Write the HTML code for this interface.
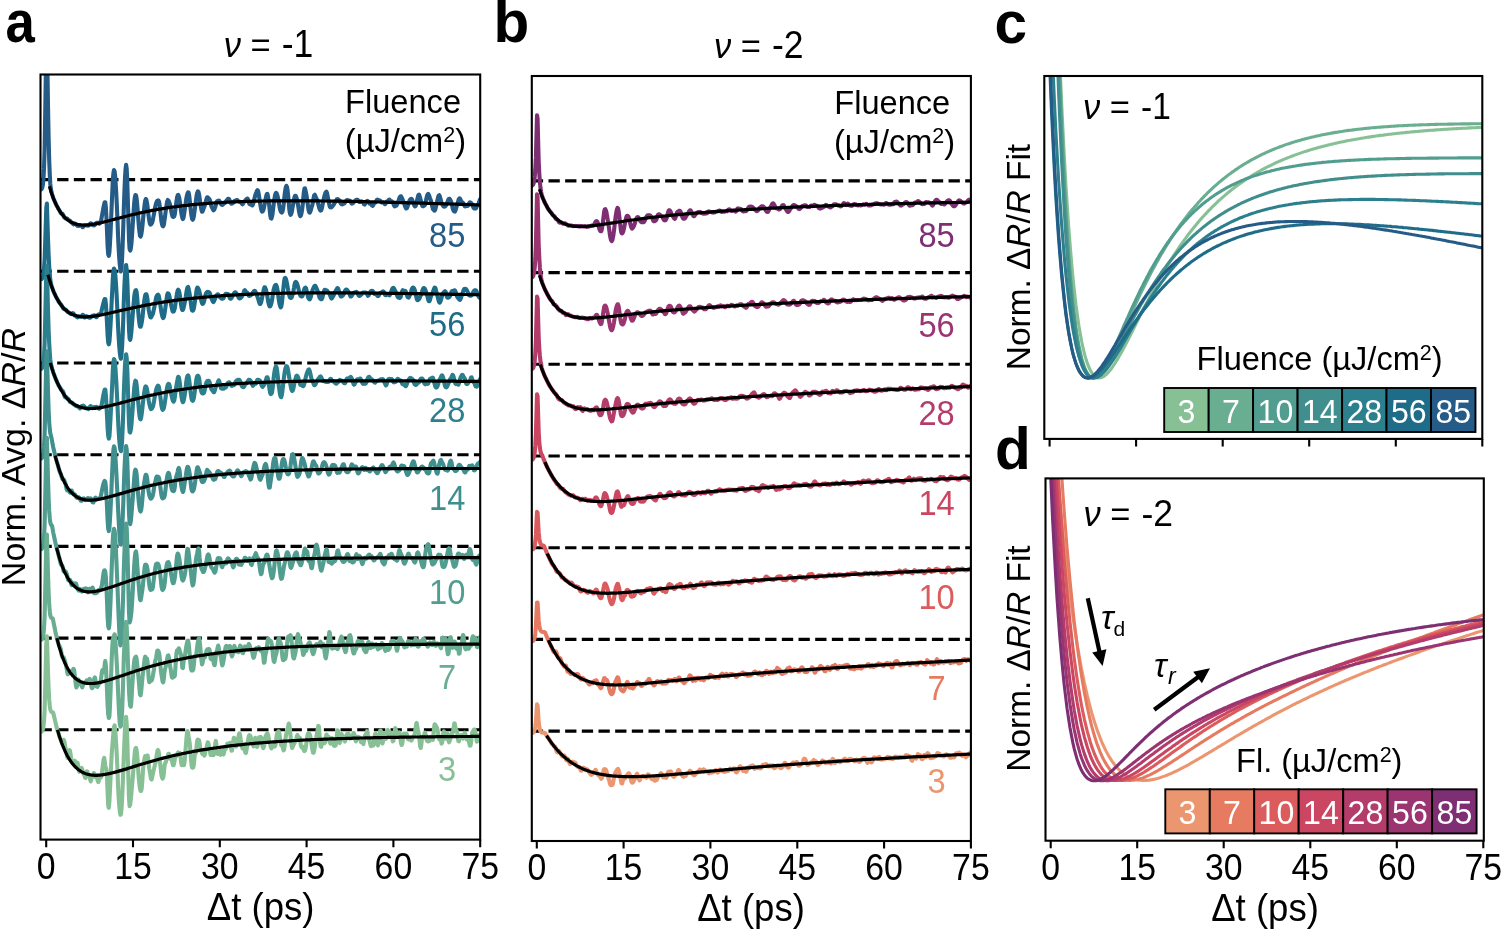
<!DOCTYPE html>
<html lang="en"><head><meta charset="utf-8"><title>Figure</title>
<style>html,body{margin:0;padding:0;background:#fff}svg{display:block}</style></head>
<body>
<svg width="1501" height="929" viewBox="0 0 1501 929" font-family='"Liberation Sans", sans-serif' font-size="33.5">
<rect width="1501" height="929" fill="#fff"/>
<defs>
<clipPath id="ca"><rect x="40.5" y="74.5" width="439.7" height="765.1"/></clipPath>
<clipPath id="cb"><rect x="531.8" y="76.0" width="439.1" height="765.0"/></clipPath>
<clipPath id="cc"><rect x="1044.3" y="76.0" width="438.0" height="362.9"/></clipPath>
<clipPath id="cd"><rect x="1045.5" y="478.4" width="438.3" height="362.3"/></clipPath>
</defs>
<path d="M40.5 179.6H480.2M40.5 271.3H480.2M40.5 363.0H480.2M40.5 454.7H480.2M40.5 546.4H480.2M40.5 638.1H480.2M40.5 729.8H480.2" stroke="#000" stroke-width="3.1" stroke-dasharray="11.3 5.37" fill="none"/>
<g clip-path="url(#ca)" fill="none" stroke-linejoin="round" stroke-linecap="round">
<path d="M40.5 189.5L41.1 189.4L41.7 188.9L42.2 187.8L42.8 185.2L43.4 179.7L44 168.9L44.6 149.9L45.1 119.9L45.7 81.1L46.3 43L46.9 34.2L47.4 67L48 105.5L48.6 137.3L49.2 160.3L49.8 175.2L50.3 183.9L50.9 188.9L51.5 192.1L52.1 194.3L52.7 196.1L53.2 197.7L53.8 199.2L54.4 200.6L55 202L55.5 203.2L56.1 204.5L56.7 205.7L57.3 206.8L57.9 207.8L58.4 208.8L59 209.7L59.6 210.7L60.2 212L60.8 213.1L61.3 213.6L61.9 213.6L62.5 213.9L63.1 214.8L63.6 216.1L64.2 217.3L64.8 217.9L65.4 218.3L66 218.5L66.5 218.5L67.1 218.6L67.7 219.1L68.3 219.7L68.9 220.1L69.4 220.3L70 220.8L70.6 221.6L71.2 222.2L71.7 222.6L72.3 223L72.9 223.8L73.5 224.3L74.1 224L74.6 223.6L75.2 223.5L75.8 224L76.4 224.6L77 225.3L77.5 225.8L78.1 225.9L78.7 225.9L79.3 225.6L79.9 225.4L80.4 225.2L81 225.3L81.6 226L82.2 226.7L82.7 227.2L83.3 226.8L83.9 225.9L84.5 225.3L85.1 225.2L85.6 225.3L86.2 225.2L86.8 225.3L87.4 225.6L88 225.7L88.5 225.5L89.1 224.9L89.7 224.3L90.3 223.6L90.8 223.3L91.4 223.7L92 224.4L92.6 224.9L93.2 225.2L93.7 225.4L94.3 225.3L94.9 224.9L95.5 224L96.1 223.2L96.6 222.8L97.2 222.7L97.8 222.8L98.4 223.2L98.9 223.6L99.5 223.6L100.1 223L100.7 221.7L101.3 219.6L101.8 216.7L102.4 213.4L103 210L103.6 206.7L104.2 204.1L104.7 202.3L105.3 202.2L105.9 208L106.5 219.2L107.1 233.3L107.6 246.2L108.2 254.2L108.8 255.9L109.4 252.3L109.9 244.7L110.5 233.7L111.1 220L111.7 205.3L112.3 191.5L112.8 180.5L113.4 173.2L114 170L114.6 171.3L115.2 176.3L115.7 184.2L116.3 194.4L116.9 206.6L117.5 220.4L118 234.6L118.6 247.4L119.2 257.6L119.8 264.8L120.4 269.5L120.9 271.5L121.5 268L122.1 258.2L122.7 243.5L123.3 226.4L123.8 208.8L124.4 192L125 177.9L125.6 168.4L126.1 164.7L126.7 168.9L127.3 182.4L127.9 202L128.5 222.6L129 239.5L129.6 249.1L130.2 250.6L130.8 248.6L131.4 244L131.9 237.1L132.5 228.4L133.1 219.2L133.7 210.4L134.2 203.1L134.8 197.7L135.4 195L136 195.3L136.6 198.3L137.1 203.5L137.7 210.6L138.3 219L138.9 226.7L139.5 232.3L140 235.7L140.6 236.5L141.2 234.8L141.8 231.2L142.4 226.3L142.9 220.7L143.5 214.7L144.1 208.9L144.7 204.1L145.2 200.6L145.8 199L146.4 199.9L147 202.8L147.6 207.1L148.1 212L148.7 216.6L149.3 220.8L149.9 223.6L150.5 224.6L151 224.4L151.6 223.7L152.2 222.5L152.8 220.2L153.3 217.5L153.9 214.4L154.5 210.9L155.1 207.4L155.7 204.8L156.2 202.9L156.8 201.6L157.4 200.8L158 200.4L158.6 200.5L159.1 202.1L159.7 205.7L160.3 211L160.9 216.5L161.4 221L162 224.2L162.6 226.1L163.2 226.3L163.8 224.9L164.3 221.7L164.9 217.5L165.5 212.8L166.1 208.2L166.7 204.2L167.2 201.3L167.8 200L168.4 200.5L169 201.7L169.6 203.2L170.1 205.2L170.7 208L171.3 211.3L171.9 214.3L172.4 216.2L173 216.9L173.6 216.9L174.2 216.3L174.8 214.4L175.3 210.5L175.9 205.6L176.5 201L177.1 197.3L177.7 195.2L178.2 194.8L178.8 196.2L179.4 198.8L180 202.5L180.5 207L181.1 211.4L181.7 215.1L182.3 217.8L182.9 219L183.4 218L184 214.9L184.6 210.7L185.2 206.5L185.8 202.4L186.3 198.6L186.9 195.6L187.5 193.5L188.1 192.3L188.6 192.6L189.2 195.5L189.8 200.8L190.4 206.9L191 212.1L191.5 215.9L192.1 218.7L192.7 219.8L193.3 218.8L193.9 216.1L194.4 212.3L195 207.9L195.6 203L196.2 198.6L196.7 195.1L197.3 192.6L197.9 191.3L198.5 191.9L199.1 194.4L199.6 198.1L200.2 202.2L200.8 206.3L201.4 209.7L202 211.7L202.5 211.5L203.1 210L203.7 208.3L204.3 206.8L204.9 205.3L205.4 203.2L206 200.7L206.6 198.5L207.2 197.2L207.7 197.2L208.3 198L208.9 198.7L209.5 199.3L210.1 200.7L210.6 203.2L211.2 205.6L211.8 207.2L212.4 208.4L213 209.6L213.5 210.3L214.1 209.8L214.7 208.5L215.3 206.9L215.8 204.9L216.4 202.9L217 201.4L217.6 200.9L218.2 200.8L218.7 200.6L219.3 200.8L219.9 201.7L220.5 203L221.1 204.1L221.6 204.7L222.2 205L222.8 204.6L223.4 203.9L223.9 203.6L224.5 203.4L225.1 202.8L225.7 201.7L226.3 200.8L226.8 200.2L227.4 199.5L228 198.8L228.6 198.7L229.2 199.4L229.7 200.5L230.3 201.8L230.9 203.1L231.5 203.8L232 203.8L232.6 203.3L233.2 202.8L233.8 201.9L234.4 201.1L234.9 200.7L235.5 200.6L236.1 200.3L236.7 200L237.3 200.1L237.8 200.6L238.4 201.2L239 201.6L239.6 201.9L240.2 201.8L240.7 202L241.3 202.7L241.9 203.7L242.5 204.3L243 203.8L243.6 202.8L244.2 201.8L244.8 200.9L245.4 200.3L245.9 199.7L246.5 199L247.1 198.5L247.7 198.7L248.3 200.3L248.8 202.5L249.4 204L250 204.3L250.6 204.1L251.1 204.5L251.7 205.1L252.3 205.4L252.9 204.6L253.5 202.7L254 200.4L254.6 197.9L255.2 195.5L255.8 193.7L256.4 192.3L256.9 191L257.5 190.1L258.1 190.9L258.7 193.8L259.2 197.4L259.8 201.2L260.4 205.1L261 208.5L261.6 210.8L262.1 211.6L262.7 211.5L263.3 210.2L263.9 207.8L264.5 204.9L265 201.8L265.6 198.9L266.2 196.1L266.8 194.2L267.4 193.9L267.9 195.8L268.5 199.7L269.1 204.6L269.7 210L270.2 215L270.8 218.2L271.4 218.6L272 216.7L272.6 213.3L273.1 208.9L273.7 204L274.3 199.5L274.9 196.1L275.5 193.8L276 192.9L276.6 193.3L277.2 194.8L277.8 197.1L278.3 199.7L278.9 202.9L279.5 206.5L280.1 209.6L280.7 211.4L281.2 212.2L281.8 212.6L282.4 211.8L283 209.3L283.6 205L284.1 199.7L284.7 194.3L285.3 189.8L285.9 186.9L286.4 185.9L287 187L287.6 190.4L288.2 196.1L288.8 203.1L289.3 209.3L289.9 213.3L290.5 214.8L291.1 214.2L291.7 212.3L292.2 209.4L292.8 206.2L293.4 202.9L294 199.7L294.5 197.1L295.1 195.7L295.7 195.8L296.3 197.1L296.9 199.1L297.4 201.7L298 204.8L298.6 208.6L299.2 212.3L299.8 215L300.3 216.1L300.9 215.5L301.5 213.2L302.1 209.8L302.7 205.1L303.2 199L303.8 192.6L304.4 188.7L305 188.4L305.5 190.4L306.1 193.3L306.7 196.7L307.3 200.8L307.9 205.2L308.4 209L309 211.8L309.6 212.7L310.2 211.9L310.8 210.3L311.3 208.2L311.9 206.4L312.5 204.4L313.1 201.4L313.6 197.9L314.2 195.2L314.8 194.7L315.4 196L316 197.5L316.5 198.6L317.1 200L317.7 201.9L318.3 204.4L318.9 206.7L319.4 208.5L320 209.9L320.6 210.6L321.2 210.4L321.7 208.9L322.3 206.2L322.9 203L323.5 199.9L324.1 197.4L324.6 195.3L325.2 193.5L325.8 192.1L326.4 191.7L327 192.9L327.5 195.4L328.1 198.6L328.7 201.8L329.3 204.7L329.8 206.7L330.4 207.3L331 207.4L331.6 207.2L332.2 206.5L332.7 205.8L333.3 205.1L333.9 204.3L334.5 203.1L335.1 202.2L335.6 201.5L336.2 200.5L336.8 199.4L337.4 199.1L338 199.3L338.5 199.6L339.1 200.2L339.7 201.3L340.3 202.6L340.8 203.5L341.4 204.2L342 204.4L342.6 204.1L343.2 203.8L343.7 203.7L344.3 203.4L344.9 202.6L345.5 201.6L346.1 200.8L346.6 200.2L347.2 200.1L347.8 200.2L348.4 200.4L348.9 200.6L349.5 200.7L350.1 201L350.7 201.9L351.3 203L351.8 203.6L352.4 203.5L353 203.1L353.6 202.4L354.2 201.6L354.7 201L355.3 200.5L355.9 200.2L356.5 199.8L357 199.7L357.6 199.8L358.2 200.4L358.8 201.2L359.4 201.9L359.9 202L360.5 201.6L361.1 201.4L361.7 201.4L362.3 201.6L362.8 202.1L363.4 203.1L364 204.2L364.6 204.6L365.2 203.8L365.7 202.5L366.3 201.5L366.9 201.1L367.5 200.9L368 201.3L368.6 202L369.2 202.9L369.8 203.7L370.4 203.9L370.9 204L371.5 204.6L372.1 205.5L372.7 205.8L373.3 205L373.8 203.8L374.4 203L375 202.8L375.6 202.4L376.1 201.4L376.7 200L377.3 199.5L377.9 199.8L378.5 200.4L379 200.5L379.6 200.4L380.2 200.8L380.8 201.6L381.4 202.3L381.9 202.5L382.5 202.3L383.1 202.3L383.7 202.7L384.2 203.5L384.8 204.2L385.4 204L386 203L386.6 201.8L387.1 201.3L387.7 201.2L388.3 200.5L388.9 199.7L389.5 199.6L390 200.3L390.6 200.8L391.2 201.1L391.8 201.4L392.3 201.8L392.9 202.7L393.5 204.1L394.1 205.6L394.7 206.3L395.2 206.1L395.8 205.9L396.4 205.6L397 204.7L397.6 203.3L398.1 201.8L398.7 200.2L399.3 198.4L399.9 197L400.5 196.2L401 196.3L401.6 197.3L402.2 198.6L402.8 200.1L403.3 201.4L403.9 202.7L404.5 204.5L405.1 206.4L405.7 207.8L406.2 208.5L406.8 208.2L407.4 207.1L408 205.4L408.6 203.3L409.1 201.5L409.7 200.2L410.3 199.4L410.9 198.9L411.4 198.8L412 199.6L412.6 200.9L413.2 202.5L413.8 204.1L414.3 205.5L414.9 206.4L415.5 206.3L416.1 204.8L416.7 202.4L417.2 199.8L417.8 197.1L418.4 195.1L419 194.6L419.5 195.8L420.1 197.9L420.7 200.1L421.3 202.4L421.9 204.5L422.4 206L423 206.3L423.6 206L424.2 205.7L424.8 205.2L425.3 203.8L425.9 201L426.5 198L427.1 195.7L427.7 194.3L428.2 193.9L428.8 194.8L429.4 196.5L430 198.2L430.5 199.5L431.1 201.2L431.7 203.8L432.3 206.8L432.9 208.9L433.4 209.8L434 210.3L434.6 210.6L435.2 209.6L435.8 207.4L436.3 204.7L436.9 202.1L437.5 199.7L438.1 197.3L438.6 195.6L439.2 195.2L439.8 196.3L440.4 198.4L441 200.8L441.5 202.8L442.1 204.2L442.7 205.2L443.3 206.1L443.9 206.6L444.4 206.7L445 206.4L445.6 205.9L446.2 205L446.7 203.7L447.3 202.2L447.9 200.7L448.5 199.4L449.1 198.7L449.6 198.8L450.2 199.7L450.8 200.9L451.4 202.5L452 204.8L452.5 207.5L453.1 209.6L453.7 210.9L454.3 211.5L454.8 211.6L455.4 210.6L456 208.6L456.6 206.6L457.2 204.8L457.7 202.9L458.3 200.7L458.9 199L459.5 198.3L460.1 198.7L460.6 199.9L461.2 201.3L461.8 202L462.4 202.3L463 202.9L463.5 203.9L464.1 205.2L464.7 206.1L465.3 206.4L465.8 206.2L466.4 205.9L467 206L467.6 205.9L468.2 205.1L468.7 204L469.3 202.9L469.9 202.3L470.5 202.4L471.1 203L471.6 203.7L472.2 204.6L472.8 205.9L473.4 207.4L473.9 208.3L474.5 208.5L475.1 208.6L475.7 208.5L476.3 207.8L476.8 206.5L477.4 205.3L478 204.5L478.6 203.5L479.2 201.8L479.7 199.9L480.3 199.2" stroke="#245B87" stroke-width="4.1"/>
<path d="M40.5 279.3L41.1 279.2L41.7 279L42.2 278.4L42.8 277.2L43.4 274.4L44 269.1L44.6 259.7L45.1 245.2L45.7 226.3L46.3 207.8L46.9 203.6L47.4 219.8L48 238.9L48.6 254.6L49.2 266.5L49.8 274.8L50.3 279.9L50.9 283.3L51.5 285.6L52.1 287.5L52.7 289.1L53.2 290.6L53.8 292L54.4 293.3L55 294.6L55.5 295.8L56.1 297L56.7 298L57.3 299L57.9 300L58.4 301.1L59 302.1L59.6 302.9L60.2 303.6L60.8 304.3L61.3 305L61.9 305.9L62.5 307.1L63.1 308.2L63.6 308.9L64.2 309.2L64.8 309.3L65.4 309.5L66 309.8L66.5 310.4L67.1 311.2L67.7 312L68.3 312.3L68.9 312.5L69.4 312.9L70 313.4L70.6 313.9L71.2 314.1L71.7 313.8L72.3 313.3L72.9 313L73.5 313.5L74.1 314.6L74.6 315.4L75.2 315.7L75.8 315.8L76.4 316.4L77 317.1L77.5 317.5L78.1 317.2L78.7 316.7L79.3 316.5L79.9 316.6L80.4 316.8L81 316.8L81.6 316.2L82.2 315.4L82.7 314.8L83.3 315.1L83.9 316.4L84.5 317.5L85.1 317.3L85.6 316.5L86.2 316.1L86.8 316.5L87.4 316.7L88 316.8L88.5 317.1L89.1 317.6L89.7 317.8L90.3 317.7L90.8 317.3L91.4 316.6L92 316L92.6 315.7L93.2 315.9L93.7 315.7L94.3 315.3L94.9 315.4L95.5 316.2L96.1 317.3L96.6 317.3L97.2 316.3L97.8 315.1L98.4 314.4L98.9 314.3L99.5 314.1L100.1 314L100.7 313.5L101.3 312.1L101.8 309.8L102.4 307.2L103 304.7L103.6 302.3L104.2 300.3L104.7 299L105.3 299L105.9 303.9L106.5 313.5L107.1 324.9L107.6 335.4L108.2 342.4L108.8 344.3L109.4 341.8L109.9 335.4L110.5 325.7L111.1 313.8L111.7 301.2L112.3 289.2L112.8 278.7L113.4 271.2L114 268.5L114.6 269.9L115.2 273.8L115.7 279.9L116.3 289L116.9 300.4L117.5 312.9L118 325.2L118.6 336.4L119.2 345.5L119.8 352.6L120.4 357.3L120.9 358.7L121.5 355.2L122.1 346.6L122.7 334.1L123.3 318.6L123.8 301.7L124.4 286.2L125 274.3L125.6 267.2L126.1 265L126.7 269.2L127.3 280.8L127.9 297.1L128.5 314.5L129 329.5L129.6 338.7L130.2 339.9L130.8 337.1L131.4 331.7L131.9 325L132.5 317.6L133.1 310L133.7 302.8L134.2 296.8L134.8 292.7L135.4 290.6L136 290.1L136.6 291.9L137.1 296.6L137.7 304.1L138.3 312.3L138.9 319.1L139.5 324L140 326.7L140.6 326.8L141.2 325L141.8 321.9L142.4 318L142.9 313.2L143.5 307.5L144.1 302L144.7 297.9L145.2 295.3L145.8 294.2L146.4 294.2L147 296.3L147.6 300.4L148.1 305.3L148.7 309.6L149.3 312.9L149.9 315.6L150.5 317.3L151 317.4L151.6 316.4L152.2 315.2L152.8 313.9L153.3 311.9L153.9 309.3L154.5 306.5L155.1 303.3L155.7 299.9L156.2 297.2L156.8 295.8L157.4 295.1L158 294.6L158.6 295.3L159.1 297.5L159.7 300.9L160.3 304.9L160.9 308.7L161.4 312.1L162 315L162.6 317.1L163.2 318L163.8 317.2L164.3 314.8L164.9 311.2L165.5 306.9L166.1 302.3L166.7 298L167.2 294.8L167.8 293.3L168.4 293.4L169 294.8L169.6 297.1L170.1 300.1L170.7 303.1L171.3 305.9L171.9 308.5L172.4 310.6L173 311.6L173.6 311.5L174.2 310.3L174.8 308.1L175.3 304.7L175.9 300.6L176.5 296.5L177.1 292.9L177.7 290.4L178.2 289.7L178.8 290.5L179.4 292.6L180 296L180.5 300.6L181.1 305.1L181.7 308.4L182.3 310L182.9 309.9L183.4 308.5L184 306.1L184.6 303.3L185.2 300.2L185.8 296.6L186.3 292.9L186.9 289.6L187.5 287.4L188.1 287L188.6 288.7L189.2 291.7L189.8 295.2L190.4 299.5L191 304.3L191.5 308.3L192.1 310.4L192.7 310.7L193.3 310.2L193.9 308.2L194.4 305L195 301.1L195.6 297L196.2 292.9L196.7 289.4L197.3 287.6L197.9 287.8L198.5 289L199.1 290.6L199.6 292.5L200.2 295L200.8 298.2L201.4 301.2L202 303.2L202.5 304L203.1 303.7L203.7 302.5L204.3 300.5L204.9 297.8L205.4 295.3L206 293.5L206.6 292.6L207.2 292.1L207.7 291.8L208.3 291.9L208.9 292.3L209.5 292.7L210.1 293.8L210.6 295.6L211.2 297.5L211.8 299.3L212.4 300.7L213 301.9L213.5 302.1L214.1 301L214.7 299.5L215.3 298.1L215.8 296.8L216.4 295.7L217 294.8L217.6 294.3L218.2 294.5L218.7 295.5L219.3 296.5L219.9 297.2L220.5 297.7L221.1 298.2L221.6 298.6L222.2 298.8L222.8 298.6L223.4 298.2L223.9 297.3L224.5 296L225.1 294.6L225.7 293.8L226.3 294L226.8 294.4L227.4 294.2L228 294L228.6 294.7L229.2 296.4L229.7 298L230.3 298.8L230.9 298.7L231.5 298L232 297.2L232.6 296.1L233.2 294.8L233.8 293.7L234.4 292.8L234.9 292.4L235.5 292.4L236.1 293L236.7 294L237.3 294.8L237.8 295.6L238.4 297L239 298.2L239.6 298.5L240.2 298.2L240.7 297.9L241.3 297.3L241.9 296.4L242.5 295.4L243 294.2L243.6 292.6L244.2 290.8L244.8 290.2L245.4 290.9L245.9 291.8L246.5 292.3L247.1 292.6L247.7 293.5L248.3 294.8L248.8 295.7L249.4 295.9L250 295.6L250.6 295.3L251.1 295L251.7 294.5L252.3 293.6L252.9 292.6L253.5 291.8L254 291.1L254.6 290.8L255.2 291.1L255.8 292.3L256.4 293.8L256.9 295.2L257.5 296.9L258.1 298.7L258.7 300.7L259.2 302.5L259.8 303.8L260.4 304L261 302.7L261.6 300.3L262.1 297.6L262.7 294.7L263.3 291.7L263.9 288.9L264.5 287.2L265 287.3L265.6 288.7L266.2 290.7L266.8 293.4L267.4 296.6L267.9 300L268.5 303L269.1 305.3L269.7 306.4L270.2 306.3L270.8 305.1L271.4 303.2L272 300.2L272.6 296.4L273.1 292.5L273.7 289.5L274.3 287.3L274.9 285.8L275.5 285L276 284.9L276.6 286L277.2 288.3L277.8 291.7L278.3 296.1L278.9 300.3L279.5 303.8L280.1 306.1L280.7 307.4L281.2 306.9L281.8 303.7L282.4 298.4L283 292.2L283.6 286.3L284.1 281.4L284.7 278.3L285.3 277.9L285.9 278.8L286.4 280.8L287 283.6L287.6 286.9L288.2 290.3L288.8 293.2L289.3 295.6L289.9 297.3L290.5 298L291.1 297.9L291.7 297.3L292.2 296L292.8 293.8L293.4 291L294 287.8L294.5 284.7L295.1 282.5L295.7 281.9L296.3 282.4L296.9 283.3L297.4 284.7L298 286.8L298.6 289.5L299.2 292.1L299.8 294.2L300.3 295.5L300.9 296.2L301.5 296.5L302.1 296.3L302.7 295.4L303.2 293.3L303.8 290.8L304.4 288.8L305 287.8L305.5 287.6L306.1 288.5L306.7 290.9L307.3 294.1L307.9 296.5L308.4 298L309 299L309.6 299.3L310.2 298.6L310.8 297L311.3 294.9L311.9 292.5L312.5 290.3L313.1 288.8L313.6 287.7L314.2 286.6L314.8 285.8L315.4 286L316 287.1L316.5 288.5L317.1 289.7L317.7 291.1L318.3 293L318.9 295.2L319.4 297.2L320 298.3L320.6 299L321.2 299.3L321.7 299.2L322.3 297.9L322.9 295.6L323.5 293.1L324.1 290.9L324.6 289.9L325.2 289.9L325.8 290.4L326.4 290.5L327 290.6L327.5 291.2L328.1 292.3L328.7 293.1L329.3 293.7L329.8 294.6L330.4 296.2L331 297.9L331.6 298.5L332.2 298L332.7 296.9L333.3 295.9L333.9 294.8L334.5 293.4L335.1 292L335.6 291.1L336.2 290L336.8 288.9L337.4 288.1L338 288.4L338.5 289.6L339.1 291.5L339.7 293.6L340.3 295.4L340.8 296.4L341.4 296.5L342 296.1L342.6 295.6L343.2 295L343.7 294L344.3 292.6L344.9 291.1L345.5 290.1L346.1 289.6L346.6 289.5L347.2 290L347.8 291L348.4 291.7L348.9 292.4L349.5 293.9L350.1 295.7L350.7 296.5L351.3 296.3L351.8 295.6L352.4 294.6L353 293.6L353.6 293L354.2 292.7L354.7 292.5L355.3 292.3L355.9 292.1L356.5 291.9L357 292.3L357.6 293.3L358.2 294.7L358.8 295.7L359.4 295.9L359.9 295.6L360.5 295.3L361.1 294.8L361.7 294.1L362.3 293.2L362.8 292.7L363.4 292.5L364 292.5L364.6 292.5L365.2 292.6L365.7 292.6L366.3 292.7L366.9 293.5L367.5 295L368 295.8L368.6 295.3L369.2 294L369.8 292.7L370.4 291.7L370.9 291.2L371.5 290.9L372.1 290.8L372.7 291.1L373.3 292.1L373.8 293.2L374.4 293.9L375 293.9L375.6 293.7L376.1 293.9L376.7 294.6L377.3 295.6L377.9 296.1L378.5 295.9L379 295.1L379.6 294L380.2 293.1L380.8 292.6L381.4 292.4L381.9 292L382.5 291.5L383.1 291.4L383.7 291.9L384.2 293L384.8 294.4L385.4 295.2L386 295.2L386.6 294.8L387.1 294.5L387.7 294.4L388.3 294.6L388.9 295L389.5 295.3L390 294.8L390.6 293.4L391.2 291.6L391.8 290.1L392.3 288.8L392.9 288L393.5 287.9L394.1 288.6L394.7 289.8L395.2 290.8L395.8 292.1L396.4 293.6L397 295.3L397.6 296.7L398.1 297.4L398.7 297.7L399.3 297.8L399.9 297.9L400.5 297.3L401 295.8L401.6 293.5L402.2 291.3L402.8 290.2L403.3 290.6L403.9 291.4L404.5 291.2L405.1 290.9L405.7 291.4L406.2 293L406.8 294.9L407.4 296.4L408 297.4L408.6 297.6L409.1 296.9L409.7 295.5L410.3 293.9L410.9 292.4L411.4 290.5L412 288.7L412.6 287.7L413.2 287.6L413.8 288.1L414.3 288.9L414.9 290.5L415.5 293.1L416.1 296.1L416.7 298.6L417.2 300L417.8 300.2L418.4 299.7L419 299.1L419.5 298.3L420.1 297.1L420.7 295.4L421.3 293.9L421.9 292.4L422.4 290.5L423 289L423.6 288.1L424.2 288.1L424.8 288.7L425.3 289.9L425.9 291.5L426.5 293.2L427.1 295.2L427.7 297.6L428.2 299.8L428.8 301.2L429.4 301.3L430 299.9L430.5 297.8L431.1 295.9L431.7 294.5L432.3 293.3L432.9 292L433.4 290.5L434 288.9L434.6 287.6L435.2 287.8L435.8 289.4L436.3 291.8L436.9 294.1L437.5 296.2L438.1 298.5L438.6 300.7L439.2 302.3L439.8 302.7L440.4 301.6L441 299.7L441.5 297.7L442.1 295.9L442.7 294.3L443.3 293L443.9 292.1L444.4 291.6L445 291.2L445.6 291.6L446.2 293.5L446.7 296L447.3 297.6L447.9 297.8L448.5 297.4L449.1 297.1L449.6 296.7L450.2 295.7L450.8 293.9L451.4 292L452 291.1L452.5 291.2L453.1 291.3L453.7 290.8L454.3 290.2L454.8 290.2L455.4 291.2L456 293.1L456.6 295.3L457.2 296.9L457.7 297.6L458.3 298.1L458.9 299L459.5 299.8L460.1 299.9L460.6 298.9L461.2 297.2L461.8 295.3L462.4 293.6L463 291.9L463.5 290.3L464.1 289.2L464.7 288.9L465.3 288.8L465.8 288.9L466.4 289.6L467 290.6L467.6 291.8L468.2 293.2L468.7 294.6L469.3 295.3L469.9 295.5L470.5 295.7L471.1 295.8L471.6 295.2L472.2 294L472.8 292.9L473.4 292L473.9 291.1L474.5 290.4L475.1 290.2L475.7 290.3L476.3 290.8L476.8 292L477.4 293.6L478 295.4L478.6 296.7L479.2 297.4L479.7 297.7L480.3 297.7" stroke="#1F6C89" stroke-width="4.1"/>
<path d="M40.5 369L41.1 368.9L41.7 368.6L42.2 367.9L42.8 366.3L43.4 362.9L44 356.1L44.6 344L45.1 323.9L45.7 297.7L46.3 272.1L46.9 265.5L47.4 285.7L48 309.7L48.6 329.5L49.2 343.3L49.8 353.4L50.3 359.7L50.9 363.7L51.5 366.4L52.1 368.6L52.7 370.5L53.2 372.2L53.8 373.9L54.4 375.5L55 377L55.5 378.4L56.1 379.8L56.7 381.1L57.3 382.5L57.9 383.8L58.4 385L59 385.9L59.6 386.8L60.2 387.9L60.8 388.9L61.3 389.8L61.9 390.3L62.5 390.9L63.1 391.6L63.6 392.9L64.2 394.9L64.8 396.8L65.4 397.5L66 397.2L66.5 397.3L67.1 398.3L67.7 399L68.3 399L68.9 399.6L69.4 401L70 402.1L70.6 402.3L71.2 402.3L71.7 402.6L72.3 402.9L72.9 403.4L73.5 404.2L74.1 404.7L74.6 404.9L75.2 405.2L75.8 405.8L76.4 406.1L77 406.1L77.5 406.2L78.1 406.5L78.7 407L79.3 407.9L79.9 408.4L80.4 407.8L81 406.7L81.6 406.1L82.2 406L82.7 405.8L83.3 405.6L83.9 406L84.5 406.8L85.1 407.5L85.6 408.1L86.2 408.3L86.8 408.5L87.4 408.6L88 408.9L88.5 409.1L89.1 408.2L89.7 407L90.3 406.2L90.8 406.1L91.4 406.7L92 407.6L92.6 408.2L93.2 408.1L93.7 407.3L94.3 407L94.9 407L95.5 407L96.1 406.9L96.6 406.9L97.2 407.1L97.8 407.5L98.4 408L98.9 408.6L99.5 408.6L100.1 408.1L100.7 407.2L101.3 405.9L101.8 403.9L102.4 400.7L103 397.2L103.6 394L104.2 391.4L104.7 389.5L105.3 389.5L105.9 395.4L106.5 405.8L107.1 417.6L107.6 428.3L108.2 435.7L108.8 438.6L109.4 436.5L109.9 429.3L110.5 418.7L111.1 407.1L111.7 395.1L112.3 382.6L112.8 370.6L113.4 362.1L114 359L114.6 360.4L115.2 365L115.7 372.2L116.3 381.7L116.9 393.1L117.5 405.5L118 418.1L118.6 429.9L119.2 439.2L119.8 445.7L120.4 449.6L120.9 451.2L121.5 448.7L122.1 440.7L122.7 427.4L123.3 410.9L123.8 393.6L124.4 377.8L125 365.4L125.6 357.4L126.1 354.2L126.7 357.8L127.3 369.8L127.9 387.9L128.5 407.2L129 423.1L129.6 431.8L130.2 432.5L130.8 429.9L131.4 425.1L131.9 418.7L132.5 411L133.1 402.6L133.7 394.8L134.2 388.3L134.8 383.4L135.4 380.7L136 381.2L136.6 384.7L137.1 389.9L137.7 396.1L138.3 403.1L138.9 410L139.5 415.5L140 418.8L140.6 419.4L141.2 417.3L141.8 413.2L142.4 408.1L142.9 403.1L143.5 398.2L144.1 393.4L144.7 389.5L145.2 387.1L145.8 386.3L146.4 387L147 389.3L147.6 392.7L148.1 396.6L148.7 400.3L149.3 403.5L149.9 406.1L150.5 408.1L151 409.1L151.6 408.9L152.2 407.9L152.8 406.8L153.3 405.1L153.9 402.2L154.5 398.4L155.1 394.8L155.7 391.9L156.2 389.5L156.8 387.6L157.4 386.4L158 385.6L158.6 386.1L159.1 388.1L159.7 391.8L160.3 396.5L160.9 401.2L161.4 405.4L162 408.4L162.6 409.8L163.2 409.5L163.8 408.1L164.3 405.8L164.9 402.3L165.5 398.1L166.1 393.8L166.7 389.9L167.2 386.8L167.8 384.7L168.4 383.8L169 383.9L169.6 385.7L170.1 388.6L170.7 391.5L171.3 394.4L171.9 396.9L172.4 399.2L173 401L173.6 401.7L174.2 400.5L174.8 397.3L175.3 393.2L175.9 389L176.5 385.2L177.1 381.9L177.7 378.7L178.2 376.8L178.8 377.2L179.4 380L180 384.3L180.5 389.1L181.1 394L181.7 398.2L182.3 401.1L182.9 402.2L183.4 401.4L184 399.1L184.6 395.6L185.2 391.4L185.8 386.5L186.3 381.5L186.9 377.8L187.5 375.8L188.1 375.3L188.6 376.6L189.2 379.9L189.8 385L190.4 390.4L191 395.1L191.5 398.5L192.1 400.2L192.7 400.8L193.3 400.1L193.9 397.8L194.4 394.3L195 390.1L195.6 385.7L196.2 381.1L196.7 377.6L197.3 376L197.9 375.6L198.5 376.2L199.1 378.3L199.6 382L200.2 386.2L200.8 389.6L201.4 391.8L202 393.1L202.5 393.4L203.1 393.4L203.7 393.3L204.3 391.9L204.9 389.3L205.4 386.1L206 383.5L206.6 382L207.2 381.2L207.7 381L208.3 380.8L208.9 381L209.5 382.1L210.1 384L210.6 386.5L211.2 388.7L211.8 389.8L212.4 390.2L213 391L213.5 392.2L214.1 392.3L214.7 390.8L215.3 388.6L215.8 386.8L216.4 385.7L217 384.5L217.6 383L218.2 381.3L218.7 380.4L219.3 381.4L219.9 383.6L220.5 386.4L221.1 388.3L221.6 388.6L222.2 388.4L222.8 388.5L223.4 388.8L223.9 388.6L224.5 388L225.1 387.6L225.7 387.5L226.3 386.7L226.8 385.4L227.4 384L228 382.9L228.6 382.4L229.2 382.3L229.7 382.9L230.3 383.8L230.9 384.9L231.5 385.8L232 385.9L232.6 385.3L233.2 385L233.8 385.2L234.4 384.8L234.9 383.5L235.5 381.9L236.1 381L236.7 380.5L237.3 380.1L237.8 379.9L238.4 379.7L239 379.8L239.6 380.2L240.2 381.3L240.7 382.9L241.3 384.7L241.9 386.1L242.5 386.7L243 387.1L243.6 387.2L244.2 386.5L244.8 385.1L245.4 384L245.9 383.7L246.5 383.4L247.1 382.4L247.7 381.4L248.3 380.5L248.8 379.8L249.4 379.7L250 380.1L250.6 380.8L251.1 381.6L251.7 383.2L252.3 384.9L252.9 385.8L253.5 385.3L254 384.1L254.6 383.4L255.2 383.5L255.8 383.7L256.4 382.5L256.9 380.6L257.5 379.7L258.1 379.7L258.7 379.9L259.2 380.1L259.8 380.6L260.4 381.8L261 383.5L261.6 385.3L262.1 386.5L262.7 386.8L263.3 386L263.9 385L264.5 384.2L265 383.2L265.6 381.4L266.2 378.9L266.8 377.3L267.4 377.2L267.9 378.8L268.5 382.2L269.1 386.4L269.7 390.5L270.2 393.2L270.8 394.1L271.4 393.9L272 392.2L272.6 388.7L273.1 383.5L273.7 377.7L274.3 372.8L274.9 369.4L275.5 367.2L276 366.3L276.6 367.6L277.2 371.2L277.8 376.3L278.3 381.6L278.9 386.6L279.5 391L280.1 394.6L280.7 396.8L281.2 397.2L281.8 395.3L282.4 391.1L283 385.7L283.6 380.5L284.1 376L284.7 372L285.3 368.9L285.9 367.1L286.4 366.2L287 366.4L287.6 368L288.2 371.2L288.8 374.9L289.3 378.2L289.9 381.6L290.5 385.1L291.1 388.1L291.7 390.2L292.2 391L292.8 390.5L293.4 388.4L294 385.4L294.5 382.7L295.1 380.4L295.7 378.1L296.3 376.1L296.9 375.6L297.4 376L298 377.2L298.6 378.9L299.2 381.2L299.8 383.5L300.3 384.6L300.9 385.1L301.5 385.1L302.1 385.5L302.7 386.1L303.2 386.2L303.8 385.4L304.4 383.4L305 380.9L305.5 378.4L306.1 376L306.7 373.8L307.3 372.2L307.9 370.8L308.4 369.6L309 369.4L309.6 370.6L310.2 373L310.8 375.8L311.3 378.2L311.9 379.8L312.5 380.7L313.1 382.1L313.6 383.8L314.2 385L314.8 385.2L315.4 384.5L316 383.1L316.5 381.9L317.1 380.8L317.7 379.7L318.3 378.9L318.9 378.4L319.4 377.5L320 376.6L320.6 376.4L321.2 377.2L321.7 378.3L322.3 379.6L322.9 380.6L323.5 381.1L324.1 381.3L324.6 381.3L325.2 381.5L325.8 381.8L326.4 382L327 381.9L327.5 381.8L328.1 381.9L328.7 381.6L329.3 380.6L329.8 379.5L330.4 378.8L331 378.9L331.6 379.9L332.2 380.8L332.7 381.2L333.3 381.3L333.9 381.7L334.5 382.3L335.1 382.9L335.6 383.6L336.2 383.7L336.8 383.1L337.4 382.6L338 382.3L338.5 381.6L339.1 380.5L339.7 379.9L340.3 380.2L340.8 380.6L341.4 380.7L342 380.9L342.6 381.3L343.2 382L343.7 382.7L344.3 383.2L344.9 383.3L345.5 382.4L346.1 380.6L346.6 379L347.2 378.4L347.8 378.9L348.4 379.6L348.9 379.4L349.5 378.3L350.1 377.1L350.7 376.9L351.3 377.6L351.8 378.5L352.4 379.9L353 382.1L353.6 384.3L354.2 384.7L354.7 383.9L355.3 382.8L355.9 381.7L356.5 380.5L357 379.4L357.6 379.2L358.2 379.5L358.8 379.8L359.4 379.4L359.9 378.6L360.5 378.6L361.1 379.8L361.7 381.6L362.3 382.9L362.8 383.6L363.4 383.9L364 383.7L364.6 383.8L365.2 383.8L365.7 383.5L366.3 382.4L366.9 380.6L367.5 378.9L368 377.7L368.6 376.9L369.2 376.8L369.8 377.6L370.4 378.8L370.9 379.1L371.5 379.1L372.1 379.6L372.7 380.2L373.3 380.8L373.8 381.5L374.4 382.4L375 382.7L375.6 382.1L376.1 381.5L376.7 381.1L377.3 380.9L377.9 380.6L378.5 380.4L379 380.3L379.6 380.1L380.2 379.7L380.8 379.3L381.4 379.3L381.9 379.3L382.5 379L383.1 379.4L383.7 380.6L384.2 381.9L384.8 383.1L385.4 384.6L386 385.4L386.6 384.5L387.1 382.3L387.7 380.5L388.3 379.4L388.9 378.9L389.5 378.8L390 379.1L390.6 379.2L391.2 379.1L391.8 379L392.3 379.6L392.9 381L393.5 382.2L394.1 382.4L394.7 382L395.2 381.9L395.8 381.8L396.4 380.8L397 379.5L397.6 378.8L398.1 378.9L398.7 379.5L399.3 380.2L399.9 380.5L400.5 380.4L401 380.9L401.6 382.3L402.2 383.7L402.8 384.3L403.3 384.2L403.9 384.4L404.5 385L405.1 385.8L405.7 386.2L406.2 385.7L406.8 384.3L407.4 382.3L408 380.7L408.6 379.7L409.1 379.1L409.7 378.3L410.3 377.9L410.9 378.2L411.4 378.6L412 378.8L412.6 379.3L413.2 380.3L413.8 382L414.3 383.6L414.9 384.5L415.5 385L416.1 385L416.7 384.3L417.2 383.3L417.8 382.5L418.4 382.6L419 382.5L419.5 381.4L420.1 379.9L420.7 378.9L421.3 378.6L421.9 378.5L422.4 378.7L423 379.9L423.6 381.6L424.2 383L424.8 383.9L425.3 384.3L425.9 383.9L426.5 383.2L427.1 383.2L427.7 383.8L428.2 383.6L428.8 382L429.4 380L430 378.9L430.5 378.5L431.1 378.4L431.7 378.2L432.3 377.6L432.9 377.8L433.4 379.2L434 381.5L434.6 384L435.2 386.2L435.8 387.4L436.3 387.6L436.9 387.2L437.5 386.2L438.1 384.4L438.6 382.1L439.2 380.4L439.8 379.4L440.4 378.5L441 377.2L441.5 375.7L442.1 375.3L442.7 376.3L443.3 378.2L443.9 380.8L444.4 383.5L445 385.8L445.6 387L446.2 387.4L446.7 387.1L447.3 386.2L447.9 384.8L448.5 383.4L449.1 381.9L449.6 380.4L450.2 379L450.8 378.3L451.4 377.4L452 375.9L452.5 374.8L453.1 375.3L453.7 377.2L454.3 379.5L454.8 381.8L455.4 383.5L456 384.1L456.6 383.7L457.2 383.4L457.7 384.1L458.3 384.6L458.9 383.6L459.5 381.3L460.1 378.9L460.6 377.4L461.2 376.3L461.8 375.2L462.4 374.8L463 375.6L463.5 376.7L464.1 377.6L464.7 378.5L465.3 380.3L465.8 382.5L466.4 383.9L467 384.1L467.6 383.7L468.2 383L468.7 382.1L469.3 381.5L469.9 380.7L470.5 379.2L471.1 377.5L471.6 377.3L472.2 379.2L472.8 381.3L473.4 382.1L473.9 382.3L474.5 383.3L475.1 385.1L475.7 386.4L476.3 386.6L476.8 386.6L477.4 385.9L478 384.4L478.6 382.5L479.2 380.9L479.7 379.7L480.3 378.7" stroke="#2C7F8C" stroke-width="4.1"/>
<path d="M40.5 458.7L41.1 458.6L41.7 458.3L42.2 457.7L42.8 456.2L43.4 453.1L44 446.9L44.6 435.1L45.1 414.1L45.7 386.4L46.3 359.4L46.9 351.2L47.4 369.7L48 391.7L48.6 409.9L49.2 422.3L49.8 429.6L50.3 433.5L50.9 435.4L51.5 438.2L52.1 441.5L52.7 444.5L53.2 447.2L53.8 449.8L54.4 452.3L55 454.7L55.5 457L56.1 459.2L56.7 461.3L57.3 463.2L57.9 465.1L58.4 467.1L59 469.4L59.6 471.4L60.2 472.9L60.8 474L61.3 475.6L61.9 477.6L62.5 479.2L63.1 479.4L63.6 479.3L64.2 480.2L64.8 481.8L65.4 483.5L66 485.8L66.5 488.7L67.1 490.3L67.7 490.1L68.3 489.6L68.9 490.3L69.4 491.8L70 492.6L70.6 492.1L71.2 490.9L71.7 490.7L72.3 492L72.9 493.7L73.5 494.4L74.1 494.5L74.6 494.3L75.2 494.8L75.8 496.1L76.4 497.3L77 498L77.5 497.9L78.1 497.5L78.7 497.2L79.3 497.5L79.9 498.7L80.4 500.1L81 500.8L81.6 500.8L82.2 500.4L82.7 499.6L83.3 498.5L83.9 498.4L84.5 499.1L85.1 500L85.6 500.2L86.2 499.7L86.8 499.1L87.4 498.4L88 498L88.5 498.5L89.1 499.5L89.7 499.9L90.3 499L90.8 498.5L91.4 499.6L92 501.2L92.6 502.2L93.2 502.5L93.7 501.8L94.3 500.1L94.9 498.1L95.5 497.7L96.1 498.9L96.6 499.6L97.2 499.4L97.8 498.8L98.4 498.5L98.9 498.6L99.5 498.5L100.1 498.1L100.7 496.6L101.3 494.1L101.8 491.1L102.4 488.1L103 485.4L103.6 483.3L104.2 481.7L104.7 480.9L105.3 481.8L105.9 487.2L106.5 496.8L107.1 508.8L107.6 520.5L108.2 528.7L108.8 531.1L109.4 528.2L109.9 520.8L110.5 510.1L111.1 497.4L111.7 483.3L112.3 469.3L112.8 457.6L113.4 449.7L114 446.3L114.6 447.6L115.2 453.1L115.7 461.8L116.3 472.2L116.9 483.5L117.5 495.1L118 507.2L118.6 519.2L119.2 530.3L119.8 539.2L120.4 544.3L120.9 544.6L121.5 539.2L122.1 529.7L122.7 517.6L123.3 503.2L123.8 486.7L124.4 470.9L125 458.3L125.6 449.7L126.1 446L126.7 449.6L127.3 461.7L127.9 479.2L128.5 497.7L129 513.4L129.6 522.9L130.2 524.1L130.8 521.1L131.4 515.3L131.9 508.3L132.5 501.3L133.1 493.8L133.7 485.7L134.2 477.7L134.8 471.9L135.4 469.7L136 470.6L136.6 474.3L137.1 480.6L137.7 488.7L138.3 496.7L138.9 502.9L139.5 507.4L140 510.5L140.6 511.5L141.2 509.8L141.8 505.4L142.4 498.9L142.9 492.4L143.5 487.1L144.1 483L144.7 479.6L145.2 476.5L145.8 474.8L146.4 475.1L147 477.5L147.6 482.1L148.1 487.7L148.7 492.4L149.3 495.3L149.9 497L150.5 498.4L151 498.7L151.6 498L152.2 496.9L152.8 495.4L153.3 492.9L153.9 489.1L154.5 485.3L155.1 482.4L155.7 479.9L156.2 477.7L156.8 476.5L157.4 476.6L158 476.8L158.6 477.1L159.1 478.4L159.7 481.8L160.3 486.6L160.9 491.3L161.4 495L162 497.5L162.6 498.4L163.2 498.1L163.8 497.7L164.3 497.1L164.9 494.6L165.5 489.8L166.1 484.1L166.7 479.6L167.2 476.3L167.8 474L168.4 472.9L169 473.6L169.6 476.1L170.1 479.3L170.7 483.1L171.3 486.8L171.9 489.5L172.4 490.6L173 490.8L173.6 491.1L174.2 490.5L174.8 487.2L175.3 482L175.9 477.9L176.5 475.9L177.1 474.2L177.7 471.6L178.2 469L178.8 468L179.4 469.6L180 474.3L180.5 480.1L181.1 484.6L181.7 487.8L182.3 490.5L182.9 492L183.4 490.9L184 487.6L184.6 483.4L185.2 479.4L185.8 475.8L186.3 472.2L186.9 468.9L187.5 466.8L188.1 466.9L188.6 468.4L189.2 470.7L189.8 474.5L190.4 479.9L191 485.5L191.5 489.4L192.1 491.2L192.7 491.4L193.3 490.5L193.9 489L194.4 486.5L195 482.9L195.6 478.4L196.2 473.9L196.7 469.9L197.3 467.4L197.9 467.4L198.5 468.9L199.1 470.6L199.6 471.9L200.2 473.9L200.8 477.1L201.4 480.3L202 481.9L202.5 482.1L203.1 482L203.7 481.5L204.3 480.3L204.9 478.9L205.4 477.2L206 474.3L206.6 471.2L207.2 469.9L207.7 470.5L208.3 471.4L208.9 471.8L209.5 472.4L210.1 473.3L210.6 474.6L211.2 475.8L211.8 476.5L212.4 477.3L213 478.8L213.5 479.8L214.1 479.7L214.7 479.2L215.3 478.9L215.8 477.6L216.4 474.9L217 472.4L217.6 471.3L218.2 471L218.7 471.2L219.3 472L219.9 472.6L220.5 472.7L221.1 472.8L221.6 473.8L222.2 474.7L222.8 475.1L223.4 475.9L223.9 477L224.5 477L225.1 475.5L225.7 474.3L226.3 473.9L226.8 473.3L227.4 472.2L228 471.4L228.6 471.2L229.2 470.9L229.7 470.6L230.3 471.3L230.9 473L231.5 474.7L232 475.7L232.6 476.2L233.2 476.5L233.8 476.5L234.4 475.7L234.9 474.7L235.5 473.6L236.1 472.6L236.7 471.7L237.3 470.6L237.8 470.3L238.4 471L239 472.2L239.6 473.1L240.2 474L240.7 475.5L241.3 476.2L241.9 475.3L242.5 473.6L243 472.5L243.6 472.2L244.2 472.1L244.8 471.8L245.4 471.2L245.9 471.1L246.5 471.5L247.1 472.1L247.7 472.8L248.3 473.9L248.8 475.1L249.4 476.7L250 478.3L250.6 479.5L251.1 478.9L251.7 476.2L252.3 472.6L252.9 469.2L253.5 466.6L254 464.2L254.6 462.8L255.2 463.3L255.8 465L256.4 467.4L256.9 469.8L257.5 471.8L258.1 473.3L258.7 474.9L259.2 477.2L259.8 479.3L260.4 479.8L261 478.4L261.6 476.6L262.1 475.5L262.7 474.3L263.3 471.8L263.9 468.7L264.5 466.2L265 464.6L265.6 464L266.2 465.2L266.8 468.5L267.4 473.2L267.9 478.9L268.5 484.5L269.1 487.7L269.7 487.6L270.2 484.4L270.8 480.1L271.4 476.3L272 472.8L272.6 468.4L273.1 463.5L273.7 460L274.3 458.2L274.9 457.6L275.5 458.5L276 461.8L276.6 466.1L277.2 470L277.8 473.6L278.3 476.9L278.9 478.8L279.5 478.7L280.1 476.6L280.7 473.1L281.2 468.5L281.8 464L282.4 460.7L283 459.2L283.6 459L284.1 459.6L284.7 461.4L285.3 464.6L285.9 468.1L286.4 470.8L287 472.9L287.6 474.2L288.2 474.4L288.8 473.9L289.3 472.4L289.9 469.9L290.5 466.1L291.1 461.3L291.7 457.1L292.2 454.5L292.8 454.1L293.4 455.4L294 457.6L294.5 460.4L295.1 463.9L295.7 467.8L296.3 472L296.9 475.3L297.4 476.8L298 476.5L298.6 475.5L299.2 474.5L299.8 472.5L300.3 468.6L300.9 463.8L301.5 459.9L302.1 458L302.7 458.2L303.2 459.5L303.8 461.2L304.4 463.1L305 465.5L305.5 468L306.1 470.1L306.7 471.7L307.3 473.4L307.9 475.1L308.4 476.4L309 476.4L309.6 474.8L310.2 472.7L310.8 471L311.3 469.1L311.9 466.4L312.5 463.5L313.1 461.6L313.6 461.3L314.2 462.3L314.8 463.9L315.4 464.9L316 465.4L316.5 466.8L317.1 469.5L317.7 472.2L318.3 473.5L318.9 473.4L319.4 473L320 472.2L320.6 471.1L321.2 469.7L321.7 467.8L322.3 465.4L322.9 463.5L323.5 462.5L324.1 462.1L324.6 462.5L325.2 463.4L325.8 464.6L326.4 466.4L327 468.8L327.5 471.3L328.1 473.4L328.7 474.6L329.3 474.5L329.8 473.3L330.4 471.4L331 469.1L331.6 466.8L332.2 465.3L332.7 464.9L333.3 465L333.9 465L334.5 465.2L335.1 465.8L335.6 467.1L336.2 469.4L336.8 471.8L337.4 472.9L338 472.7L338.5 472.5L339.1 472.6L339.7 472.3L340.3 471.1L340.8 469.6L341.4 468.1L342 466.5L342.6 465.1L343.2 464.2L343.7 464.2L344.3 465.9L344.9 468.3L345.5 470.3L346.1 471.3L346.6 471.8L347.2 472.2L347.8 472.2L348.4 471.8L348.9 471L349.5 469.9L350.1 468.7L350.7 467.2L351.3 465.4L351.8 464.3L352.4 464.9L353 466.1L353.6 466.6L354.2 466.6L354.7 466.5L355.3 466.5L355.9 466.5L356.5 467.6L357 470.2L357.6 472.5L358.2 473.4L358.8 473.1L359.4 472L359.9 470.6L360.5 469.5L361.1 468.7L361.7 467.7L362.3 467.1L362.8 467.5L363.4 469L364 469.8L364.6 469L365.2 467.9L365.7 467.9L366.3 469.1L366.9 470L367.5 469.8L368 469.4L368.6 469.9L369.2 471.1L369.8 471.4L370.4 470.6L370.9 469.9L371.5 469.6L372.1 468.9L372.7 468L373.3 467.5L373.8 468.1L374.4 469.3L375 470.3L375.6 471.1L376.1 471.9L376.7 472.8L377.3 473.2L377.9 472.6L378.5 471.3L379 470.2L379.6 469.2L380.2 468L380.8 466.8L381.4 465.7L381.9 465.1L382.5 465.4L383.1 466.5L383.7 467.8L384.2 469.2L384.8 470.9L385.4 472.1L386 471.8L386.6 470.4L387.1 469.5L387.7 469.4L388.3 469.2L388.9 468.1L389.5 466.9L390 466.6L390.6 467.5L391.2 468.2L391.8 467.2L392.3 465L392.9 463.1L393.5 462.5L394.1 463.5L394.7 465.3L395.2 467.3L395.8 468.8L396.4 470.1L397 471.1L397.6 471.5L398.1 471.3L398.7 470.8L399.3 470.2L399.9 469.2L400.5 467.8L401 466.3L401.6 465.5L402.2 465.7L402.8 466L403.3 466L403.9 466L404.5 466.9L405.1 468.6L405.7 470.5L406.2 472.3L406.8 473.9L407.4 475L408 474.8L408.6 473.7L409.1 472.6L409.7 471L410.3 469.3L410.9 467.4L411.4 465.9L412 464.3L412.6 462.5L413.2 461.3L413.8 461.5L414.3 463.2L414.9 465.3L415.5 467.5L416.1 469.7L416.7 471.6L417.2 472.5L417.8 472.3L418.4 471.4L419 470.5L419.5 469.8L420.1 469L420.7 468L421.3 467L421.9 466.5L422.4 466.5L423 467.2L423.6 468.5L424.2 469.1L424.8 468.9L425.3 468.7L425.9 469.8L426.5 471.8L427.1 472.9L427.7 473.2L428.2 473.5L428.8 473.3L429.4 471.7L430 468.6L430.5 465.1L431.1 463.2L431.7 462.6L432.3 462L432.9 461.1L433.4 460.7L434 462.1L434.6 464.9L435.2 467.5L435.8 469.7L436.3 471.6L436.9 473.3L437.5 473.7L438.1 471.3L438.6 467.7L439.2 464.4L439.8 462.2L440.4 460.5L441 459.9L441.5 461.1L442.1 462.6L442.7 463.5L443.3 464.7L443.9 466.6L444.4 468.8L445 469.8L445.6 469.7L446.2 469.7L446.7 470.2L447.3 470.6L447.9 470.3L448.5 468.3L449.1 465.6L449.6 463.3L450.2 461.5L450.8 460.7L451.4 462L452 465.2L452.5 467.9L453.1 468.7L453.7 468.9L454.3 469.7L454.8 470.7L455.4 471.1L456 471L456.6 470.5L457.2 469.7L457.7 468.1L458.3 466.2L458.9 465L459.5 464.8L460.1 465.3L460.6 466.1L461.2 467L461.8 467.9L462.4 468.5L463 469L463.5 469.9L464.1 471.2L464.7 472.3L465.3 472.5L465.8 471.4L466.4 470.2L467 469.8L467.6 469.6L468.2 468.6L468.7 467.1L469.3 465.9L469.9 466L470.5 466.6L471.1 466.4L471.6 465.7L472.2 465.4L472.8 466.7L473.4 468.8L473.9 470.2L474.5 470.4L475.1 469.8L475.7 468.7L476.3 467.3L476.8 465.6L477.4 464.3L478 463.5L478.6 463.4L479.2 462.9L479.7 462.1L480.3 462.1" stroke="#408E8D" stroke-width="4.1"/>
<path d="M40.5 549.4L41.1 549.3L41.7 549L42.2 548.4L42.8 546.8L43.4 543.6L44 537.3L44.6 525.1L45.1 503.3L45.7 474.5L46.3 446.5L46.9 437.9L47.4 456.9L48 479.5L48.6 498.1L49.2 510.9L49.8 518.4L50.3 522.5L50.9 524.4L51.5 525.2L52.1 526L52.7 529.3L53.2 532.3L53.8 535.2L54.4 538L55 540.7L55.5 543.2L56.1 545.6L56.7 547.9L57.3 550.1L57.9 552.3L58.4 554.5L59 556.8L59.6 559.3L60.2 562L60.8 564L61.3 564.9L61.9 565.2L62.5 566.3L63.1 568.9L63.6 571.3L64.2 571.9L64.8 571.4L65.4 571.3L66 572.2L66.5 573.3L67.1 575.2L67.7 577.9L68.3 580.2L68.9 580.5L69.4 579.7L70 579.8L70.6 581.5L71.2 583.9L71.7 585.1L72.3 584.3L72.9 582.9L73.5 583.4L74.1 585.2L74.6 585.4L75.2 584L75.8 583.4L76.4 584.8L77 587.1L77.5 588.7L78.1 589.9L78.7 590.5L79.3 589.8L79.9 589L80.4 589.5L81 590.8L81.6 591.6L82.2 591.5L82.7 591.1L83.3 590L83.9 588.7L84.5 588.8L85.1 589.7L85.6 589.6L86.2 588.5L86.8 588.8L87.4 590.6L88 592.3L88.5 592L89.1 590.3L89.7 588.7L90.3 588.7L90.8 590.3L91.4 590.5L92 588.7L92.6 587.6L93.2 589.4L93.7 592.2L94.3 593.2L94.9 593.3L95.5 593.3L96.1 593.1L96.6 592.9L97.2 592.5L97.8 591.5L98.4 590.3L98.9 589.9L99.5 590.5L100.1 590.2L100.7 588.8L101.3 587.4L101.8 585.6L102.4 581.9L103 576.8L103.6 572.6L104.2 570.5L104.7 570.3L105.3 571.7L105.9 577.7L106.5 588.8L107.1 603.2L107.6 617.1L108.2 626.2L108.8 628.3L109.4 624.7L109.9 615.6L110.5 601.9L111.1 585.4L111.7 568.4L112.3 552.3L112.8 539.3L113.4 531.5L114 528.8L114.6 530.7L115.2 536.3L115.7 545.7L116.3 558.3L116.9 572.3L117.5 586.8L118 601L118.6 615.3L119.2 629.4L119.8 640.3L120.4 645.4L120.9 644.2L121.5 636.8L122.1 624.7L122.7 608.7L123.3 589.9L123.8 570.1L124.4 552.2L125 537.7L125.6 527.7L126.1 523.5L126.7 528.1L127.3 543.8L127.9 567.2L128.5 592.6L129 612.9L129.6 622.5L130.2 620.9L130.8 616.8L131.4 612L131.9 605.1L132.5 595.7L133.1 585.1L133.7 574.9L134.2 565.5L134.8 557.4L135.4 552.4L136 551.5L136.6 555.4L137.1 562.9L137.7 571.5L138.3 579.5L138.9 587.4L139.5 594.5L140 599.4L140.6 600.2L141.2 597.4L141.8 593.4L142.4 589.5L142.9 585.2L143.5 579.2L144.1 572L144.7 566.9L145.2 564.8L145.8 564.5L146.4 565L147 566.7L147.6 570.2L148.1 574.8L148.7 579.8L149.3 584.8L149.9 588.3L150.5 589.9L151 589.8L151.6 589.6L152.2 589.4L152.8 587.5L153.3 583.6L153.9 578.8L154.5 573.9L155.1 569.1L155.7 565.5L156.2 564L156.8 563.7L157.4 563.6L158 563.8L158.6 565L159.1 567.1L159.7 570.4L160.3 574.9L160.9 580.4L161.4 585.6L162 589L162.6 590L163.2 589.3L163.8 588.1L164.3 585.8L164.9 581.5L165.5 575.2L166.1 568.9L166.7 564.7L167.2 563.1L167.8 562.3L168.4 562.1L169 563.5L169.6 566.2L170.1 569L170.7 571.8L171.3 575L171.9 578.6L172.4 581.5L173 583.2L173.6 583.1L174.2 581L174.8 577.8L175.3 573.7L175.9 568L176.5 561.2L177.1 555.7L177.7 553.5L178.2 554.1L178.8 556.3L179.4 559.3L180 563.5L180.5 568.2L181.1 573L181.7 577.2L182.3 579.8L182.9 580.5L183.4 579.6L184 577.8L184.6 575.6L185.2 572.4L185.8 567L186.3 559.8L186.9 552.7L187.5 548.9L188.1 549.3L188.6 552.8L189.2 558.1L189.8 563.5L190.4 568.2L191 572.7L191.5 577.8L192.1 582.8L192.7 585.5L193.3 584.5L193.9 580.7L194.4 575.2L195 568.8L195.6 562.7L196.2 558.2L196.7 555.4L197.3 552.7L197.9 549.5L198.5 548.3L199.1 551.2L199.6 557.4L200.2 562.9L200.8 566.2L201.4 568.3L202 569.6L202.5 570.8L203.1 571.9L203.7 572L204.3 570.6L204.9 568.5L205.4 566.6L206 564.2L206.6 560.6L207.2 557.1L207.7 555L208.3 554.4L208.9 555.3L209.5 558.1L210.1 561.8L210.6 565L211.2 566.9L211.8 568L212.4 568.5L213 569.2L213.5 570.5L214.1 571.9L214.7 572.6L215.3 571.8L215.8 569.5L216.4 565.9L217 561.7L217.6 558.8L218.2 558L218.7 558.1L219.3 558.3L219.9 558.2L220.5 559.4L221.1 563.1L221.6 566.4L222.2 567.1L222.8 565.7L223.4 564.3L223.9 563.3L224.5 562.3L225.1 562.4L225.7 563.5L226.3 563.3L226.8 561.4L227.4 559.2L228 558.3L228.6 558.8L229.2 559.6L229.7 560.4L230.3 561.5L230.9 561.6L231.5 561.6L232 563.1L232.6 565.7L233.2 567.3L233.8 566.4L234.4 563.9L234.9 561.4L235.5 559.8L236.1 559L236.7 558.8L237.3 559.2L237.8 560.6L238.4 562.8L239 564.5L239.6 564.6L240.2 564.2L240.7 564.6L241.3 564.8L241.9 563.6L242.5 562.1L243 561.5L243.6 561.2L244.2 559.5L244.8 557.8L245.4 557.8L245.9 558.8L246.5 559.7L247.1 560.4L247.7 560.9L248.3 560.4L248.8 558.9L249.4 558.4L250 559.9L250.6 562.5L251.1 564.5L251.7 565L252.3 563.1L252.9 559.7L253.5 557.4L254 557.1L254.6 556.5L255.2 554.6L255.8 553.2L256.4 554.6L256.9 556.7L257.5 557.5L258.1 558L258.7 560L259.2 563.6L259.8 567.8L260.4 571.9L261 574.2L261.6 573.5L262.1 570.2L262.7 566.4L263.3 564.1L263.9 563.3L264.5 562.3L265 560.1L265.6 557.5L266.2 555.6L266.8 554.6L267.4 554.8L267.9 556.4L268.5 559.5L269.1 563.4L269.7 567.1L270.2 570.4L270.8 573.5L271.4 576.5L272 578.2L272.6 577.7L273.1 575.6L273.7 571.7L274.3 566.4L274.9 560.3L275.5 554.8L276 551.3L276.6 550.5L277.2 552.1L277.8 554.6L278.3 557.6L278.9 561.8L279.5 567.5L280.1 572.8L280.7 576.7L281.2 578.8L281.8 578.6L282.4 576.2L283 572.2L283.6 568.6L284.1 565.8L284.7 563.2L285.3 560.3L285.9 556.8L286.4 553.9L287 552.4L287.6 552.4L288.2 553.4L288.8 555.3L289.3 559.1L289.9 563.7L290.5 567.1L291.1 567.8L291.7 566.4L292.2 564.5L292.8 562.6L293.4 560.4L294 557.8L294.5 555.3L295.1 553.8L295.7 552.8L296.3 552.3L296.9 553.4L297.4 556.2L298 559.4L298.6 561.5L299.2 562.6L299.8 563.7L300.3 565L300.9 565.2L301.5 563.7L302.1 561.3L302.7 559L303.2 556.9L303.8 553.7L304.4 550L305 548.5L305.5 549.7L306.1 551.2L306.7 551.1L307.3 552.1L307.9 556.4L308.4 560.5L309 561.5L309.6 561L310.2 562.3L310.8 565.2L311.3 568L311.9 568.2L312.5 565L313.1 560.3L313.6 557.2L314.2 555.7L314.8 552.9L315.4 548.4L316 545.2L316.5 544.7L317.1 546.2L317.7 548.9L318.3 552.9L318.9 557.8L319.4 562.1L320 565.6L320.6 568.9L321.2 570.7L321.7 570.1L322.3 567.6L322.9 564.9L323.5 562.4L324.1 559.2L324.6 555.7L325.2 553.2L325.8 551.1L326.4 549.3L327 550.2L327.5 554.5L328.1 559.4L328.7 562L329.3 562.1L329.8 561.8L330.4 562.2L331 563L331.6 563.6L332.2 563.3L332.7 562.4L333.3 561.6L333.9 561.5L334.5 561.4L335.1 560.8L335.6 559.5L336.2 557.3L336.8 554L337.4 551L338 550.3L338.5 552.3L339.1 554.8L339.7 556.3L340.3 557.3L340.8 558.3L341.4 559.3L342 560.3L342.6 561.3L343.2 562L343.7 561.9L344.3 561.5L344.9 560.9L345.5 559.9L346.1 557.9L346.6 555.7L347.2 554.3L347.8 554.1L348.4 555.4L348.9 558.4L349.5 560.8L350.1 561.1L350.7 560.1L351.3 560L351.8 561.5L352.4 562.5L353 562.4L353.6 562L354.2 561.1L354.7 559.9L355.3 557.7L355.9 555.2L356.5 554.2L357 556L357.6 558.9L358.2 559L358.8 557L359.4 555.8L359.9 556.4L360.5 557.9L361.1 559.9L361.7 562.5L362.3 564.1L362.8 563.4L363.4 561.3L364 559L364.6 557.8L365.2 558.3L365.7 558.7L366.3 558.5L366.9 557.6L367.5 556.5L368 555.8L368.6 555L369.2 554.5L369.8 554.9L370.4 555.5L370.9 555.9L371.5 556.2L372.1 557L372.7 558.4L373.3 559.7L373.8 560.5L374.4 560.2L375 559.1L375.6 558.3L376.1 557.9L376.7 557.8L377.3 557.3L377.9 556.9L378.5 556.6L379 556L379.6 554.7L380.2 553.8L380.8 554.8L381.4 557.7L381.9 560.5L382.5 562.2L383.1 563.2L383.7 563.9L384.2 564.3L384.8 563.2L385.4 560.8L386 558.5L386.6 557.7L387.1 558.3L387.7 558.3L388.3 556.8L388.9 555.2L389.5 554.8L390 555L390.6 554.5L391.2 553.8L391.8 554L392.3 555.4L392.9 556.7L393.5 557.8L394.1 558.6L394.7 559.2L395.2 559.5L395.8 559.6L396.4 560.1L397 560.6L397.6 559.5L398.1 556.2L398.7 552.1L399.3 550.1L399.9 551.1L400.5 552.9L401 554L401.6 555L402.2 556.9L402.8 559.1L403.3 561.2L403.9 563L404.5 563.7L405.1 562.8L405.7 561.4L406.2 559.9L406.8 558.1L407.4 555.9L408 554.1L408.6 553.6L409.1 554.5L409.7 556.2L410.3 557.2L410.9 557.6L411.4 557.9L412 558.2L412.6 558.8L413.2 559.7L413.8 561L414.3 562L414.9 562.5L415.5 561.4L416.1 558.7L416.7 555.6L417.2 553.1L417.8 552.4L418.4 553.3L419 555.4L419.5 557.4L420.1 558.7L420.7 560L421.3 562.3L421.9 564.5L422.4 566L423 567.2L423.6 567L424.2 564.4L424.8 559.3L425.3 553.8L425.9 549.8L426.5 547L427.1 545.4L427.7 544.7L428.2 544.2L428.8 545.6L429.4 549L430 552.8L430.5 556.3L431.1 559.4L431.7 562.4L432.3 564.4L432.9 564.5L433.4 563.9L434 563.4L434.6 562.7L435.2 561.3L435.8 559.9L436.3 559.1L436.9 558.6L437.5 557.2L438.1 555.2L438.6 554.7L439.2 555.6L439.8 555.8L440.4 555L441 556L441.5 560.1L442.1 564.5L442.7 566.7L443.3 567L443.9 567.1L444.4 566.8L445 565.4L445.6 563.4L446.2 560.8L446.7 557.5L447.3 554.2L447.9 551.1L448.5 549L449.1 548.1L449.6 548.8L450.2 551.5L450.8 555.2L451.4 557.9L452 559.4L452.5 560.9L453.1 563.6L453.7 566L454.3 566.8L454.8 566.5L455.4 565.9L456 564.5L456.6 561.5L457.2 557.5L457.7 554.7L458.3 553.5L458.9 553.6L459.5 554.3L460.1 554.9L460.6 555.4L461.2 555.7L461.8 555.4L462.4 555L463 555.9L463.5 557.8L464.1 558.9L464.7 557.9L465.3 556.1L465.8 555L466.4 554.7L467 554.9L467.6 555L468.2 554.6L468.7 552.7L469.3 550.2L469.9 549L470.5 550.2L471.1 553.3L471.6 556.4L472.2 558.9L472.8 560.1L473.4 560.1L473.9 559.3L474.5 559.6L475.1 561.5L475.7 563.7L476.3 564.5L476.8 563.4L477.4 561.1L478 558.6L478.6 556.5L479.2 555.7L479.7 556L480.3 556.5" stroke="#519D8F" stroke-width="4.1"/>
<path d="M40.5 640.1L41.1 640L41.7 639.7L42.2 639.1L42.8 637.7L43.4 634.6L44 628.5L44.6 617L45.1 596.3L45.7 569.1L46.3 542.6L46.9 534.6L47.4 552.7L48 574.3L48.6 592.1L49.2 604.3L49.8 611.5L50.3 615.4L50.9 617.2L51.5 618L52.1 618.3L52.7 618.5L53.2 620.6L53.8 623.7L54.4 626.6L55 629.5L55.5 632.2L56.1 634.9L56.7 637.4L57.3 639.8L57.9 642L58.4 643.8L59 645.1L59.6 646.1L60.2 647.3L60.8 649.2L61.3 652.7L61.9 656.2L62.5 657.4L63.1 657.2L63.6 657.3L64.2 658.8L64.8 660.7L65.4 662.7L66 665L66.5 667.8L67.1 671.5L67.7 674.2L68.3 673.8L68.9 671.4L69.4 671L70 672L70.6 672.5L71.2 671.9L71.7 671.5L72.3 671.1L72.9 669.8L73.5 668.8L74.1 670.1L74.6 673.9L75.2 679L75.8 684.4L76.4 687.5L77 686L77.5 682L78.1 679.4L78.7 679.9L79.3 682.5L79.9 684.2L80.4 684.4L81 684.4L81.6 685.8L82.2 687.4L82.7 686.2L83.3 683.8L83.9 682.8L84.5 682.7L85.1 682.8L85.6 682.3L86.2 681.2L86.8 680.2L87.4 680.3L88 681.4L88.5 681.3L89.1 679.6L89.7 678.9L90.3 680.6L90.8 683.9L91.4 686.8L92 688.1L92.6 687.8L93.2 685.5L93.7 681.8L94.3 678.4L94.9 677.5L95.5 680L96.1 684L96.6 686.5L97.2 686.9L97.8 686.1L98.4 685L98.9 683.9L99.5 683L100.1 682.8L100.7 681L101.3 677.1L101.8 672.5L102.4 670L103 671.1L103.6 672.2L104.2 669.6L104.7 664.4L105.3 660.9L105.9 665.9L106.5 678.2L107.1 692.5L107.6 705.1L108.2 714.1L108.8 718L109.4 716.4L109.9 707.6L110.5 692.7L111.1 675.8L111.7 659.4L112.3 646.4L112.8 639.6L113.4 637.3L114 635.6L114.6 634.3L115.2 636.9L115.7 645.1L116.3 655.3L116.9 665.6L117.5 677.3L118 690.2L118.6 703.4L119.2 715.4L119.8 723.7L120.4 726.7L120.9 725.9L121.5 721.6L122.1 711.7L122.7 695.5L123.3 675.6L123.8 657.6L124.4 644.6L125 635.3L125.6 626.9L126.1 621.7L126.7 626.7L127.3 642.5L127.9 661.6L128.5 677.7L129 690.3L129.6 700.4L130.2 705.8L130.8 706.7L131.4 701.5L131.9 691.8L132.5 682L133.1 673.6L133.7 666.1L134.2 660.9L134.8 658.3L135.4 657L136 656.7L136.6 658.6L137.1 663.4L137.7 669.3L138.3 675.1L138.9 681.7L139.5 689.1L140 694.5L140.6 695.4L141.2 691.4L141.8 684.7L142.4 678.3L142.9 673.7L143.5 669.2L144.1 663.5L144.7 658.3L145.2 656.6L145.8 657.6L146.4 658.6L147 658.6L147.6 662L148.1 670.2L148.7 678.3L149.3 682.3L149.9 681.5L150.5 680.3L151 680.7L151.6 680.5L152.2 679.1L152.8 676.2L153.3 673.1L153.9 669.8L154.5 665.1L155.1 661.3L155.7 659.4L156.2 657.4L156.8 653.5L157.4 650.5L158 650.5L158.6 651.5L159.1 653.1L159.7 657.4L160.3 664.6L160.9 670.9L161.4 674.5L162 677.9L162.6 681.6L163.2 682.3L163.8 679L164.3 673.7L164.9 669.5L165.5 667.5L166.1 665.1L166.7 662.2L167.2 658.4L167.8 655.6L168.4 655.4L169 657.9L169.6 662.5L170.1 666.2L170.7 669.3L171.3 673.4L171.9 677.3L172.4 677.7L173 675.2L173.6 674.9L174.2 676.7L174.8 675.8L175.3 669.3L175.9 660.1L176.5 653L177.1 650.2L177.7 650.2L178.2 649.6L178.8 648.3L179.4 649.4L180 651.9L180.5 653.2L181.1 655L181.7 660.9L182.3 667.9L182.9 668.1L183.4 663.1L184 658.7L184.6 656.5L185.2 653.6L185.8 649.5L186.3 646.3L186.9 643.3L187.5 640.9L188.1 640.6L188.6 643.3L189.2 648.8L189.8 655.6L190.4 663L191 668.7L191.5 670.4L192.1 670.2L192.7 670.4L193.3 669.3L193.9 664.5L194.4 658.3L195 655.8L195.6 656.6L196.2 655.4L196.7 651L197.3 645.8L197.9 641.9L198.5 639L199.1 638.3L199.6 640.8L200.2 646.4L200.8 653.3L201.4 659.8L202 664.4L202.5 663.3L203.1 659.7L203.7 657.2L204.3 657L204.9 657.4L205.4 656L206 653.2L206.6 650.5L207.2 649.5L207.7 650.1L208.3 650L208.9 649L209.5 649.7L210.1 654L210.6 658.7L211.2 659.2L211.8 656.1L212.4 655L213 657.9L213.5 661.5L214.1 664.6L214.7 665.2L215.3 661.4L215.8 655.8L216.4 652.3L217 650.8L217.6 647.8L218.2 645.6L218.7 647.5L219.3 651.9L219.9 654.5L220.5 655.4L221.1 657.7L221.6 662.1L222.2 665.4L222.8 664.4L223.4 661.4L223.9 658.5L224.5 654.6L225.1 650.1L225.7 646.7L226.3 645.8L226.8 646.3L227.4 646.7L228 647.7L228.6 648L229.2 647.2L229.7 646L230.3 646.9L230.9 651.3L231.5 655.2L232 656.3L232.6 654.8L233.2 651.6L233.8 647.8L234.4 645.9L234.9 647.7L235.5 650.6L236.1 651.4L236.7 650.2L237.3 649.8L237.8 651.2L238.4 652.2L239 650.8L239.6 647.5L240.2 645.6L240.7 646.2L241.3 648.4L241.9 651L242.5 653L243 653.2L243.6 651.1L244.2 648.1L244.8 646.5L245.4 647.1L245.9 648L246.5 647.8L247.1 646.9L247.7 646.7L248.3 645.5L248.8 644L249.4 644.8L250 647.2L250.6 648.9L251.1 649.1L251.7 650L252.3 652.3L252.9 655.9L253.5 657.8L254 657.2L254.6 654.8L255.2 651.3L255.8 649.2L256.4 648.1L256.9 648.7L257.5 649.5L258.1 648.2L258.7 647.2L259.2 647.6L259.8 648.6L260.4 649.9L261 651L261.6 651.6L262.1 650.8L262.7 651.1L263.3 656.6L263.9 662.7L264.5 662.5L265 657.8L265.6 653.9L266.2 651.9L266.8 648.1L267.4 642.4L267.9 639L268.5 638.8L269.1 640.3L269.7 641.4L270.2 641.2L270.8 641.1L271.4 642.6L272 646.2L272.6 651.2L273.1 656.7L273.7 661.2L274.3 661.9L274.9 659.2L275.5 656.1L276 654.6L276.6 652.5L277.2 648.3L277.8 643.3L278.3 639.5L278.9 638.3L279.5 640L280.1 642.2L280.7 643.3L281.2 645.9L281.8 651.3L282.4 657.1L283 660.2L283.6 660.2L284.1 659.3L284.7 659.2L285.3 658.9L285.9 655.9L286.4 650.7L287 644.5L287.6 639.4L288.2 636.6L288.8 636.2L289.3 637.1L289.9 636.3L290.5 635.2L291.1 637.2L291.7 642.2L292.2 648.5L292.8 654.4L293.4 657.9L294 658.4L294.5 656.5L295.1 654L295.7 651.2L296.3 646.4L296.9 640.5L297.4 635.8L298 634.1L298.6 636L299.2 638.5L299.8 639.9L300.3 641.7L300.9 644.1L301.5 645.7L302.1 648.1L302.7 652L303.2 654.9L303.8 654.1L304.4 651.2L305 650.2L305.5 651L306.1 650.9L306.7 649.1L307.3 646.3L307.9 644.6L308.4 644L309 642.9L309.6 642.4L310.2 644L310.8 646.3L311.3 648.4L311.9 650.4L312.5 652.7L313.1 654.1L313.6 653.5L314.2 651.6L314.8 648.6L315.4 646.3L316 644.7L316.5 644.1L317.1 644.3L317.7 644.8L318.3 645.6L318.9 645.2L319.4 644L320 642.4L320.6 641.7L321.2 644.1L321.7 647.1L322.3 647.3L322.9 645.2L323.5 644.2L324.1 646.9L324.6 652L325.2 656.6L325.8 658.3L326.4 655.3L327 651.1L327.5 647.6L328.1 643.4L328.7 637.6L329.3 632.1L329.8 632.7L330.4 638.7L331 644.1L331.6 647.3L332.2 648.6L332.7 648.5L333.3 647.1L333.9 646.6L334.5 647.9L335.1 647.4L335.6 646L336.2 646.7L336.8 648.3L337.4 649.1L338 648.4L338.5 647.3L339.1 645L339.7 641.8L340.3 639.6L340.8 638L341.4 636.7L342 637.2L342.6 640.3L343.2 644.8L343.7 647.4L344.3 648.6L344.9 650.7L345.5 652.2L346.1 650.9L346.6 647.1L347.2 643.8L347.8 641.5L348.4 639.2L348.9 636.9L349.5 635.5L350.1 635.1L350.7 636.9L351.3 640.7L351.8 644.8L352.4 648.6L353 651.2L353.6 653.4L354.2 653.4L354.7 651.2L355.3 649.9L355.9 649.3L356.5 647.9L357 644.7L357.6 641.5L358.2 640.7L358.8 642.2L359.4 644.2L359.9 645.6L360.5 645L361.1 643.3L361.7 641.8L362.3 641.7L362.8 644.3L363.4 647.5L364 649.7L364.6 650.6L365.2 651.3L365.7 652.2L366.3 652.1L366.9 649.7L367.5 645.7L368 642.6L368.6 642L369.2 643.5L369.8 645.8L370.4 648L370.9 647.9L371.5 645.4L372.1 643.5L372.7 644.1L373.3 646.1L373.8 646.8L374.4 646.2L375 645.5L375.6 644.6L376.1 644.2L376.7 644.7L377.3 646.9L377.9 649.3L378.5 649L379 647L379.6 646.8L380.2 648L380.8 647.2L381.4 644.2L381.9 643L382.5 644L383.1 644.4L383.7 644.7L384.2 646.6L384.8 649.5L385.4 650.8L386 649.7L386.6 647.8L387.1 647.2L387.7 648.6L388.3 649.9L388.9 649.4L389.5 648.5L390 647L390.6 644L391.2 641.6L391.8 641.1L392.3 641.2L392.9 640.8L393.5 640.8L394.1 642.2L394.7 642.5L395.2 642.2L395.8 644.3L396.4 648.4L397 650.7L397.6 648.6L398.1 644.7L398.7 641.6L399.3 639.4L399.9 637.9L400.5 638.1L401 639.8L401.6 640.9L402.2 641.2L402.8 642.1L403.3 643.9L403.9 646.3L404.5 647.4L405.1 646.8L405.7 646L406.2 646.5L406.8 646.6L407.4 644.1L408 641.2L408.6 641.2L409.1 642.7L409.7 642.7L410.3 642.4L410.9 643.7L411.4 645.4L412 644.3L412.6 642L413.2 642.7L413.8 644.8L414.3 644.9L414.9 641.6L415.5 638.7L416.1 639.6L416.7 641.9L417.2 644.8L417.8 646.6L418.4 646.6L419 645.6L419.5 643.1L420.1 641.4L420.7 641.4L421.3 641.9L421.9 641.9L422.4 640.5L423 639.1L423.6 638.6L424.2 639.6L424.8 642L425.3 643.1L425.9 643L426.5 643.7L427.1 645.5L427.7 646.7L428.2 645.9L428.8 644.5L429.4 643.1L430 642.4L430.5 643.4L431.1 644.5L431.7 645L432.3 645L432.9 643.9L433.4 642.4L434 641.9L434.6 643.3L435.2 645.3L435.8 645.9L436.3 645.3L436.9 644.1L437.5 643.4L438.1 643.8L438.6 644.6L439.2 644.9L439.8 645.6L440.4 647.3L441 648.3L441.5 646L442.1 640.5L442.7 637.5L443.3 639.2L443.9 642.8L444.4 644.2L445 641.4L445.6 638.8L446.2 639.9L446.7 644.8L447.3 651L447.9 654.3L448.5 653.4L449.1 648.9L449.6 642.2L450.2 637.5L450.8 637.3L451.4 641.1L452 645.6L452.5 647.8L453.1 646.7L453.7 643.7L454.3 641.5L454.8 641.7L455.4 644.4L456 647.8L456.6 648.8L457.2 646.1L457.7 644.5L458.3 648.6L458.9 653.8L459.5 653.4L460.1 648.1L460.6 644.4L461.2 644.1L461.8 642.9L462.4 638.6L463 635L463.5 635.7L464.1 640.4L464.7 645.5L465.3 648.6L465.8 649.3L466.4 648.6L467 647.7L467.6 647.7L468.2 648.5L468.7 648.8L469.3 647.5L469.9 645.9L470.5 645.5L471.1 645.5L471.6 643L472.2 638.3L472.8 636.3L473.4 638.8L473.9 641.3L474.5 639.8L475.1 637.7L475.7 639.1L476.3 643.6L476.8 646.8L477.4 647.1L478 645.5L478.6 643.2L479.2 640.8L479.7 638.1L480.3 636.6" stroke="#69AE90" stroke-width="4.1"/>
<path d="M40.5 731.8L41.1 731.7L41.7 731.5L42.2 730.9L42.8 729.6L43.4 726.8L44 721.3L44.6 710.8L45.1 692.1L45.7 667.4L46.3 643.4L46.9 636.2L47.4 652.6L48 672.2L48.6 688.4L49.2 699.4L49.8 706L50.3 709.4L50.9 711.1L51.5 711.8L52.1 712.1L52.7 712.2L53.2 712.7L53.8 715.3L54.4 717.8L55 720.3L55.5 722.6L56.1 725L56.7 727.6L57.3 729.9L57.9 731.4L58.4 732.6L59 734.7L59.6 737.3L60.2 738.8L60.8 739.6L61.3 741.4L61.9 743.2L62.5 743.2L63.1 741.3L63.6 739.8L64.2 740.7L64.8 743.7L65.4 747.5L66 750.2L66.5 753.1L67.1 756.6L67.7 757.9L68.3 756L68.9 752.3L69.4 750.1L70 750.7L70.6 754.5L71.2 758.8L71.7 761.7L72.3 762.8L72.9 762.6L73.5 762.1L74.1 761L74.6 760.6L75.2 761.4L75.8 762.7L76.4 763.8L77 763.1L77.5 762.8L78.1 765.5L78.7 769.6L79.3 771.7L79.9 770.6L80.4 769L81 768.4L81.6 768L82.2 769.2L82.7 771.3L83.3 773.5L83.9 774.7L84.5 775.6L85.1 777.7L85.6 778L86.2 774.7L86.8 771.3L87.4 771.6L88 774.5L88.5 775.6L89.1 775.2L89.7 777L90.3 780.2L90.8 781.3L91.4 778.9L92 776.4L92.6 776.2L93.2 775.3L93.7 773.1L94.3 773.2L94.9 775.8L95.5 777L96.1 775.7L96.6 775.4L97.2 778L97.8 781.1L98.4 782.1L98.9 780.1L99.5 777L100.1 776.5L100.7 777.6L101.3 776.8L101.8 773.3L102.4 768.9L103 764.3L103.6 759.4L104.2 757.9L104.7 761.1L105.3 765.6L105.9 768.2L106.5 770.2L107.1 778.5L107.6 793L108.2 805.5L108.8 807.8L109.4 801.3L109.9 791.1L110.5 778.7L111.1 765.6L111.7 754.4L112.3 746.6L112.8 740.1L113.4 732.9L114 727L114.6 725.4L115.2 729.2L115.7 736.6L116.3 746.1L116.9 757.5L117.5 770.7L118 784.8L118.6 796.6L119.2 805.2L119.8 811.3L120.4 814.8L120.9 814.4L121.5 809L122.1 798.8L122.7 785.3L123.3 770.6L123.8 755.8L124.4 741.8L125 728.7L125.6 719.3L126.1 716.9L126.7 724.2L127.3 740.4L127.9 761.1L128.5 781.8L129 798.2L129.6 806.1L130.2 804.5L130.8 799.2L131.4 793.1L131.9 786.9L132.5 780.4L133.1 773.4L133.7 766.1L134.2 759L134.8 752.4L135.4 748.5L136 747.8L136.6 750.1L137.1 754.7L137.7 762.2L138.3 771.6L138.9 779.5L139.5 785L140 788.7L140.6 791L141.2 791L141.8 787.7L142.4 780.2L142.9 771.6L143.5 765L144.1 760.7L144.7 757.8L145.2 756.2L145.8 757.1L146.4 758L147 756.7L147.6 755.5L148.1 758.2L148.7 763.9L149.3 769L149.9 772.4L150.5 775.8L151 779L151.6 779.5L152.2 777L152.8 774L153.3 771.5L153.9 769.2L154.5 766.6L155.1 764.1L155.7 762.2L156.2 758.7L156.8 754.4L157.4 751L158 750L158.6 751.3L159.1 754.5L159.7 759.5L160.3 764.8L160.9 770.1L161.4 774.7L162 777.4L162.6 778.6L163.2 777.7L163.8 773.8L164.3 768.1L164.9 763.9L165.5 762.7L166.1 761.6L166.7 759.3L167.2 757.4L167.8 755.8L168.4 753.8L169 753.7L169.6 755.9L170.1 758.4L170.7 759L171.3 758.6L171.9 760.1L172.4 763L173 765.2L173.6 765.2L174.2 763L174.8 759.5L175.3 756.4L175.9 755.4L176.5 756L177.1 755.2L177.7 753.1L178.2 752.3L178.8 752.8L179.4 752.8L180 753.1L180.5 756.3L181.1 762L181.7 765.2L182.3 763.9L182.9 762.2L183.4 763.6L184 765.2L184.6 761.8L185.2 754.1L185.8 746.9L186.3 740.1L186.9 733.6L187.5 731.1L188.1 732.9L188.6 736.6L189.2 739.8L189.8 744.1L190.4 751L191 758.8L191.5 764.8L192.1 767.6L192.7 767.8L193.3 767.4L193.9 764.1L194.4 757.9L195 753.9L195.6 753.4L196.2 751.5L196.7 745.3L197.3 740.3L197.9 739.5L198.5 739.8L199.1 740.4L199.6 743.3L200.2 747.7L200.8 750.4L201.4 751.6L202 753.1L202.5 754.1L203.1 754.3L203.7 754.8L204.3 755.6L204.9 754.4L205.4 751.5L206 749.3L206.6 747.7L207.2 745L207.7 742.3L208.3 742.9L208.9 745.9L209.5 748.8L210.1 751.8L210.6 754.9L211.2 755L211.8 751.9L212.4 750.1L213 752.4L213.5 755.2L214.1 754L214.7 748.9L215.3 743L215.8 740.9L216.4 744.4L217 750.6L217.6 753.9L218.2 751.7L218.7 748.8L219.3 750.3L219.9 753.9L220.5 754.8L221.1 751.6L221.6 748.2L222.2 748.9L222.8 752.5L223.4 754.5L223.9 753.1L224.5 750.3L225.1 749.3L225.7 749.1L226.3 747.5L226.8 745.1L227.4 743.6L228 744.4L228.6 745.4L229.2 744.5L229.7 742.8L230.3 743.4L230.9 747.3L231.5 750.8L232 750.8L232.6 746.8L233.2 741.4L233.8 737.8L234.4 737.9L234.9 741.1L235.5 744.9L236.1 746.5L236.7 744.9L237.3 742L237.8 739.6L238.4 737.2L239 734.1L239.6 733.3L240.2 736L240.7 739.5L241.3 742.8L241.9 745.7L242.5 748.3L243 748.7L243.6 747.7L244.2 748.1L244.8 750.3L245.4 752.7L245.9 753L246.5 750.1L247.1 746.1L247.7 742.2L248.3 738.6L248.8 736.1L249.4 735.2L250 735.4L250.6 736.7L251.1 738.8L251.7 741.6L252.3 743L252.9 744.4L253.5 746.4L254 745.7L254.6 741.8L255.2 737.8L255.8 738.4L256.4 743.2L256.9 747L257.5 746.5L258.1 742.8L258.7 738.7L259.2 737.3L259.8 737.2L260.4 736.9L261 737L261.6 738.5L262.1 743L262.7 747.1L263.3 748.2L263.9 746.8L264.5 743.3L265 739.4L265.6 736.4L266.2 735L266.8 734.1L267.4 733.3L267.9 734.3L268.5 737.2L269.1 740.3L269.7 742.2L270.2 744.3L270.8 747L271.4 748.4L272 747.4L272.6 744.2L273.1 742.5L273.7 743.7L274.3 745.6L274.9 746.4L275.5 744.7L276 740.5L276.6 736L277.2 733.2L277.8 732.1L278.3 731.4L278.9 731.4L279.5 734.1L280.1 738.9L280.7 743.2L281.2 745.3L281.8 745L282.4 745.6L283 748.3L283.6 750.4L284.1 749.6L284.7 745.2L285.3 740.2L285.9 736L286.4 733.4L287 731.6L287.6 729.2L288.2 725.9L288.8 723.6L289.3 725L289.9 729.3L290.5 735.4L291.1 741.3L291.7 746.1L292.2 748L292.8 746.7L293.4 745L294 744L294.5 743L295.1 742L295.7 741L296.3 738.9L296.9 736.2L297.4 735L298 736.5L298.6 737.9L299.2 737.4L299.8 737.9L300.3 741.5L300.9 745.8L301.5 747.3L302.1 746.4L302.7 746.6L303.2 748.6L303.8 750.1L304.4 751L305 750.4L305.5 748.5L306.1 745.4L306.7 740.6L307.3 736.4L307.9 733.7L308.4 733.2L309 733.8L309.6 734L310.2 735.9L310.8 738.9L311.3 742.3L311.9 746.4L312.5 750.3L313.1 752.8L313.6 752.8L314.2 750.5L314.8 746.9L315.4 742.8L316 739.1L316.5 736.1L317.1 733.2L317.7 729.2L318.3 725.9L318.9 726.6L319.4 733.1L320 741.6L320.6 746.3L321.2 746.9L321.7 744.8L322.3 741.9L322.9 740.4L323.5 740.7L324.1 742L324.6 743.1L325.2 742.3L325.8 738.4L326.4 734.5L327 735.3L327.5 738.8L328.1 738.9L328.7 737L329.3 738.1L329.8 741.9L330.4 743.7L331 741.6L331.6 739.2L332.2 738.2L332.7 740.2L333.3 743.5L333.9 745.6L334.5 745.9L335.1 745.7L335.6 745.6L336.2 742.7L336.8 735.8L337.4 730.2L338 731L338.5 737.1L339.1 742.5L339.7 743L340.3 740L340.8 735.9L341.4 733.9L342 734.8L342.6 736.1L343.2 736.8L343.7 738.3L344.3 740.5L344.9 741.5L345.5 739.8L346.1 737L346.6 734.9L347.2 734L347.8 733.5L348.4 733.4L348.9 734.7L349.5 737.3L350.1 738.5L350.7 737.3L351.3 737.2L351.8 737.5L352.4 736.6L353 734.5L353.6 733L354.2 733.6L354.7 736.1L355.3 739.8L355.9 741.4L356.5 740L357 738L357.6 736.8L358.2 736.7L358.8 737.3L359.4 737.2L359.9 737.8L360.5 740L361.1 742.1L361.7 741.4L362.3 740.3L362.8 742.5L363.4 744.1L364 741L364.6 736.8L365.2 735.1L365.7 735.1L366.3 733.5L366.9 731.2L367.5 731.7L368 734.8L368.6 738L369.2 739.7L369.8 741.5L370.4 744.6L370.9 746.2L371.5 744.7L372.1 743.2L372.7 744.4L373.3 745.5L373.8 742.8L374.4 737.7L375 734.1L375.6 733.7L376.1 735.8L376.7 740.4L377.3 744.5L377.9 745.3L378.5 743.1L379 739.3L379.6 734.9L380.2 730.6L380.8 730.5L381.4 735.8L381.9 741.2L382.5 743.4L383.1 741.3L383.7 737L384.2 733.5L384.8 733.5L385.4 737.2L386 738.9L386.6 735.3L387.1 730.5L387.7 730L388.3 733.1L388.9 734.2L389.5 732.6L390 731.9L390.6 733.5L391.2 735.8L391.8 737.3L392.3 739.3L392.9 741.3L393.5 740.5L394.1 736.7L394.7 731.1L395.2 728L395.8 729.6L396.4 733.5L397 736.7L397.6 736.9L398.1 734.7L398.7 732.7L399.3 732.4L399.9 734.9L400.5 739.3L401 742.9L401.6 745L402.2 744.1L402.8 739.6L403.3 735L403.9 733.6L404.5 734.8L405.1 735.6L405.7 734.9L406.2 733.7L406.8 734L407.4 736.4L408 739.1L408.6 739.4L409.1 738.6L409.7 738.5L410.3 739.2L410.9 740.4L411.4 740.6L412 739.5L412.6 737.8L413.2 736.5L413.8 736.1L414.3 735.1L414.9 733.4L415.5 729.4L416.1 724.2L416.7 723L417.2 726L417.8 729.4L418.4 732.2L419 735L419.5 739.9L420.1 746L420.7 748L421.3 744.8L421.9 739.2L422.4 737.1L423 738L423.6 737.1L424.2 734.7L424.8 732.5L425.3 733.1L425.9 735.8L426.5 739L427.1 741L427.7 741.2L428.2 741.5L428.8 741.2L429.4 740.9L430 740.4L430.5 738.9L431.1 737L431.7 736.8L432.3 739.2L432.9 739.8L433.4 735.1L434 728.4L434.6 724.4L435.2 724.5L435.8 725.9L436.3 726.4L436.9 727.7L437.5 729.8L438.1 733.2L438.6 737.7L439.2 739.3L439.8 738.3L440.4 737.6L441 740.1L441.5 743.7L442.1 742.8L442.7 737.8L443.3 733L443.9 731.4L444.4 733.4L445 736.3L445.6 738.6L446.2 738.2L446.7 735L447.3 733.4L447.9 736.1L448.5 740.5L449.1 742.3L449.6 740.9L450.2 739.5L450.8 737.2L451.4 734L452 732.7L452.5 733.1L453.1 731.8L453.7 727.2L454.3 723.2L454.8 723.7L455.4 727.7L456 730.7L456.6 730.9L457.2 731.9L457.7 736.4L458.3 741.1L458.9 741.3L459.5 737.9L460.1 735.8L460.6 735.6L461.2 735.1L461.8 735.4L462.4 737L463 738.6L463.5 737.5L464.1 734.2L464.7 732.6L465.3 733.9L465.8 736.6L466.4 738.6L467 739.4L467.6 738.9L468.2 738.8L468.7 740.6L469.3 743.4L469.9 745.7L470.5 745.6L471.1 742.1L471.6 736.7L472.2 732.6L472.8 731.6L473.4 730.7L473.9 729.6L474.5 729.5L475.1 730.8L475.7 734L476.3 738.3L476.8 741.6L477.4 740.7L478 737.2L478.6 735.3L479.2 736.7L479.7 739.8L480.3 741.6" stroke="#87C095" stroke-width="4.1"/>
<path d="M49.4 186.3L50 188.3L50.5 190.1L51.1 191.9L51.7 193.6L52.3 195.2L52.9 196.8L53.4 198.3L54 199.7L54.6 201.1L55.2 202.4L55.7 203.7L56.3 204.9L56.9 206L57.5 207.1L58.1 208.2L58.6 209.2L59.2 210.2L59.8 211.1L60.4 212L61 212.8L61.5 213.6L62.1 214.3L62.7 215.1L63.3 215.7L63.9 216.4L64.4 217L65 217.6L65.6 218.2L66.2 218.7L66.7 219.2L67.3 219.7L67.9 220.1L68.5 220.5L69.1 220.9L69.6 221.3L70.2 221.6L70.8 222L71.4 222.3L72 222.6L72.5 222.8L73.1 223.1L73.7 223.3L74.3 223.5L74.8 223.7L75.4 223.9L76 224.1L76.6 224.2L77.2 224.4L77.7 224.5L78.3 224.6L78.9 224.7L79.5 224.8L80.1 224.8L80.6 224.9L81.2 225L81.8 225L82.4 225L82.9 225.1L83.5 225.1L84.1 225.1L84.7 225.1L85.3 225.1L85.8 225L86.4 225L87 225L87.6 224.9L88.2 224.9L88.7 224.8L89.3 224.8L89.9 224.7L90.5 224.7L91 224.6L91.6 224.5L92.2 224.4L92.8 224.3L93.4 224.2L93.9 224.1L94.5 224L95.1 223.9L95.7 223.8L96.3 223.7L96.8 223.6L97.4 223.5L98 223.4L98.6 223.2L99.2 223.1L99.7 223L100.3 222.9L100.9 222.7L101.5 222.6L102 222.5L102.6 222.3L103.2 222.2L103.8 222L104.4 221.9L104.9 221.8L105.5 221.6L106.1 221.5L106.7 221.3L107.3 221.2L109 220.7L110.7 220.3L112.5 219.8L114.2 219.4L115.9 218.9L117.7 218.4L119.4 218L121.1 217.5L122.9 217.1L124.6 216.6L126.3 216.2L128.1 215.8L129.8 215.3L131.6 214.9L133.3 214.5L135 214.1L136.8 213.7L138.5 213.3L140.2 212.9L142 212.5L143.7 212.1L145.4 211.8L147.2 211.4L148.9 211.1L150.7 210.7L152.4 210.4L154.1 210.1L155.9 209.8L157.6 209.4L159.3 209.1L161.1 208.9L162.8 208.6L164.5 208.3L166.3 208L168 207.7L169.8 207.5L171.5 207.2L173.2 207L175 206.8L176.7 206.5L178.4 206.3L180.2 206.1L181.9 205.9L183.6 205.7L185.4 205.5L187.1 205.3L188.8 205.1L190.6 204.9L192.3 204.7L194.1 204.6L195.8 204.4L197.5 204.2L199.3 204.1L201 203.9L202.7 203.8L204.5 203.6L206.2 203.5L207.9 203.4L209.7 203.2L211.4 203.1L213.2 203L214.9 202.9L216.6 202.8L218.4 202.7L220.1 202.6L221.8 202.5L223.6 202.4L225.3 202.3L227 202.2L228.8 202.1L230.5 202L232.3 201.9L234 201.9L235.7 201.8L237.5 201.7L239.2 201.7L240.9 201.6L242.7 201.5L244.4 201.5L246.1 201.4L247.9 201.4L249.6 201.3L251.3 201.3L253.1 201.2L254.8 201.2L256.6 201.2L258.3 201.1L260 201.1L261.8 201L263.5 201L265.2 201L267 201L268.7 200.9L270.4 200.9L272.2 200.9L273.9 200.9L275.7 200.9L277.4 200.8L279.1 200.8L280.9 200.8L282.6 200.8L284.3 200.8L286.1 200.8L287.8 200.8L289.5 200.8L291.3 200.8L293 200.8L294.8 200.8L296.5 200.8L298.2 200.8L300 200.8L301.7 200.8L303.4 200.8L305.2 200.8L306.9 200.8L308.6 200.8L310.4 200.9L312.1 200.9L313.8 200.9L315.6 200.9L317.3 200.9L319.1 200.9L320.8 201L322.5 201L324.3 201L326 201L327.7 201L329.5 201.1L331.2 201.1L332.9 201.1L334.7 201.1L336.4 201.2L338.2 201.2L339.9 201.2L341.6 201.2L343.4 201.3L345.1 201.3L346.8 201.3L348.6 201.4L350.3 201.4L352 201.4L353.8 201.5L355.5 201.5L357.3 201.5L359 201.6L360.7 201.6L362.5 201.6L364.2 201.7L365.9 201.7L367.7 201.8L369.4 201.8L371.1 201.8L372.9 201.9L374.6 201.9L376.3 202L378.1 202L379.8 202L381.6 202.1L383.3 202.1L385 202.2L386.8 202.2L388.5 202.3L390.2 202.3L392 202.3L393.7 202.4L395.4 202.4L397.2 202.5L398.9 202.5L400.7 202.6L402.4 202.6L404.1 202.7L405.9 202.7L407.6 202.8L409.3 202.8L411.1 202.8L412.8 202.9L414.5 202.9L416.3 203L418 203L419.8 203.1L421.5 203.1L423.2 203.2L425 203.2L426.7 203.3L428.4 203.3L430.2 203.4L431.9 203.4L433.6 203.5L435.4 203.5L437.1 203.6L438.8 203.6L440.6 203.7L442.3 203.7L444.1 203.8L445.8 203.8L447.5 203.9L449.3 204L451 204L452.7 204.1L454.5 204.1L456.2 204.2L457.9 204.2L459.7 204.3L461.4 204.3L463.2 204.4L464.9 204.4L466.6 204.5L468.4 204.5L470.1 204.6L471.8 204.6L473.6 204.7L475.3 204.8L477 204.8L478.8 204.9L480.2 204.9" stroke="#000" stroke-width="3.2" stroke-linecap="butt"/>
<path d="M47.9 274.8L48.5 276.8L49.1 278.8L49.7 280.6L50.3 282.5L50.8 284.2L51.4 285.8L52 287.4L52.6 289L53.1 290.4L53.7 291.8L54.3 293.1L54.9 294.4L55.5 295.7L56 296.8L56.6 297.9L57.2 299L57.8 300L58.4 301L58.9 302L59.5 302.8L60.1 303.7L60.7 304.5L61.2 305.3L61.8 306L62.4 306.7L63 307.4L63.6 308L64.1 308.6L64.7 309.2L65.3 309.7L65.9 310.3L66.5 310.7L67 311.2L67.6 311.6L68.2 312.1L68.8 312.5L69.3 312.8L69.9 313.2L70.5 313.5L71.1 313.8L71.7 314.1L72.2 314.4L72.8 314.6L73.4 314.8L74 315.1L74.6 315.3L75.1 315.5L75.7 315.6L76.3 315.8L76.9 315.9L77.4 316.1L78 316.2L78.6 316.3L79.2 316.4L79.8 316.5L80.3 316.5L80.9 316.6L81.5 316.7L82.1 316.7L82.7 316.8L83.2 316.8L83.8 316.8L84.4 316.8L85 316.8L85.6 316.8L86.1 316.8L86.7 316.8L87.3 316.8L87.9 316.7L88.4 316.7L89 316.7L89.6 316.6L90.2 316.6L90.8 316.5L91.3 316.5L91.9 316.4L92.5 316.3L93.1 316.3L93.7 316.2L94.2 316.1L94.8 316L95.4 315.9L96 315.9L96.5 315.8L97.1 315.7L97.7 315.6L98.3 315.5L98.9 315.4L99.4 315.3L100 315.2L100.6 315L101.2 314.9L101.8 314.8L102.3 314.7L102.9 314.6L103.5 314.5L104.1 314.3L104.6 314.2L105.2 314.1L105.8 314L107.5 313.6L109.3 313.2L111 312.8L112.8 312.4L114.5 312L116.2 311.6L118 311.2L119.7 310.8L121.4 310.4L123.2 310L124.9 309.6L126.6 309.2L128.4 308.9L130.1 308.5L131.8 308.1L133.6 307.7L135.3 307.3L137.1 307L138.8 306.6L140.5 306.3L142.3 305.9L144 305.6L145.7 305.2L147.5 304.9L149.2 304.6L150.9 304.3L152.7 303.9L154.4 303.6L156.2 303.3L157.9 303L159.6 302.7L161.4 302.5L163.1 302.2L164.8 301.9L166.6 301.7L168.3 301.4L170 301.1L171.8 300.9L173.5 300.6L175.3 300.4L177 300.2L178.7 299.9L180.5 299.7L182.2 299.5L183.9 299.3L185.7 299.1L187.4 298.9L189.1 298.7L190.9 298.5L192.6 298.3L194.3 298.1L196.1 297.9L197.8 297.8L199.6 297.6L201.3 297.4L203 297.3L204.8 297.1L206.5 297L208.2 296.8L210 296.7L211.7 296.5L213.4 296.4L215.2 296.2L216.9 296.1L218.7 296L220.4 295.9L222.1 295.7L223.9 295.6L225.6 295.5L227.3 295.4L229.1 295.3L230.8 295.2L232.5 295.1L234.3 295L236 294.9L237.7 294.8L239.5 294.7L241.2 294.6L243 294.5L244.7 294.5L246.4 294.4L248.2 294.3L249.9 294.2L251.6 294.2L253.4 294.1L255.1 294L256.8 294L258.6 293.9L260.3 293.8L262.1 293.8L263.8 293.7L265.5 293.7L267.3 293.6L269 293.6L270.7 293.5L272.5 293.5L274.2 293.4L275.9 293.4L277.7 293.4L279.4 293.3L281.2 293.3L282.9 293.2L284.6 293.2L286.4 293.2L288.1 293.2L289.8 293.1L291.6 293.1L293.3 293.1L295 293.1L296.8 293L298.5 293L300.2 293L302 293L303.7 293L305.5 292.9L307.2 292.9L308.9 292.9L310.7 292.9L312.4 292.9L314.1 292.9L315.9 292.9L317.6 292.9L319.3 292.9L321.1 292.9L322.8 292.8L324.6 292.8L326.3 292.8L328 292.8L329.8 292.8L331.5 292.8L333.2 292.8L335 292.8L336.7 292.9L338.4 292.9L340.2 292.9L341.9 292.9L343.7 292.9L345.4 292.9L347.1 292.9L348.9 292.9L350.6 292.9L352.3 292.9L354.1 292.9L355.8 292.9L357.5 293L359.3 293L361 293L362.7 293L364.5 293L366.2 293L368 293L369.7 293.1L371.4 293.1L373.2 293.1L374.9 293.1L376.6 293.1L378.4 293.1L380.1 293.2L381.8 293.2L383.6 293.2L385.3 293.2L387.1 293.3L388.8 293.3L390.5 293.3L392.3 293.3L394 293.3L395.7 293.4L397.5 293.4L399.2 293.4L400.9 293.4L402.7 293.5L404.4 293.5L406.2 293.5L407.9 293.5L409.6 293.6L411.4 293.6L413.1 293.6L414.8 293.6L416.6 293.7L418.3 293.7L420 293.7L421.8 293.8L423.5 293.8L425.2 293.8L427 293.8L428.7 293.9L430.5 293.9L432.2 293.9L433.9 294L435.7 294L437.4 294L439.1 294L440.9 294.1L442.6 294.1L444.3 294.1L446.1 294.2L447.8 294.2L449.6 294.2L451.3 294.3L453 294.3L454.8 294.3L456.5 294.3L458.2 294.4L460 294.4L461.7 294.4L463.4 294.5L465.2 294.5L466.9 294.5L468.7 294.6L470.4 294.6L472.1 294.6L473.9 294.7L475.6 294.7L477.3 294.7L479.1 294.8L480.2 294.8" stroke="#000" stroke-width="3.2" stroke-linecap="butt"/>
<path d="M50.3 362.9L50.8 364.8L51.4 366.7L52 368.6L52.6 370.3L53.1 372L53.7 373.7L54.3 375.2L54.9 376.8L55.5 378.2L56 379.7L56.6 381L57.2 382.3L57.8 383.6L58.4 384.8L58.9 386L59.5 387.1L60.1 388.2L60.7 389.3L61.2 390.3L61.8 391.2L62.4 392.1L63 393L63.6 393.9L64.1 394.7L64.7 395.5L65.3 396.2L65.9 397L66.5 397.7L67 398.3L67.6 399L68.2 399.6L68.8 400.1L69.3 400.7L69.9 401.2L70.5 401.7L71.1 402.2L71.7 402.6L72.2 403.1L72.8 403.5L73.4 403.9L74 404.2L74.6 404.6L75.1 404.9L75.7 405.2L76.3 405.5L76.9 405.8L77.4 406.1L78 406.3L78.6 406.5L79.2 406.8L79.8 407L80.3 407.1L80.9 407.3L81.5 407.5L82.1 407.6L82.7 407.8L83.2 407.9L83.8 408L84.4 408.1L85 408.2L85.6 408.2L86.1 408.3L86.7 408.4L87.3 408.4L87.9 408.5L88.4 408.5L89 408.5L89.6 408.5L90.2 408.5L90.8 408.5L91.3 408.5L91.9 408.5L92.5 408.5L93.1 408.5L93.7 408.4L94.2 408.4L94.8 408.3L95.4 408.3L96 408.2L96.5 408.2L97.1 408.1L97.7 408L98.3 408L98.9 407.9L99.4 407.8L100 407.7L100.6 407.6L101.2 407.5L101.8 407.4L102.3 407.3L102.9 407.2L103.5 407.1L104.1 407L104.6 406.9L105.2 406.7L105.8 406.6L106.4 406.5L107 406.4L107.5 406.2L108.1 406.1L109.9 405.7L111.6 405.3L113.3 404.9L115.1 404.4L116.8 404L118.5 403.5L120.3 403.1L122 402.6L123.7 402.1L125.5 401.7L127.2 401.2L129 400.8L130.7 400.3L132.4 399.8L134.2 399.4L135.9 398.9L137.6 398.5L139.4 398.1L141.1 397.6L142.8 397.2L144.6 396.8L146.3 396.3L148.1 395.9L149.8 395.5L151.5 395.1L153.3 394.8L155 394.4L156.7 394L158.5 393.6L160.2 393.3L161.9 392.9L163.7 392.6L165.4 392.2L167.1 391.9L168.9 391.6L170.6 391.3L172.4 391L174.1 390.7L175.8 390.4L177.6 390.1L179.3 389.8L181 389.5L182.8 389.3L184.5 389L186.2 388.8L188 388.5L189.7 388.3L191.5 388L193.2 387.8L194.9 387.6L196.7 387.4L198.4 387.1L200.1 386.9L201.9 386.7L203.6 386.5L205.3 386.4L207.1 386.2L208.8 386L210.6 385.8L212.3 385.6L214 385.5L215.8 385.3L217.5 385.2L219.2 385L221 384.9L222.7 384.7L224.4 384.6L226.2 384.4L227.9 384.3L229.6 384.2L231.4 384.1L233.1 383.9L234.9 383.8L236.6 383.7L238.3 383.6L240.1 383.5L241.8 383.4L243.5 383.3L245.3 383.2L247 383.1L248.7 383L250.5 382.9L252.2 382.8L254 382.7L255.7 382.6L257.4 382.6L259.2 382.5L260.9 382.4L262.6 382.3L264.4 382.3L266.1 382.2L267.8 382.1L269.6 382.1L271.3 382L273.1 382L274.8 381.9L276.5 381.8L278.3 381.8L280 381.7L281.7 381.7L283.5 381.6L285.2 381.6L286.9 381.6L288.7 381.5L290.4 381.5L292.1 381.4L293.9 381.4L295.6 381.4L297.4 381.3L299.1 381.3L300.8 381.3L302.6 381.2L304.3 381.2L306 381.2L307.8 381.1L309.5 381.1L311.2 381.1L313 381.1L314.7 381L316.5 381L318.2 381L319.9 381L321.7 381L323.4 380.9L325.1 380.9L326.9 380.9L328.6 380.9L330.3 380.9L332.1 380.9L333.8 380.9L335.6 380.9L337.3 380.8L339 380.8L340.8 380.8L342.5 380.8L344.2 380.8L346 380.8L347.7 380.8L349.4 380.8L351.2 380.8L352.9 380.8L354.6 380.8L356.4 380.8L358.1 380.8L359.9 380.8L361.6 380.8L363.3 380.8L365.1 380.8L366.8 380.8L368.5 380.8L370.3 380.8L372 380.8L373.7 380.8L375.5 380.8L377.2 380.8L379 380.8L380.7 380.8L382.4 380.8L384.2 380.8L385.9 380.8L387.6 380.8L389.4 380.8L391.1 380.8L392.8 380.8L394.6 380.8L396.3 380.8L398 380.8L399.8 380.9L401.5 380.9L403.3 380.9L405 380.9L406.7 380.9L408.5 380.9L410.2 380.9L411.9 380.9L413.7 380.9L415.4 380.9L417.1 381L418.9 381L420.6 381L422.4 381L424.1 381L425.8 381L427.6 381L429.3 381L431 381L432.8 381.1L434.5 381.1L436.2 381.1L438 381.1L439.7 381.1L441.5 381.1L443.2 381.1L444.9 381.2L446.7 381.2L448.4 381.2L450.1 381.2L451.9 381.2L453.6 381.2L455.3 381.2L457.1 381.3L458.8 381.3L460.5 381.3L462.3 381.3L464 381.3L465.8 381.3L467.5 381.3L469.2 381.4L471 381.4L472.7 381.4L474.4 381.4L476.2 381.4L477.9 381.4L479.6 381.5L480.2 381.5" stroke="#000" stroke-width="3.2" stroke-linecap="butt"/>
<path d="M55.2 455.6L55.7 457.8L56.3 460L56.9 462.1L57.5 464.1L58.1 466L58.6 467.8L59.2 469.5L59.8 471.2L60.4 472.8L61 474.3L61.5 475.8L62.1 477.2L62.7 478.5L63.3 479.8L63.9 481L64.4 482.2L65 483.3L65.6 484.3L66.2 485.3L66.7 486.3L67.3 487.2L67.9 488.1L68.5 488.9L69.1 489.7L69.6 490.4L70.2 491.1L70.8 491.8L71.4 492.4L72 493L72.5 493.6L73.1 494.1L73.7 494.6L74.3 495.1L74.8 495.5L75.4 495.9L76 496.3L76.6 496.7L77.2 497L77.7 497.4L78.3 497.7L78.9 497.9L79.5 498.2L80.1 498.4L80.6 498.7L81.2 498.9L81.8 499L82.4 499.2L82.9 499.4L83.5 499.5L84.1 499.6L84.7 499.7L85.3 499.8L85.8 499.9L86.4 500L87 500L87.6 500.1L88.2 500.1L88.7 500.1L89.3 500.2L89.9 500.2L90.5 500.2L91 500.1L91.6 500.1L92.2 500.1L92.8 500.1L93.4 500L93.9 500L94.5 499.9L95.1 499.8L95.7 499.8L96.3 499.7L96.8 499.6L97.4 499.5L98 499.4L98.6 499.3L99.2 499.2L99.7 499.1L100.3 499L100.9 498.9L101.5 498.8L102 498.6L102.6 498.5L103.2 498.4L103.8 498.3L104.4 498.1L104.9 498L105.5 497.8L106.1 497.7L106.7 497.6L107.3 497.4L107.8 497.3L108.4 497.1L109 497L109.6 496.8L110.1 496.6L110.7 496.5L111.3 496.3L111.9 496.2L112.5 496L113 495.9L114.8 495.4L116.5 494.9L118.2 494.4L120 493.9L121.7 493.4L123.5 492.9L125.2 492.4L126.9 491.9L128.7 491.4L130.4 490.9L132.1 490.4L133.9 489.9L135.6 489.4L137.3 489L139.1 488.5L140.8 488L142.6 487.6L144.3 487.1L146 486.7L147.8 486.3L149.5 485.9L151.2 485.4L153 485L154.7 484.6L156.4 484.3L158.2 483.9L159.9 483.5L161.7 483.1L163.4 482.8L165.1 482.4L166.9 482.1L168.6 481.7L170.3 481.4L172.1 481.1L173.8 480.8L175.5 480.5L177.3 480.2L179 479.9L180.7 479.6L182.5 479.3L184.2 479L186 478.8L187.7 478.5L189.4 478.3L191.2 478L192.9 477.8L194.6 477.5L196.4 477.3L198.1 477.1L199.8 476.8L201.6 476.6L203.3 476.4L205.1 476.2L206.8 476L208.5 475.8L210.3 475.6L212 475.4L213.7 475.2L215.5 475.1L217.2 474.9L218.9 474.7L220.7 474.6L222.4 474.4L224.2 474.2L225.9 474.1L227.6 473.9L229.4 473.8L231.1 473.6L232.8 473.5L234.6 473.4L236.3 473.2L238 473.1L239.8 473L241.5 472.8L243.2 472.7L245 472.6L246.7 472.5L248.5 472.4L250.2 472.3L251.9 472.2L253.7 472.1L255.4 472L257.1 471.9L258.9 471.8L260.6 471.7L262.3 471.6L264.1 471.5L265.8 471.4L267.6 471.3L269.3 471.2L271 471.2L272.8 471.1L274.5 471L276.2 470.9L278 470.8L279.7 470.8L281.4 470.7L283.2 470.6L284.9 470.6L286.6 470.5L288.4 470.5L290.1 470.4L291.9 470.3L293.6 470.3L295.3 470.2L297.1 470.2L298.8 470.1L300.5 470.1L302.3 470L304 470L305.7 469.9L307.5 469.9L309.2 469.8L311 469.8L312.7 469.7L314.4 469.7L316.2 469.7L317.9 469.6L319.6 469.6L321.4 469.5L323.1 469.5L324.8 469.5L326.6 469.4L328.3 469.4L330.1 469.4L331.8 469.3L333.5 469.3L335.3 469.3L337 469.3L338.7 469.2L340.5 469.2L342.2 469.2L343.9 469.1L345.7 469.1L347.4 469.1L349.1 469.1L350.9 469.1L352.6 469L354.4 469L356.1 469L357.8 469L359.6 469L361.3 468.9L363 468.9L364.8 468.9L366.5 468.9L368.2 468.9L370 468.8L371.7 468.8L373.5 468.8L375.2 468.8L376.9 468.8L378.7 468.8L380.4 468.8L382.1 468.7L383.9 468.7L385.6 468.7L387.3 468.7L389.1 468.7L390.8 468.7L392.6 468.7L394.3 468.7L396 468.7L397.8 468.6L399.5 468.6L401.2 468.6L403 468.6L404.7 468.6L406.4 468.6L408.2 468.6L409.9 468.6L411.6 468.6L413.4 468.6L415.1 468.6L416.9 468.6L418.6 468.6L420.3 468.6L422.1 468.5L423.8 468.5L425.5 468.5L427.3 468.5L429 468.5L430.7 468.5L432.5 468.5L434.2 468.5L436 468.5L437.7 468.5L439.4 468.5L441.2 468.5L442.9 468.5L444.6 468.5L446.4 468.5L448.1 468.5L449.8 468.5L451.6 468.5L453.3 468.5L455.1 468.5L456.8 468.5L458.5 468.5L460.3 468.5L462 468.5L463.7 468.5L465.5 468.5L467.2 468.5L468.9 468.5L470.7 468.5L472.4 468.5L474.1 468.5L475.9 468.5L477.6 468.5L479.4 468.5L480.2 468.5" stroke="#000" stroke-width="3.2" stroke-linecap="butt"/>
<path d="M56.6 547.7L57.2 550L57.8 552.1L58.4 554.2L58.9 556.2L59.5 558.1L60.1 560L60.7 561.7L61.2 563.4L61.8 565L62.4 566.6L63 568L63.6 569.4L64.1 570.8L64.7 572.1L65.3 573.3L65.9 574.4L66.5 575.6L67 576.6L67.6 577.6L68.2 578.6L68.8 579.5L69.3 580.4L69.9 581.2L70.5 582L71.1 582.7L71.7 583.4L72.2 584.1L72.8 584.7L73.4 585.3L74 585.8L74.6 586.4L75.1 586.9L75.7 587.3L76.3 587.8L76.9 588.2L77.4 588.6L78 588.9L78.6 589.2L79.2 589.5L79.8 589.8L80.3 590.1L80.9 590.3L81.5 590.5L82.1 590.7L82.7 590.9L83.2 591.1L83.8 591.2L84.4 591.4L85 591.5L85.6 591.6L86.1 591.6L86.7 591.7L87.3 591.8L87.9 591.8L88.4 591.8L89 591.8L89.6 591.8L90.2 591.8L90.8 591.8L91.3 591.8L91.9 591.8L92.5 591.7L93.1 591.6L93.7 591.6L94.2 591.5L94.8 591.4L95.4 591.3L96 591.2L96.5 591.1L97.1 591L97.7 590.9L98.3 590.8L98.9 590.7L99.4 590.5L100 590.4L100.6 590.3L101.2 590.1L101.8 590L102.3 589.8L102.9 589.7L103.5 589.5L104.1 589.3L104.6 589.2L105.2 589L105.8 588.8L106.4 588.6L107 588.5L107.5 588.3L108.1 588.1L108.7 587.9L109.3 587.7L109.9 587.5L110.4 587.4L111 587.2L111.6 587L112.2 586.8L112.8 586.6L113.3 586.4L113.9 586.2L114.5 586L116.2 585.4L118 584.8L119.7 584.2L121.4 583.6L123.2 583L124.9 582.4L126.6 581.8L128.4 581.2L130.1 580.6L131.8 580L133.6 579.4L135.3 578.9L137.1 578.3L138.8 577.8L140.5 577.2L142.3 576.7L144 576.2L145.7 575.7L147.5 575.2L149.2 574.7L150.9 574.2L152.7 573.8L154.4 573.3L156.2 572.9L157.9 572.5L159.6 572L161.4 571.6L163.1 571.2L164.8 570.8L166.6 570.5L168.3 570.1L170 569.7L171.8 569.4L173.5 569L175.3 568.7L177 568.4L178.7 568.1L180.5 567.8L182.2 567.5L183.9 567.2L185.7 566.9L187.4 566.6L189.1 566.4L190.9 566.1L192.6 565.9L194.3 565.6L196.1 565.4L197.8 565.1L199.6 564.9L201.3 564.7L203 564.5L204.8 564.3L206.5 564.1L208.2 563.9L210 563.7L211.7 563.5L213.4 563.3L215.2 563.2L216.9 563L218.7 562.8L220.4 562.7L222.1 562.5L223.9 562.4L225.6 562.2L227.3 562.1L229.1 561.9L230.8 561.8L232.5 561.7L234.3 561.6L236 561.4L237.7 561.3L239.5 561.2L241.2 561.1L243 561L244.7 560.9L246.4 560.8L248.2 560.7L249.9 560.6L251.6 560.5L253.4 560.4L255.1 560.3L256.8 560.2L258.6 560.2L260.3 560.1L262.1 560L263.8 559.9L265.5 559.9L267.3 559.8L269 559.7L270.7 559.6L272.5 559.6L274.2 559.5L275.9 559.5L277.7 559.4L279.4 559.3L281.2 559.3L282.9 559.2L284.6 559.2L286.4 559.1L288.1 559.1L289.8 559L291.6 559L293.3 559L295 558.9L296.8 558.9L298.5 558.8L300.2 558.8L302 558.8L303.7 558.7L305.5 558.7L307.2 558.6L308.9 558.6L310.7 558.6L312.4 558.6L314.1 558.5L315.9 558.5L317.6 558.5L319.3 558.4L321.1 558.4L322.8 558.4L324.6 558.4L326.3 558.3L328 558.3L329.8 558.3L331.5 558.3L333.2 558.2L335 558.2L336.7 558.2L338.4 558.2L340.2 558.2L341.9 558.2L343.7 558.1L345.4 558.1L347.1 558.1L348.9 558.1L350.6 558.1L352.3 558.1L354.1 558L355.8 558L357.5 558L359.3 558L361 558L362.7 558L364.5 558L366.2 558L368 558L369.7 557.9L371.4 557.9L373.2 557.9L374.9 557.9L376.6 557.9L378.4 557.9L380.1 557.9L381.8 557.9L383.6 557.9L385.3 557.9L387.1 557.9L388.8 557.9L390.5 557.8L392.3 557.8L394 557.8L395.7 557.8L397.5 557.8L399.2 557.8L400.9 557.8L402.7 557.8L404.4 557.8L406.2 557.8L407.9 557.8L409.6 557.8L411.4 557.8L413.1 557.8L414.8 557.8L416.6 557.8L418.3 557.8L420 557.8L421.8 557.8L423.5 557.8L425.2 557.8L427 557.8L428.7 557.8L430.5 557.8L432.2 557.7L433.9 557.7L435.7 557.7L437.4 557.7L439.1 557.7L440.9 557.7L442.6 557.7L444.3 557.7L446.1 557.7L447.8 557.7L449.6 557.7L451.3 557.7L453 557.7L454.8 557.7L456.5 557.7L458.2 557.7L460 557.7L461.7 557.7L463.4 557.7L465.2 557.7L466.9 557.7L468.7 557.7L470.4 557.7L472.1 557.7L473.9 557.7L475.6 557.7L477.3 557.7L479.1 557.7L480.2 557.7" stroke="#000" stroke-width="3.2" stroke-linecap="butt"/>
<path d="M56.9 638.1L57.5 640.5L58.1 642.7L58.6 644.9L59.2 647L59.8 648.9L60.4 650.8L61 652.6L61.5 654.4L62.1 656L62.7 657.6L63.3 659.1L63.9 660.6L64.4 661.9L65 663.3L65.6 664.5L66.2 665.7L66.7 666.8L67.3 667.9L67.9 668.9L68.5 669.9L69.1 670.8L69.6 671.7L70.2 672.6L70.8 673.4L71.4 674.1L72 674.8L72.5 675.5L73.1 676.1L73.7 676.7L74.3 677.3L74.8 677.8L75.4 678.4L76 678.8L76.6 679.3L77.2 679.7L77.7 680.1L78.3 680.4L78.9 680.8L79.5 681.1L80.1 681.4L80.6 681.6L81.2 681.9L81.8 682.1L82.4 682.3L82.9 682.5L83.5 682.7L84.1 682.8L84.7 683L85.3 683.1L85.8 683.2L86.4 683.3L87 683.4L87.6 683.4L88.2 683.5L88.7 683.5L89.3 683.5L89.9 683.5L90.5 683.5L91 683.5L91.6 683.5L92.2 683.5L92.8 683.5L93.4 683.4L93.9 683.4L94.5 683.3L95.1 683.2L95.7 683.1L96.3 683.1L96.8 683L97.4 682.9L98 682.8L98.6 682.7L99.2 682.5L99.7 682.4L100.3 682.3L100.9 682.2L101.5 682L102 681.9L102.6 681.7L103.2 681.6L103.8 681.4L104.4 681.3L104.9 681.1L105.5 681L106.1 680.8L106.7 680.6L107.3 680.5L107.8 680.3L108.4 680.1L109 680L109.6 679.8L110.1 679.6L110.7 679.4L111.3 679.2L111.9 679L112.5 678.9L113 678.7L113.6 678.5L114.2 678.3L114.8 678.1L116.5 677.5L118.2 676.9L120 676.3L121.7 675.8L123.5 675.2L125.2 674.6L126.9 674L128.7 673.4L130.4 672.8L132.1 672.2L133.9 671.7L135.6 671.1L137.3 670.5L139.1 670L140.8 669.4L142.6 668.9L144.3 668.4L146 667.8L147.8 667.3L149.5 666.8L151.2 666.3L153 665.8L154.7 665.3L156.4 664.9L158.2 664.4L159.9 663.9L161.7 663.5L163.4 663.1L165.1 662.6L166.9 662.2L168.6 661.8L170.3 661.4L172.1 661L173.8 660.6L175.5 660.2L177.3 659.8L179 659.5L180.7 659.1L182.5 658.8L184.2 658.4L186 658.1L187.7 657.7L189.4 657.4L191.2 657.1L192.9 656.8L194.6 656.5L196.4 656.2L198.1 655.9L199.8 655.6L201.6 655.3L203.3 655.1L205.1 654.8L206.8 654.5L208.5 654.3L210.3 654L212 653.8L213.7 653.6L215.5 653.3L217.2 653.1L218.9 652.9L220.7 652.7L222.4 652.4L224.2 652.2L225.9 652L227.6 651.8L229.4 651.6L231.1 651.4L232.8 651.3L234.6 651.1L236.3 650.9L238 650.7L239.8 650.6L241.5 650.4L243.2 650.2L245 650.1L246.7 649.9L248.5 649.8L250.2 649.6L251.9 649.5L253.7 649.3L255.4 649.2L257.1 649.1L258.9 648.9L260.6 648.8L262.3 648.7L264.1 648.5L265.8 648.4L267.6 648.3L269.3 648.2L271 648.1L272.8 648L274.5 647.9L276.2 647.8L278 647.7L279.7 647.6L281.4 647.5L283.2 647.4L284.9 647.3L286.6 647.2L288.4 647.1L290.1 647L291.9 646.9L293.6 646.8L295.3 646.8L297.1 646.7L298.8 646.6L300.5 646.5L302.3 646.5L304 646.4L305.7 646.3L307.5 646.3L309.2 646.2L311 646.1L312.7 646.1L314.4 646L316.2 646L317.9 645.9L319.6 645.8L321.4 645.8L323.1 645.7L324.8 645.7L326.6 645.6L328.3 645.6L330.1 645.5L331.8 645.5L333.5 645.4L335.3 645.4L337 645.4L338.7 645.3L340.5 645.3L342.2 645.2L343.9 645.2L345.7 645.2L347.4 645.1L349.1 645.1L350.9 645.1L352.6 645L354.4 645L356.1 645L357.8 644.9L359.6 644.9L361.3 644.9L363 644.8L364.8 644.8L366.5 644.8L368.2 644.8L370 644.7L371.7 644.7L373.5 644.7L375.2 644.7L376.9 644.7L378.7 644.6L380.4 644.6L382.1 644.6L383.9 644.6L385.6 644.5L387.3 644.5L389.1 644.5L390.8 644.5L392.6 644.5L394.3 644.5L396 644.4L397.8 644.4L399.5 644.4L401.2 644.4L403 644.4L404.7 644.4L406.4 644.4L408.2 644.4L409.9 644.3L411.6 644.3L413.4 644.3L415.1 644.3L416.9 644.3L418.6 644.3L420.3 644.3L422.1 644.3L423.8 644.3L425.5 644.3L427.3 644.2L429 644.2L430.7 644.2L432.5 644.2L434.2 644.2L436 644.2L437.7 644.2L439.4 644.2L441.2 644.2L442.9 644.2L444.6 644.2L446.4 644.2L448.1 644.2L449.8 644.2L451.6 644.2L453.3 644.2L455.1 644.2L456.8 644.2L458.5 644.1L460.3 644.1L462 644.1L463.7 644.1L465.5 644.1L467.2 644.1L468.9 644.1L470.7 644.1L472.4 644.1L474.1 644.1L475.9 644.1L477.6 644.1L479.4 644.1L480.2 644.1" stroke="#000" stroke-width="3.2" stroke-linecap="butt"/>
<path d="M57.5 729.9L58.1 731.9L58.6 733.8L59.2 735.7L59.8 737.5L60.4 739.2L61 740.9L61.5 742.5L62.1 744.1L62.7 745.6L63.3 747L63.9 748.4L64.4 749.7L65 751L65.6 752.3L66.2 753.4L66.7 754.6L67.3 755.7L67.9 756.7L68.5 757.7L69.1 758.7L69.6 759.6L70.2 760.5L70.8 761.4L71.4 762.2L72 763L72.5 763.7L73.1 764.4L73.7 765.1L74.3 765.8L74.8 766.4L75.4 767L76 767.6L76.6 768.1L77.2 768.6L77.7 769.1L78.3 769.6L78.9 770L79.5 770.4L80.1 770.8L80.6 771.2L81.2 771.6L81.8 771.9L82.4 772.2L82.9 772.5L83.5 772.8L84.1 773L84.7 773.3L85.3 773.5L85.8 773.7L86.4 773.9L87 774.1L87.6 774.2L88.2 774.4L88.7 774.5L89.3 774.7L89.9 774.8L90.5 774.9L91 775L91.6 775L92.2 775.1L92.8 775.2L93.4 775.2L93.9 775.2L94.5 775.3L95.1 775.3L95.7 775.3L96.3 775.3L96.8 775.3L97.4 775.3L98 775.2L98.6 775.2L99.2 775.2L99.7 775.1L100.3 775.1L100.9 775L101.5 774.9L102 774.9L102.6 774.8L103.2 774.7L103.8 774.6L104.4 774.5L104.9 774.4L105.5 774.3L106.1 774.2L106.7 774.1L107.3 774L107.8 773.9L108.4 773.8L109 773.7L109.6 773.5L110.1 773.4L110.7 773.3L111.3 773.1L111.9 773L112.5 772.8L113 772.7L113.6 772.6L114.2 772.4L114.8 772.3L115.4 772.1L117.1 771.6L118.8 771.1L120.6 770.6L122.3 770.1L124 769.6L125.8 769.1L127.5 768.6L129.2 768L131 767.5L132.7 766.9L134.5 766.4L136.2 765.9L137.9 765.3L139.7 764.8L141.4 764.3L143.1 763.8L144.9 763.2L146.6 762.7L148.3 762.2L150.1 761.7L151.8 761.2L153.5 760.7L155.3 760.2L157 759.8L158.8 759.3L160.5 758.8L162.2 758.4L164 757.9L165.7 757.5L167.4 757.1L169.2 756.6L170.9 756.2L172.6 755.8L174.4 755.4L176.1 755L177.9 754.6L179.6 754.2L181.3 753.9L183.1 753.5L184.8 753.1L186.5 752.8L188.3 752.4L190 752.1L191.7 751.8L193.5 751.4L195.2 751.1L197 750.8L198.7 750.5L200.4 750.2L202.2 749.9L203.9 749.6L205.6 749.3L207.4 749.1L209.1 748.8L210.8 748.5L212.6 748.3L214.3 748L216 747.8L217.8 747.5L219.5 747.3L221.3 747L223 746.8L224.7 746.6L226.5 746.4L228.2 746.1L229.9 745.9L231.7 745.7L233.4 745.5L235.1 745.3L236.9 745.1L238.6 744.9L240.4 744.8L242.1 744.6L243.8 744.4L245.6 744.2L247.3 744L249 743.9L250.8 743.7L252.5 743.6L254.2 743.4L256 743.2L257.7 743.1L259.5 742.9L261.2 742.8L262.9 742.7L264.7 742.5L266.4 742.4L268.1 742.3L269.9 742.1L271.6 742L273.3 741.9L275.1 741.8L276.8 741.6L278.5 741.5L280.3 741.4L282 741.3L283.8 741.2L285.5 741.1L287.2 741L289 740.9L290.7 740.8L292.4 740.7L294.2 740.6L295.9 740.5L297.6 740.4L299.4 740.3L301.1 740.2L302.9 740.1L304.6 740L306.3 739.9L308.1 739.9L309.8 739.8L311.5 739.7L313.3 739.6L315 739.5L316.7 739.5L318.5 739.4L320.2 739.3L322 739.3L323.7 739.2L325.4 739.1L327.2 739.1L328.9 739L330.6 738.9L332.4 738.9L334.1 738.8L335.8 738.8L337.6 738.7L339.3 738.6L341 738.6L342.8 738.5L344.5 738.5L346.3 738.4L348 738.4L349.7 738.3L351.5 738.3L353.2 738.2L354.9 738.2L356.7 738.1L358.4 738.1L360.1 738L361.9 738L363.6 738L365.4 737.9L367.1 737.9L368.8 737.8L370.6 737.8L372.3 737.8L374 737.7L375.8 737.7L377.5 737.6L379.2 737.6L381 737.6L382.7 737.5L384.5 737.5L386.2 737.5L387.9 737.4L389.7 737.4L391.4 737.4L393.1 737.3L394.9 737.3L396.6 737.3L398.3 737.3L400.1 737.2L401.8 737.2L403.5 737.2L405.3 737.1L407 737.1L408.8 737.1L410.5 737.1L412.2 737L414 737L415.7 737L417.4 737L419.2 737L420.9 736.9L422.6 736.9L424.4 736.9L426.1 736.9L427.9 736.8L429.6 736.8L431.3 736.8L433.1 736.8L434.8 736.8L436.5 736.7L438.3 736.7L440 736.7L441.7 736.7L443.5 736.7L445.2 736.7L446.9 736.6L448.7 736.6L450.4 736.6L452.2 736.6L453.9 736.6L455.6 736.6L457.4 736.6L459.1 736.5L460.8 736.5L462.6 736.5L464.3 736.5L466 736.5L467.8 736.5L469.5 736.5L471.3 736.4L473 736.4L474.7 736.4L476.5 736.4L478.2 736.4L479.9 736.4L480.2 736.4" stroke="#000" stroke-width="3.2" stroke-linecap="butt"/>
</g>
<rect x="40.5" y="74.5" width="439.7" height="765.1" fill="none" stroke="#000" stroke-width="2.1"/>
<path d="M46.2 839.6v7.6M133.0 839.6v7.6M219.8 839.6v7.6M306.6 839.6v7.6M393.4 839.6v7.6M480.2 839.6v7.6" stroke="#000" stroke-width="2.1" fill="none"/>
<text transform="translate(46.2 879.4) scale(0.994 1.11)" font-size="34" text-anchor="middle">0</text>
<text transform="translate(133.0 879.4) scale(0.994 1.11)" font-size="34" text-anchor="middle">15</text>
<text transform="translate(219.8 879.4) scale(0.994 1.11)" font-size="34" text-anchor="middle">30</text>
<text transform="translate(306.6 879.4) scale(0.994 1.11)" font-size="34" text-anchor="middle">45</text>
<text transform="translate(393.4 879.4) scale(0.994 1.11)" font-size="34" text-anchor="middle">60</text>
<text transform="translate(480.2 879.4) scale(0.994 1.11)" font-size="34" text-anchor="middle">75</text>
<path d="M531.8 180.9H970.9M531.8 272.6H970.9M531.8 364.3H970.9M531.8 456.0H970.9M531.8 547.7H970.9M531.8 639.4H970.9M531.8 731.1H970.9" stroke="#000" stroke-width="3.1" stroke-dasharray="11.3 5.37" fill="none"/>
<g clip-path="url(#cb)" fill="none" stroke-linejoin="round" stroke-linecap="round">
<path d="M531.8 185.7L532.4 185.4L533 184.8L533.5 183.7L534.1 181.4L534.7 177L535.3 169.5L535.9 157.4L536.4 138.8L537 115.2L537.6 118.7L538.2 142.9L538.7 161.6L539.3 173.7L539.9 182.4L540.5 188.1L541.1 191.8L541.6 194.4L542.2 196.3L542.8 198L543.4 199.4L544 200.7L544.5 202L545.1 203.2L545.7 204.3L546.3 205.4L546.8 206.5L547.4 207.6L548 208.6L548.6 209.5L549.2 210.3L549.7 211L550.3 211.7L550.9 212.4L551.5 213.1L552.1 213.9L552.6 214.8L553.2 215.4L553.8 215.8L554.4 216.2L555 217L555.5 218.2L556.1 219L556.7 219.2L557.3 219.5L557.8 220.1L558.4 221.1L559 222.1L559.6 222.6L560.2 222.6L560.7 222.4L561.3 222.5L561.9 222.9L562.5 223.3L563.1 223.6L563.6 223.6L564.2 223.4L564.8 223.3L565.4 223.5L565.9 223.9L566.5 224.3L567.1 224.8L567.7 225.3L568.3 225.6L568.8 225.7L569.4 225.6L570 225.5L570.6 225.4L571.2 225.5L571.7 225.7L572.3 226L572.9 226.1L573.5 226.1L574.1 226L574.6 226L575.2 226L575.8 225.9L576.4 226L576.9 226.2L577.5 226.2L578.1 226L578.7 225.9L579.3 226.2L579.8 226.6L580.4 226.5L581 226.1L581.6 226L582.2 226.2L582.7 226.4L583.3 226.4L583.9 226.4L584.5 226.3L585 226.2L585.6 226.4L586.2 226.8L586.8 226.9L587.4 226.8L587.9 226.7L588.5 226.5L589.1 226.3L589.7 226.2L590.3 226L590.8 225.9L591.4 225.7L592 225.5L592.6 225.5L593.2 225.6L593.7 225.4L594.3 224.4L594.9 223.1L595.5 222L596 221.3L596.6 221L597.2 221.5L597.8 222.9L598.4 225.1L598.9 227.5L599.5 229.4L600.1 230.7L600.7 231.3L601.3 231.2L601.8 229.4L602.4 225.9L603 221.2L603.6 216.2L604.1 211.9L604.7 209.4L605.3 209.2L605.9 210.4L606.5 212.6L607 215.6L607.6 219L608.2 222.8L608.8 226.8L609.4 230.9L609.9 234.8L610.5 238.1L611.1 240.3L611.7 241.1L612.3 240.3L612.8 238.2L613.4 235L614 230.7L614.6 225.6L615.1 220.6L615.7 216.2L616.3 212.5L616.9 209.5L617.5 207.9L618 208.3L618.6 211L619.2 215.5L619.8 220.8L620.4 226.2L620.9 230.6L621.5 233.1L622.1 233.4L622.7 232.7L623.3 231.3L623.8 229.1L624.4 226.3L625 223.3L625.6 220.3L626.1 217.8L626.7 216.2L627.3 215.8L627.9 215.9L628.5 216.7L629 218.3L629.6 220.6L630.2 223.3L630.8 225.8L631.4 227.7L631.9 228.6L632.5 228.3L633.1 227.5L633.7 226.5L634.2 225.3L634.8 223.5L635.4 221.4L636 219.5L636.6 218.1L637.1 217.3L637.7 217L638.3 217.3L638.9 218.4L639.5 219.6L640 220.6L640.6 221.4L641.2 222L641.8 222.3L642.4 222.1L642.9 222.1L643.5 222.2L644.1 221.8L644.7 220.7L645.2 219.3L645.8 218.1L646.4 217L647 215.9L647.6 215.3L648.1 215.3L648.7 215.4L649.3 215.2L649.9 215.2L650.5 215.8L651 216.6L651.6 217.4L652.2 218.1L652.8 219.4L653.3 220.7L653.9 221.3L654.5 221.2L655.1 220.8L655.7 220.6L656.2 219.9L656.8 218.2L657.4 216.1L658 214.7L658.6 214.2L659.1 214.3L659.7 214.7L660.3 215.2L660.9 215.8L661.5 216.2L662 216.8L662.6 217.6L663.2 218.7L663.8 219.7L664.3 220.2L664.9 220.4L665.5 220.3L666.1 219.4L666.7 217.7L667.2 215.6L667.8 213.3L668.4 211.3L669 210.3L669.6 210.2L670.1 210.9L670.7 211.9L671.3 213.3L671.9 214.6L672.4 215.6L673 216.5L673.6 217.5L674.2 218.5L674.8 218.8L675.3 218.1L675.9 216.3L676.5 214.1L677.1 212.4L677.7 211.7L678.2 211.4L678.8 211L679.4 210.7L680 210.9L680.6 211.7L681.1 213.3L681.7 215.1L682.3 216.8L682.9 218.1L683.4 218.7L684 218.8L684.6 218.6L685.2 218L685.8 217L686.3 215.9L686.9 214.9L687.5 214.1L688.1 213.2L688.7 212.2L689.2 211.2L689.8 210.5L690.4 210.3L691 211.1L691.5 212.6L692.1 213.9L692.7 214.9L693.3 215.8L693.9 216.2L694.4 215.9L695 215.1L695.6 214.3L696.2 213.7L696.8 213L697.3 212.5L697.9 212.2L698.5 212.1L699.1 212L699.7 211.9L700.2 212L700.8 212.3L701.4 212.7L702 213.1L702.5 213.4L703.1 213.6L703.7 213.8L704.3 213.8L704.9 213.6L705.4 213.4L706 213.5L706.6 213.4L707.2 213L707.8 212.4L708.3 211.7L708.9 211.4L709.5 211.6L710.1 211.9L710.6 212L711.2 212L711.8 212.1L712.4 212.5L713 212.6L713.5 212.6L714.1 212.5L714.7 212.3L715.3 211.9L715.9 211.7L716.4 211.7L717 211.6L717.6 211.4L718.2 211L718.8 210.8L719.3 210.6L719.9 210.6L720.5 211.1L721.1 211.7L721.6 211.9L722.2 211.8L722.8 211.5L723.4 211.5L724 211.8L724.5 211.7L725.1 211.4L725.7 211.2L726.3 211.3L726.9 211.3L727.4 210.8L728 210L728.6 209.4L729.2 209.3L729.7 209.5L730.3 209.9L730.9 210.6L731.5 211L732.1 211L732.6 210.8L733.2 210.6L733.8 210.5L734.4 210.6L735 211.2L735.5 211.6L736.1 211.3L736.7 210.2L737.3 208.9L737.9 208.4L738.4 208.6L739 208.8L739.6 208.9L740.2 208.8L740.7 208.9L741.3 209.4L741.9 210.1L742.5 210.9L743.1 211.3L743.6 211.4L744.2 211.3L744.8 211.3L745.4 211.3L746 211.1L746.5 210.7L747.1 209.9L747.7 208.8L748.3 207.8L748.8 207.1L749.4 206.8L750 206.6L750.6 206.5L751.2 206.6L751.7 206.8L752.3 207L752.9 207.4L753.5 208.2L754.1 209L754.6 209.5L755.2 209.7L755.8 210.1L756.4 210.8L757 211.1L757.5 210.8L758.1 210.1L758.7 209.2L759.3 208.3L759.8 207.8L760.4 207.3L761 206.8L761.6 206.3L762.2 206.2L762.7 206.3L763.3 206.6L763.9 207.1L764.5 207.8L765.1 208.8L765.6 210L766.2 211.1L766.8 211.7L767.4 212L768 211.8L768.5 211L769.1 209.6L769.7 208.3L770.3 207.3L770.8 206.5L771.4 205.4L772 204.2L772.6 203.4L773.2 203.3L773.7 203.9L774.3 205L774.9 206.2L775.5 207.2L776.1 207.9L776.6 208.3L777.2 208.5L777.8 208.7L778.4 209.1L778.9 209.4L779.5 209.5L780.1 209L780.7 208L781.3 206.9L781.8 206L782.4 205.4L783 205.1L783.6 205.3L784.2 206.1L784.7 207.2L785.3 208.1L785.9 209.1L786.5 210.2L787.1 211.2L787.6 211.8L788.2 212L788.8 211.6L789.4 210.7L789.9 209.6L790.5 208.8L791.1 208L791.7 207.2L792.3 206.3L792.8 205.5L793.4 205L794 205L794.6 205.3L795.2 205.6L795.7 205.7L796.3 206.2L796.9 206.9L797.5 207.5L798 208.1L798.6 208.7L799.2 209.1L799.8 209L800.4 208.5L800.9 207.7L801.5 206.8L802.1 206.2L802.7 205.9L803.3 205.7L803.8 205.6L804.4 205.5L805 205.2L805.6 205.2L806.2 205.8L806.7 206.5L807.3 206.9L807.9 207L808.5 207L809 207.1L809.6 207L810.2 206.6L810.8 205.8L811.4 205.6L811.9 205.9L812.5 206.1L813.1 205.7L813.7 205.1L814.3 204.8L814.8 204.9L815.4 205.3L816 205.6L816.6 205.8L817.1 206L817.7 206.5L818.3 207.2L818.9 208L819.5 208.5L820 208.6L820.6 208.4L821.2 208.2L821.8 207.9L822.4 207.6L822.9 207.2L823.5 206.9L824.1 206.8L824.7 206.4L825.3 205.6L825.8 204.9L826.4 205L827 205.6L827.6 206.1L828.1 206.4L828.7 206.6L829.3 206.9L829.9 207.3L830.5 207.4L831 207.1L831.6 206.6L832.2 206.2L832.8 205.6L833.4 204.9L833.9 204.3L834.5 204.3L835.1 204.4L835.7 204.4L836.2 204.4L836.8 204.6L837.4 205L838 205.4L838.6 205.5L839.1 205.6L839.7 205.9L840.3 206.3L840.9 206.4L841.5 206L842 205.5L842.6 204.8L843.2 203.8L843.8 203.1L844.4 203.4L844.9 204.3L845.5 205L846.1 205.1L846.7 204.7L847.2 203.9L847.8 203.5L848.4 204L849 204.9L849.6 205.5L850.1 205.6L850.7 205.5L851.3 205.7L851.9 205.8L852.5 205.5L853 204.8L853.6 204.3L854.2 204.1L854.8 204.2L855.3 204.2L855.9 204.5L856.5 204.9L857.1 205.2L857.7 205.3L858.2 205.4L858.8 205.3L859.4 205.3L860 205.3L860.6 205.4L861.1 205.3L861.7 205.2L862.3 204.9L862.9 204.5L863.5 204.4L864 204.6L864.6 204.7L865.2 204.3L865.8 203.9L866.3 203.8L866.9 204.2L867.5 204.8L868.1 205.3L868.7 205.5L869.2 205.4L869.8 205.3L870.4 205.4L871 205.4L871.6 205L872.1 204.6L872.7 204.5L873.3 204.4L873.9 204.1L874.4 203.8L875 203.7L875.6 203.4L876.2 203.2L876.8 203.2L877.3 203.4L877.9 203.7L878.5 204L879.1 204.1L879.7 204.1L880.2 204.2L880.8 204.4L881.4 204.5L882 204.5L882.6 204.5L883.1 204.6L883.7 204.7L884.3 204.5L884.9 204.1L885.4 203.4L886 203L886.6 203.2L887.2 203.7L887.8 204L888.3 204.3L888.9 204.6L889.5 204.7L890.1 204.7L890.7 204.7L891.2 204.5L891.8 204.3L892.4 204.3L893 204.2L893.5 203.5L894.1 202.6L894.7 202L895.3 201.9L895.9 201.7L896.4 201.6L897 201.9L897.6 202.4L898.2 203L898.8 203.5L899.3 204.1L899.9 204.9L900.5 205.5L901.1 205.6L901.7 205.1L902.2 204.7L902.8 204.5L903.4 204.3L904 203.8L904.5 203.1L905.1 202.5L905.7 202.1L906.3 202.1L906.9 202.4L907.4 203L908 203.7L908.6 204.5L909.2 205.3L909.8 205.7L910.3 205.6L910.9 205.1L911.5 205L912.1 205.1L912.7 205.1L913.2 204.6L913.8 203.8L914.4 203.1L915 202.5L915.5 202.4L916.1 202.3L916.7 202L917.3 201.5L917.9 201.1L918.4 201.1L919 201.5L919.6 202.1L920.2 202.8L920.8 203.3L921.3 203.6L921.9 204L922.5 204.2L923.1 204.1L923.6 203.9L924.2 203.9L924.8 203.6L925.4 202.6L926 202L926.5 202L927.1 202.3L927.7 202.2L928.3 202.2L928.9 202.5L929.4 202.8L930 202.9L930.6 203.1L931.2 204L931.8 205.1L932.3 205.6L932.9 205.1L933.5 204.1L934.1 202.9L934.6 201.8L935.2 200.9L935.8 200.2L936.4 199.8L937 199.8L937.5 200.4L938.1 201.1L938.7 201.6L939.3 202L939.9 202.4L940.4 203.1L941 203.8L941.6 204L942.2 203.5L942.7 203.4L943.3 204L943.9 204.5L944.5 204.3L945.1 203.6L945.6 202.9L946.2 202.3L946.8 201.6L947.4 200.9L948 200.6L948.5 200.3L949.1 200.2L949.7 200.6L950.3 201.5L950.9 202.6L951.4 203.5L952 204.3L952.6 205.2L953.2 205.9L953.7 206.2L954.3 206.3L954.9 206L955.5 205.2L956.1 204.3L956.6 203.6L957.2 202.8L957.8 201.8L958.4 200.8L959 200.3L959.5 200.4L960.1 200.8L960.7 201.2L961.3 201.6L961.8 202L962.4 202.6L963 203.1L963.6 203.5L964.2 203.6L964.7 203.3L965.3 202.8L965.9 202.4L966.5 202.2L967.1 201.9L967.6 201.1L968.2 200.3L968.8 199.8L969.4 199.7L970 199.8L970.5 200L971.1 200.3" stroke="#7E2F73" stroke-width="4.1"/>
<path d="M531.8 277.4L532.4 277.1L533 276.4L533.5 275.1L534.1 272.6L534.7 267.8L535.3 259L535.9 244.1L536.4 221.9L537 194.2L537.6 197.2L538.2 224L538.7 244.7L539.3 258.2L539.9 267.7L540.5 273.8L541.1 277.8L541.6 280.5L542.2 282.6L542.8 284.3L543.4 285.8L544 287.2L544.5 288.5L545.1 289.8L545.7 291L546.3 292.2L546.8 293.3L547.4 294.4L548 295.4L548.6 296.4L549.2 297.5L549.7 298.4L550.3 299.3L550.9 300.1L551.5 300.6L552.1 301.1L552.6 301.9L553.2 303.3L553.8 304.4L554.4 304.6L555 304.7L555.5 305.3L556.1 305.9L556.7 306.5L557.3 307.3L557.8 308.4L558.4 309.3L559 309.9L559.6 310.5L560.2 310.7L560.7 310.7L561.3 310.8L561.9 311.6L562.5 312.5L563.1 312.9L563.6 312.9L564.2 312.9L564.8 313.4L565.4 314.3L565.9 315.1L566.5 315L567.1 314.5L567.7 314.1L568.3 314.3L568.8 315L569.4 315.5L570 315.6L570.6 315.6L571.2 315.8L571.7 316.2L572.3 316.4L572.9 316.6L573.5 316.8L574.1 317L574.6 317.1L575.2 317.1L575.8 317.1L576.4 317.1L576.9 316.9L577.5 316.9L578.1 317.2L578.7 317.7L579.3 318L579.8 317.9L580.4 317.9L581 317.9L581.6 317.7L582.2 317.6L582.7 317.7L583.3 317.8L583.9 317.9L584.5 318L585 318.3L585.6 318.6L586.2 318.8L586.8 319L587.4 319.2L587.9 319.3L588.5 319.1L589.1 318.6L589.7 318.1L590.3 317.9L590.8 318.1L591.4 318.4L592 318.4L592.6 318.1L593.2 317.7L593.7 317.5L594.3 317.4L594.9 316.9L595.5 316.1L596 315.2L596.6 314.8L597.2 315.2L597.8 316.4L598.4 318L598.9 320L599.5 321.9L600.1 323.2L600.7 324.1L601.3 323.9L601.8 321.9L602.4 318.4L603 314.1L603.6 310.2L604.1 307.3L604.7 305.7L605.3 305.6L605.9 306.5L606.5 308.2L607 310.4L607.6 313L608.2 316.1L608.8 319.6L609.4 322.8L609.9 325.7L610.5 328.2L611.1 329.8L611.7 330.2L612.3 329.4L612.8 327.8L613.4 325.4L614 322.3L614.6 318.3L615.1 314.1L615.7 310.3L616.3 307.5L616.9 305.6L617.5 304.3L618 304.3L618.6 306.2L619.2 309.9L619.8 314.7L620.4 319.1L620.9 322.1L621.5 323.7L622.1 324.3L622.7 324.5L623.3 323.9L623.8 322.6L624.4 320.8L625 318.6L625.6 316L626.1 313.5L626.7 311.7L627.3 310.9L627.9 310.8L628.5 311.5L629 312.8L629.6 314.5L630.2 316.4L630.8 318.2L631.4 319.8L631.9 320.7L632.5 320.7L633.1 319.9L633.7 318.6L634.2 317.1L634.8 315.7L635.4 314.6L636 313.6L636.6 312.7L637.1 312.2L637.7 312.2L638.3 312.6L638.9 313.1L639.5 313.7L640 314.4L640.6 315.2L641.2 315.8L641.8 316L642.4 316L642.9 315.6L643.5 315L644.1 314.2L644.7 313.4L645.2 312.6L645.8 312.1L646.4 311.9L647 311.6L647.6 311.3L648.1 310.9L648.7 310.8L649.3 310.7L649.9 310.6L650.5 310.8L651 311.5L651.6 312.7L652.2 313.9L652.8 314.5L653.3 314.4L653.9 313.8L654.5 313.6L655.1 313.9L655.7 314L656.2 313.4L656.8 312.3L657.4 311L658 310.1L658.6 309.4L659.1 309L659.7 308.8L660.3 308.9L660.9 309.3L661.5 309.8L662 310.5L662.6 311.2L663.2 311.8L663.8 312.4L664.3 313.1L664.9 314L665.5 314.2L666.1 313.5L666.7 311.9L667.2 309.9L667.8 308.1L668.4 306.7L669 306L669.6 305.8L670.1 305.9L670.7 306.4L671.3 307.6L671.9 309.2L672.4 310.9L673 312L673.6 312.5L674.2 312.4L674.8 312.1L675.3 311.5L675.9 310.7L676.5 309.6L677.1 308.3L677.7 307.2L678.2 306.4L678.8 305.8L679.4 305.6L680 306.3L680.6 307.3L681.1 308.3L681.7 309.7L682.3 311.6L682.9 313.2L683.4 313.7L684 313.2L684.6 312.7L685.2 312.4L685.8 311.7L686.3 310.6L686.9 309.6L687.5 308.8L688.1 307.9L688.7 306.9L689.2 306.3L689.8 306.3L690.4 306.5L691 307.3L691.5 308.3L692.1 309.3L692.7 310L693.3 310.6L693.9 311.2L694.4 311.6L695 311.2L695.6 310.3L696.2 309.6L696.8 309.1L697.3 308.7L697.9 307.9L698.5 307.2L699.1 306.9L699.7 306.8L700.2 306.9L700.8 307.1L701.4 307.3L702 307.4L702.5 307.5L703.1 308.1L703.7 308.8L704.3 309.2L704.9 309.3L705.4 309.3L706 309.1L706.6 308.4L707.2 307.5L707.8 306.7L708.3 306L708.9 305.4L709.5 305.1L710.1 305.5L710.6 306.2L711.2 306.8L711.8 307L712.4 307.2L713 307.6L713.5 307.8L714.1 307.7L714.7 307.3L715.3 307.1L715.9 307.1L716.4 307.1L717 306.7L717.6 306.4L718.2 306.4L718.8 306.5L719.3 306.4L719.9 305.8L720.5 305.3L721.1 305.4L721.6 306.1L722.2 306.5L722.8 306.4L723.4 306.2L724 306.5L724.5 307L725.1 307.2L725.7 307L726.3 306.5L726.9 305.9L727.4 305.7L728 305.9L728.6 306.2L729.2 306.3L729.7 306.1L730.3 305.7L730.9 305.2L731.5 304.8L732.1 304.9L732.6 305.3L733.2 305.7L733.8 306L734.4 306.3L735 306.4L735.5 306.1L736.1 305.6L736.7 305.4L737.3 305.6L737.9 305.6L738.4 305.2L739 304.7L739.6 304.5L740.2 304.3L740.7 304.2L741.3 304.3L741.9 304.7L742.5 305.2L743.1 305.7L743.6 306.2L744.2 306.6L744.8 307L745.4 307.5L746 307.8L746.5 307.6L747.1 306.5L747.7 305L748.3 304L748.8 303.9L749.4 304L750 303.5L750.6 302.7L751.2 302.1L751.7 301.8L752.3 301.8L752.9 302.4L753.5 303.5L754.1 304.7L754.6 305.7L755.2 306.2L755.8 306.5L756.4 306.8L757 307L757.5 307.1L758.1 306.9L758.7 306.2L759.3 305.2L759.8 304.3L760.4 303.7L761 303L761.6 302.3L762.2 302.2L762.7 302.7L763.3 303.3L763.9 304L764.5 304.8L765.1 305.7L765.6 306.5L766.2 306.7L766.8 306.5L767.4 306.4L768 306.4L768.5 306.3L769.1 305.6L769.7 304.6L770.3 303.9L770.8 303.4L771.4 303L772 302.5L772.6 302.2L773.2 302.2L773.7 302.4L774.3 302.7L774.9 303L775.5 303.5L776.1 303.8L776.6 303.9L777.2 304.2L777.8 304.5L778.4 304.7L778.9 304.6L779.5 304L780.1 303.2L780.7 302.7L781.3 302.3L781.8 301.8L782.4 301.1L783 300.4L783.6 300.1L784.2 300.3L784.7 300.7L785.3 301.2L785.9 302.3L786.5 303.5L787.1 304.4L787.6 304.5L788.2 304.6L788.8 304.7L789.4 304.7L789.9 304.5L790.5 304.2L791.1 303.5L791.7 302.7L792.3 302L792.8 301.4L793.4 300.8L794 300.8L794.6 301.7L795.2 303.1L795.7 304.2L796.3 304.9L796.9 305.1L797.5 305L798 304.7L798.6 304.5L799.2 304.4L799.8 303.8L800.4 302.5L800.9 301.3L801.5 300.6L802.1 300.4L802.7 300.2L803.3 300.2L803.8 300.5L804.4 300.8L805 301.2L805.6 301.9L806.2 302.7L806.7 303.4L807.3 303.8L807.9 304.2L808.5 304.7L809 304.9L809.6 304.7L810.2 303.9L810.8 302.8L811.4 301.6L811.9 300.9L812.5 300.7L813.1 300.9L813.7 301L814.3 300.9L814.8 301L815.4 301.6L816 302.5L816.6 302.9L817.1 302.9L817.7 302.9L818.3 303L818.9 302.8L819.5 302.3L820 301.7L820.6 301.2L821.2 301.1L821.8 301.2L822.4 301.1L822.9 300.6L823.5 300L824.1 299.8L824.7 300.5L825.3 301.4L825.8 302.1L826.4 302.6L827 302.9L827.6 303.3L828.1 303.5L828.7 303.2L829.3 302.4L829.9 301.2L830.5 300.1L831 299.5L831.6 299.4L832.2 299.7L832.8 300.3L833.4 300.6L833.9 300.7L834.5 300.7L835.1 301L835.7 301.4L836.2 301.8L836.8 302.2L837.4 302.4L838 302.4L838.6 302.2L839.1 302L839.7 301.9L840.3 301.8L840.9 301.4L841.5 300.9L842 300.4L842.6 299.9L843.2 299.6L843.8 299.7L844.4 299.8L844.9 300.2L845.5 300.7L846.1 301.3L846.7 301.7L847.2 301.9L847.8 301.9L848.4 301.7L849 301.6L849.6 301.8L850.1 302L850.7 301.7L851.3 301.1L851.9 300.5L852.5 299.9L853 299.4L853.6 299.4L854.2 299.8L854.8 300.1L855.3 300.1L855.9 300L856.5 300.1L857.1 300.1L857.7 300L858.2 300L858.8 300L859.4 300L860 300L860.6 299.9L861.1 299.9L861.7 299.8L862.3 299.5L862.9 299L863.5 298.6L864 298.6L864.6 298.9L865.2 299.1L865.8 299.1L866.3 299.3L866.9 299.6L867.5 300L868.1 300.2L868.7 300.3L869.2 300.3L869.8 300.1L870.4 300L871 299.9L871.6 300L872.1 300L872.7 299.7L873.3 299.3L873.9 298.8L874.4 298.3L875 297.9L875.6 297.5L876.2 297.2L876.8 297.3L877.3 297.7L877.9 298.1L878.5 298.4L879.1 298.7L879.7 299.1L880.2 299.4L880.8 299.7L881.4 300.3L882 300.8L882.6 300.9L883.1 300.4L883.7 299.8L884.3 299.4L884.9 299.1L885.4 298.8L886 298.7L886.6 298.4L887.2 298.3L887.8 298.1L888.3 297.8L888.9 297.7L889.5 298L890.1 298.6L890.7 298.7L891.2 298.4L891.8 298.1L892.4 298.2L893 298.7L893.5 299.3L894.1 299.7L894.7 299.6L895.3 299L895.9 298.7L896.4 298.5L897 298.2L897.6 297.9L898.2 297.4L898.8 297.2L899.3 297.3L899.9 297.7L900.5 298.2L901.1 298.5L901.7 298.9L902.2 299.5L902.8 300.1L903.4 300.4L904 300.5L904.5 300.4L905.1 300.2L905.7 299.9L906.3 299.3L906.9 298.4L907.4 297.4L908 297L908.6 297.1L909.2 297L909.8 296.8L910.3 296.9L910.9 297.2L911.5 297.4L912.1 297.5L912.7 297.8L913.2 298.1L913.8 298.4L914.4 298.5L915 298.5L915.5 298.4L916.1 298.2L916.7 297.8L917.3 297.6L917.9 297.7L918.4 297.7L919 297.4L919.6 297.3L920.2 297.4L920.8 297.4L921.3 297L921.9 296.5L922.5 296.6L923.1 297.3L923.6 298.1L924.2 298.5L924.8 298.6L925.4 298.8L926 298.8L926.5 298.4L927.1 297.9L927.7 297.5L928.3 297.4L928.9 297.1L929.4 296.8L930 296.5L930.6 296.1L931.2 295.8L931.8 296L932.3 296.7L932.9 297.3L933.5 297.4L934.1 297.2L934.6 297.1L935.2 297.5L935.8 298L936.4 297.9L937 297.3L937.5 296.9L938.1 296.7L938.7 296.6L939.3 296.5L939.9 296.2L940.4 295.9L941 295.9L941.6 296L942.2 296.4L942.7 296.8L943.3 297.2L943.9 297.3L944.5 297.3L945.1 297.4L945.6 297.4L946.2 297.2L946.8 297.1L947.4 297.3L948 297.6L948.5 297.8L949.1 297.6L949.7 297.1L950.3 296.6L950.9 296.5L951.4 296.4L952 295.9L952.6 295.6L953.2 296L953.7 296.5L954.3 296.6L954.9 296.6L955.5 296.9L956.1 297.6L956.6 298.4L957.2 298.9L957.8 299L958.4 298.9L959 298.7L959.5 298.3L960.1 297.9L960.7 297.6L961.3 297.4L961.8 297.2L962.4 296.9L963 296.5L963.6 296.1L964.2 295.8L964.7 295.8L965.3 296.3L965.9 297L966.5 297.2L967.1 296.9L967.6 296.6L968.2 296.7L968.8 297L969.4 297.1L970 297.4L970.5 297.8L971.1 298" stroke="#9B3572" stroke-width="4.1"/>
<path d="M531.8 369.1L532.4 368.9L533 368.3L533.5 367.3L534.1 365.2L534.7 361.2L535.3 353.6L535.9 340.3L536.4 320.5L537 296.5L537.6 298.4L538.2 320.5L538.7 337.6L539.3 348.8L539.9 356L540.5 361.4L541.1 364.9L541.6 367.5L542.2 369.5L542.8 371.1L543.4 372.7L544 374.1L544.5 375.5L545.1 376.8L545.7 378L546.3 379.2L546.8 380.4L547.4 381.6L548 382.8L548.6 383.9L549.2 385L549.7 385.9L550.3 386.9L550.9 387.8L551.5 388.7L552.1 389.5L552.6 390.2L553.2 391L553.8 391.9L554.4 392.8L555 393.3L555.5 393.7L556.1 394.4L556.7 395.4L557.3 396.6L557.8 397.8L558.4 398.8L559 399.2L559.6 399.4L560.2 399.8L560.7 400.2L561.3 400.1L561.9 400.1L562.5 400.7L563.1 401.7L563.6 402.3L564.2 402.6L564.8 403L565.4 403.5L565.9 403.8L566.5 404.1L567.1 404.5L567.7 405L568.3 405.4L568.8 405.5L569.4 405.5L570 405.4L570.6 405.5L571.2 405.9L571.7 406.4L572.3 406.5L572.9 406.2L573.5 406.3L574.1 407.2L574.6 408.3L575.2 409L575.8 409.1L576.4 408.7L576.9 408L577.5 407.3L578.1 407.1L578.7 407.5L579.3 407.7L579.8 407.5L580.4 407.2L581 407.8L581.6 409.1L582.2 410.5L582.7 410.9L583.3 410.1L583.9 408.8L584.5 408.4L585 408.9L585.6 409.3L586.2 409.1L586.8 409L587.4 409.2L587.9 409.6L588.5 410L589.1 410.3L589.7 410.5L590.3 410.7L590.8 410.8L591.4 410.6L592 410L592.6 409.8L593.2 410.1L593.7 410.2L594.3 409.6L594.9 408.7L595.5 408L596 407.5L596.6 407.4L597.2 408.1L597.8 409.5L598.4 411.4L598.9 413.2L599.5 414.6L600.1 415.2L600.7 415.1L601.3 414.8L601.8 413.8L602.4 411.7L603 408.3L603.6 404.6L604.1 401.7L604.7 400.1L605.3 399.7L605.9 400.2L606.5 401.5L607 403.5L607.6 406L608.2 408.8L608.8 412.1L609.4 415.2L609.9 417.6L610.5 419.3L611.1 420.6L611.7 421.4L612.3 421L612.8 419L613.4 415.9L614 412.5L614.6 409.6L615.1 407L615.7 403.9L616.3 401L616.9 399L617.5 398.1L618 398.3L618.6 400.1L619.2 403.3L619.8 407.4L620.4 411.3L620.9 414.4L621.5 415.9L622.1 416.1L622.7 415.8L623.3 415.2L623.8 414.3L624.4 412.5L625 410.2L625.6 407.9L626.1 405.8L626.7 404.4L627.3 403.9L627.9 404L628.5 404.3L629 405L629.6 406.7L630.2 408.7L630.8 410.1L631.4 410.9L631.9 411.7L632.5 412.5L633.1 412.7L633.7 412.2L634.2 411L634.8 409.7L635.4 408.3L636 406.9L636.6 405.7L637.1 404.9L637.7 404.6L638.3 404.9L638.9 405.5L639.5 406.3L640 407L640.6 407.6L641.2 408.2L641.8 408.5L642.4 408.6L642.9 408.5L643.5 408L644.1 406.9L644.7 405.3L645.2 404L645.8 403.7L646.4 404L647 404.3L647.6 404.1L648.1 403.5L648.7 403.3L649.3 403.3L649.9 403.1L650.5 402.8L651 403.1L651.6 403.9L652.2 404.9L652.8 405.9L653.3 406.6L653.9 407L654.5 407.1L655.1 406.6L655.7 405.8L656.2 405L656.8 404.4L657.4 403.8L658 403L658.6 402.3L659.1 401.7L659.7 401.3L660.3 401.4L660.9 401.9L661.5 402.6L662 403.5L662.6 404.6L663.2 405.7L663.8 406.1L664.3 405.8L664.9 405.7L665.5 406L666.1 405.7L666.7 404.4L667.2 402.9L667.8 401.5L668.4 400.5L669 399.7L669.6 399.2L670.1 399.2L670.7 399.7L671.3 400.8L671.9 401.9L672.4 402.8L673 403.4L673.6 403.6L674.2 403.5L674.8 403.7L675.3 403.9L675.9 403.5L676.5 402.3L677.1 400.9L677.7 399.7L678.2 399L678.8 398.6L679.4 398.6L680 398.9L680.6 399.5L681.1 400.8L681.7 402.4L682.3 403.8L682.9 404.3L683.4 404.3L684 404.5L684.6 404.5L685.2 404.2L685.8 403.4L686.3 402.5L686.9 401.7L687.5 400.7L688.1 399.9L688.7 399.1L689.2 398.6L689.8 398.4L690.4 398.6L691 399.3L691.5 400.1L692.1 401.1L692.7 402.4L693.3 403.4L693.9 403.8L694.4 403.7L695 403.4L695.6 402.7L696.2 401.7L696.8 400.6L697.3 399.9L697.9 399.8L698.5 400.1L699.1 400.3L699.7 400.2L700.2 399.9L700.8 399.6L701.4 399.5L702 399.7L702.5 400.1L703.1 400.5L703.7 400.6L704.3 400.5L704.9 400.5L705.4 400.2L706 399.6L706.6 399.4L707.2 399.4L707.8 399.6L708.3 399.4L708.9 399L709.5 399L710.1 399.2L710.6 399.1L711.2 398.5L711.8 398.3L712.4 398.7L713 399.2L713.5 399.6L714.1 399.9L714.7 400L715.3 399.8L715.9 399.8L716.4 399.8L717 399.9L717.6 399.9L718.2 399.8L718.8 399.3L719.3 398.6L719.9 398.2L720.5 398.1L721.1 398.1L721.6 398.1L722.2 398.2L722.8 398.5L723.4 399.1L724 399.6L724.5 400L725.1 400.1L725.7 400L726.3 399.6L726.9 399.3L727.4 398.9L728 398.3L728.6 398.1L729.2 398.2L729.7 398.3L730.3 397.9L730.9 397.2L731.5 397.3L732.1 398L732.6 398.8L733.2 398.8L733.8 398.1L734.4 397.6L735 397.9L735.5 398.4L736.1 398.7L736.7 398.7L737.3 398.6L737.9 398.5L738.4 397.9L739 397.2L739.6 396.5L740.2 395.9L740.7 395.8L741.3 395.8L741.9 395.9L742.5 395.9L743.1 396L743.6 396.3L744.2 396.7L744.8 397L745.4 397.4L746 398L746.5 398.5L747.1 398.6L747.7 398.3L748.3 398L748.8 397.7L749.4 397.1L750 396.4L750.6 395.8L751.2 395.2L751.7 394.4L752.3 393.7L752.9 393.1L753.5 392.6L754.1 392.3L754.6 393.1L755.2 394.6L755.8 395.9L756.4 396.5L757 396.7L757.5 397L758.1 397.4L758.7 397.7L759.3 397.5L759.8 397.1L760.4 396.6L761 396L761.6 395.4L762.2 395L762.7 394.6L763.3 394.3L763.9 394.1L764.5 394.4L765.1 395L765.6 395.8L766.2 396.6L766.8 397.2L767.4 397.1L768 396.4L768.5 396L769.1 396L769.7 396.1L770.3 395.8L770.8 395.6L771.4 395.8L772 396.1L772.6 395.8L773.2 394.9L773.7 393.9L774.3 393.2L774.9 393.3L775.5 393.8L776.1 394.3L776.6 394.7L777.2 395.1L777.8 395.7L778.4 396.8L778.9 398.1L779.5 398.8L780.1 398.4L780.7 397.2L781.3 396.1L781.8 395.3L782.4 394.6L783 393.8L783.6 393L784.2 392.7L784.7 392.9L785.3 393.3L785.9 393.7L786.5 394.4L787.1 395.5L787.6 396.4L788.2 396.9L788.8 397.4L789.4 398L789.9 397.9L790.5 396.8L791.1 395.3L791.7 394L792.3 393L792.8 392.4L793.4 392.1L794 391.5L794.6 390.7L795.2 390.3L795.7 390.6L796.3 391.3L796.9 392.4L797.5 393.6L798 394.2L798.6 394.5L799.2 395.4L799.8 396.5L800.4 396.9L800.9 396.4L801.5 395.8L802.1 395.1L802.7 394.3L803.3 393.7L803.8 393.3L804.4 392.7L805 391.9L805.6 391.7L806.2 392.2L806.7 392.8L807.3 393.1L807.9 393.6L808.5 394.6L809 395.4L809.6 395.5L810.2 395.1L810.8 394.7L811.4 394.1L811.9 393.1L812.5 392.2L813.1 391.8L813.7 391.8L814.3 391.7L814.8 391.7L815.4 391.8L816 391.9L816.6 392.4L817.1 393L817.7 393.7L818.3 394L818.9 394.4L819.5 394.8L820 394.9L820.6 394.5L821.2 393.4L821.8 392.2L822.4 391.6L822.9 391.6L823.5 391.9L824.1 391.9L824.7 391.5L825.3 391L825.8 390.7L826.4 390.9L827 391.5L827.6 392.4L828.1 393.2L828.7 393.3L829.3 393L829.9 393.1L830.5 393.5L831 393.3L831.6 392.2L832.2 391.2L832.8 390.9L833.4 391.3L833.9 391.9L834.5 392.1L835.1 391.9L835.7 391.1L836.2 390.5L836.8 390.3L837.4 390.5L838 391.1L838.6 391.6L839.1 392.2L839.7 392.5L840.3 392.4L840.9 392.1L841.5 392.1L842 392.4L842.6 392.4L843.2 391.9L843.8 391.3L844.4 391L844.9 391.1L845.5 391L846.1 390.9L846.7 390.9L847.2 391.2L847.8 391.4L848.4 391.6L849 392L849.6 392.7L850.1 393.1L850.7 392.9L851.3 392.4L851.9 392.3L852.5 392.5L853 392.3L853.6 391.5L854.2 390.8L854.8 390.6L855.3 390.6L855.9 390.5L856.5 390.4L857.1 390.4L857.7 390.4L858.2 390.5L858.8 390.7L859.4 391.1L860 391.2L860.6 391.1L861.1 390.9L861.7 390.7L862.3 390.6L862.9 390.4L863.5 390L864 389.9L864.6 390.4L865.2 391L865.8 391.2L866.3 390.9L866.9 390.9L867.5 391L868.1 390.8L868.7 390.1L869.2 389.6L869.8 389.9L870.4 390.2L871 390.2L871.6 390.3L872.1 390.6L872.7 391L873.3 391.2L873.9 391.5L874.4 391.8L875 391.8L875.6 391.5L876.2 391.3L876.8 391.1L877.3 390.5L877.9 389.6L878.5 389L879.1 389.1L879.7 389.7L880.2 390.3L880.8 390.6L881.4 390.7L882 390.5L882.6 390.4L883.1 390.3L883.7 390.1L884.3 389.6L884.9 389.3L885.4 389.6L886 390.1L886.6 390.1L887.2 389.4L887.8 388.8L888.3 388.7L888.9 388.7L889.5 388.7L890.1 388.7L890.7 388.8L891.2 389L891.8 389.1L892.4 389.2L893 389.4L893.5 389.4L894.1 389.5L894.7 389.6L895.3 389.7L895.9 389.9L896.4 389.9L897 389.8L897.6 389.8L898.2 389.9L898.8 389.7L899.3 389.2L899.9 388.4L900.5 387.8L901.1 387.7L901.7 388.2L902.2 388.7L902.8 389L903.4 389.4L904 389.7L904.5 389.8L905.1 389.7L905.7 389.5L906.3 388.9L906.9 388.1L907.4 387.4L908 387.2L908.6 387.4L909.2 387.9L909.8 388.4L910.3 388.8L910.9 389.1L911.5 389.1L912.1 388.8L912.7 388.4L913.2 388.6L913.8 389.1L914.4 389.6L915 389.8L915.5 389.6L916.1 389.5L916.7 389.5L917.3 389.4L917.9 389.3L918.4 389.3L919 389.2L919.6 388.6L920.2 387.8L920.8 387.4L921.3 387.5L921.9 387.6L922.5 387.8L923.1 388L923.6 388.2L924.2 388.4L924.8 388.6L925.4 388.6L926 388.3L926.5 388.4L927.1 389.1L927.7 389.8L928.3 389.9L928.9 389.3L929.4 388.5L930 387.7L930.6 387.3L931.2 387.1L931.8 387.1L932.3 387L932.9 386.7L933.5 386.4L934.1 386.4L934.6 386.8L935.2 387.9L935.8 388.9L936.4 389.2L937 389.1L937.5 388.9L938.1 388.8L938.7 388.5L939.3 387.8L939.9 387.1L940.4 386.9L941 386.9L941.6 387L942.2 387L942.7 387.2L943.3 387.7L943.9 388.2L944.5 388.3L945.1 388.1L945.6 387.9L946.2 388L946.8 387.9L947.4 387.7L948 387.4L948.5 387.5L949.1 387.8L949.7 387.8L950.3 387.4L950.9 386.7L951.4 385.9L952 385.8L952.6 386.1L953.2 386.7L953.7 387.1L954.3 387.4L954.9 387.7L955.5 388L956.1 388.2L956.6 388.5L957.2 388.8L957.8 389.2L958.4 389.1L959 388.5L959.5 387.7L960.1 387.5L960.7 387.7L961.3 387.3L961.8 386.1L962.4 384.9L963 384.5L963.6 384.9L964.2 385.4L964.7 385.8L965.3 385.9L965.9 385.8L966.5 386L967.1 386.6L967.6 387.3L968.2 387.7L968.8 387.4L969.4 386.6L970 386L970.5 385.8L971.1 385.7" stroke="#B43C6B" stroke-width="4.1"/>
<path d="M531.8 459.8L532.4 459.6L533 459.1L533.5 458.1L534.1 456.2L534.7 452.6L535.3 445.7L535.9 433.8L536.4 416.1L537 394.4L537.6 396.2L538.2 416.4L538.7 432L539.3 442.1L539.9 448.2L540.5 451.5L541.1 453.3L541.6 454.2L542.2 455.2L542.8 456.9L543.4 458.5L544 459.9L544.5 461.3L545.1 462.7L545.7 464L546.3 465.2L546.8 466.5L547.4 467.7L548 468.9L548.6 470L549.2 471.1L549.7 472.1L550.3 473.2L550.9 474.3L551.5 475.4L552.1 476.3L552.6 477.2L553.2 478.2L553.8 479.3L554.4 480.3L555 481L555.5 481.6L556.1 482.7L556.7 483.7L557.3 484.3L557.8 484.5L558.4 484.9L559 485.9L559.6 487.1L560.2 487.8L560.7 488.3L561.3 488.6L561.9 488.8L562.5 488.8L563.1 489L563.6 489.7L564.2 490.5L564.8 491.3L565.4 492L565.9 492.5L566.5 492.8L567.1 493.3L567.7 494L568.3 494.5L568.8 494.7L569.4 495L570 495.4L570.6 495.6L571.2 495.6L571.7 495.5L572.3 495.3L572.9 495.2L573.5 495.5L574.1 496.3L574.6 497.2L575.2 497.5L575.8 497.5L576.4 497.5L576.9 497.6L577.5 497.9L578.1 498.2L578.7 498.3L579.3 498.9L579.8 499.7L580.4 500.2L581 499.9L581.6 499.1L582.2 498.8L582.7 498.8L583.3 499.2L583.9 499.5L584.5 499.3L585 498.8L585.6 498.7L586.2 499.2L586.8 500.1L587.4 500.6L587.9 500.4L588.5 500.1L589.1 499.9L589.7 500L590.3 500.2L590.8 500.5L591.4 500.7L592 500.6L592.6 500.5L593.2 500.6L593.7 500.5L594.3 499.8L594.9 498.7L595.5 497.6L596 497.4L596.6 497.9L597.2 498.9L597.8 500.1L598.4 501.6L598.9 503.1L599.5 504.5L600.1 505.7L600.7 506.2L601.3 505.9L601.8 504.5L602.4 502.2L603 499.3L603.6 496.3L604.1 494.1L604.7 493.1L605.3 493.4L605.9 494.2L606.5 495.6L607 497.6L607.6 499.9L608.2 501.9L608.8 503.9L609.4 506.6L609.9 509.8L610.5 511.9L611.1 512.8L611.7 513L612.3 512.5L612.8 510.8L613.4 508.4L614 505.8L614.6 502.8L615.1 499.5L615.7 496.3L616.3 493.5L616.9 491.8L617.5 491.4L618 492.2L618.6 494.2L619.2 497L619.8 500.4L620.4 503.7L620.9 505.9L621.5 506.8L622.1 506.2L622.7 505.5L623.3 505.3L623.8 505.2L624.4 504.2L625 502.2L625.6 500.3L626.1 498.9L626.7 497.8L627.3 496.6L627.9 496.1L628.5 496.8L629 498.2L629.6 499.8L630.2 501.4L630.8 502.7L631.4 503.6L631.9 504L632.5 504L633.1 504L633.7 503.5L634.2 502.4L634.8 500.8L635.4 499.6L636 498.9L636.6 498.6L637.1 498.5L637.7 498.1L638.3 498L638.9 498.8L639.5 499.9L640 501.1L640.6 501.6L641.2 501.7L641.8 501.4L642.4 501.4L642.9 501.6L643.5 501.6L644.1 501L644.7 500.2L645.2 499.2L645.8 498.4L646.4 497.6L647 496.8L647.6 496.4L648.1 496.3L648.7 496.3L649.3 496.2L649.9 496L650.5 496.2L651 496.4L651.6 496.6L652.2 497.2L652.8 498.1L653.3 498.9L653.9 499.3L654.5 499.7L655.1 500.3L655.7 500.4L656.2 499.5L656.8 498.2L657.4 497.2L658 496.5L658.6 495.7L659.1 494.7L659.7 493.9L660.3 493.9L660.9 494.7L661.5 495.7L662 496.4L662.6 496.9L663.2 497.5L663.8 498.1L664.3 498.1L664.9 497.9L665.5 498L666.1 497.7L666.7 496.8L667.2 495.3L667.8 493.9L668.4 493.1L669 492.6L669.6 492.3L670.1 492.2L670.7 492.6L671.3 493.6L671.9 494.6L672.4 495.5L673 496.2L673.6 496.5L674.2 496.5L674.8 496.1L675.3 495.6L675.9 495L676.5 494.5L677.1 494L677.7 493.2L678.2 492.4L678.8 492.1L679.4 492.6L680 493.3L680.6 494.1L681.1 494.8L681.7 495.1L682.3 494.8L682.9 494.7L683.4 495.1L684 495.4L684.6 495.6L685.2 495.5L685.8 495.1L686.3 494.3L686.9 493.6L687.5 493.1L688.1 492.6L688.7 492L689.2 491.8L689.8 491.9L690.4 492.1L691 492.5L691.5 493.4L692.1 494.1L692.7 494.5L693.3 494.9L693.9 495.1L694.4 495L695 494.8L695.6 494.4L696.2 493.7L696.8 493L697.3 492.4L697.9 492.3L698.5 492.5L699.1 492.6L699.7 492.9L700.2 493.3L700.8 493.6L701.4 493.1L702 492.3L702.5 492.2L703.1 492.6L703.7 492.9L704.3 492.9L704.9 493.1L705.4 493.1L706 492.5L706.6 491.7L707.2 491L707.8 490.7L708.3 490.7L708.9 491L709.5 491.8L710.1 492.7L710.6 493.5L711.2 493.7L711.8 493L712.4 492.1L713 491.9L713.5 491.9L714.1 491.9L714.7 491.5L715.3 491.4L715.9 491.7L716.4 491.7L717 491.2L717.6 490.6L718.2 490.3L718.8 490L719.3 489.5L719.9 489.3L720.5 489.8L721.1 490.3L721.6 490.4L722.2 490.4L722.8 490.6L723.4 490.8L724 490.6L724.5 490.4L725.1 490.5L725.7 490.6L726.3 490.3L726.9 489.8L727.4 489.7L728 489.9L728.6 489.7L729.2 489.5L729.7 489.5L730.3 489.8L730.9 490L731.5 489.9L732.1 489.7L732.6 489.8L733.2 490.2L733.8 490.4L734.4 490.1L735 489.8L735.5 490.1L736.1 490.6L736.7 490.7L737.3 490.2L737.9 489.6L738.4 489.1L739 488.7L739.6 488.4L740.2 488.3L740.7 488.5L741.3 488.5L741.9 488.2L742.5 487.9L743.1 488L743.6 488.8L744.2 489.9L744.8 490.7L745.4 491L746 490.8L746.5 490.3L747.1 489.8L747.7 489.6L748.3 489.6L748.8 489.6L749.4 489.4L750 488.8L750.6 487.9L751.2 487.1L751.7 486.8L752.3 486.9L752.9 487L753.5 487.2L754.1 487.5L754.6 488.4L755.2 489.4L755.8 489.9L756.4 489.7L757 489.6L757.5 489.9L758.1 490.7L758.7 491.2L759.3 490.8L759.8 489.6L760.4 488.1L761 487L761.6 486.1L762.2 485.3L762.7 485.1L763.3 485.4L763.9 485.8L764.5 486.1L765.1 486.3L765.6 486.6L766.2 486.6L766.8 486.7L767.4 487.2L768 487.9L768.5 487.9L769.1 487.3L769.7 486.7L770.3 486.6L770.8 486.8L771.4 486.8L772 486.8L772.6 486.3L773.2 485.9L773.7 486.1L774.3 486.9L774.9 488L775.5 489L776.1 489.8L776.6 490L777.2 489.5L777.8 489L778.4 488.9L778.9 489.3L779.5 489.4L780.1 489L780.7 488.6L781.3 488.5L781.8 488.2L782.4 487.6L783 486.8L783.6 486.5L784.2 486.2L784.7 486L785.3 486.1L785.9 486.3L786.5 486.6L787.1 487L787.6 487.6L788.2 488.1L788.8 488.2L789.4 488.1L789.9 487.9L790.5 487.4L791.1 486.8L791.7 486.4L792.3 486L792.8 485.1L793.4 484L794 483.3L794.6 483.4L795.2 484.1L795.7 484.6L796.3 484.6L796.9 484.7L797.5 484.9L798 484.9L798.6 484.9L799.2 485.2L799.8 485.6L800.4 485.5L800.9 485.3L801.5 485.3L802.1 485.3L802.7 485.1L803.3 484.5L803.8 484L804.4 484L805 484L805.6 483.9L806.2 483.9L806.7 484.3L807.3 484.8L807.9 485.2L808.5 485.7L809 486.2L809.6 486.6L810.2 486.8L810.8 486.8L811.4 486.5L811.9 485.8L812.5 484.9L813.1 483.8L813.7 482.7L814.3 481.7L814.8 481.4L815.4 482L816 483.2L816.6 484L817.1 484.4L817.7 484.4L818.3 484.4L818.9 484.8L819.5 485.3L820 485.5L820.6 485.3L821.2 484.8L821.8 484.2L822.4 483.7L822.9 483.7L823.5 483.8L824.1 483.7L824.7 483.5L825.3 483.4L825.8 483.8L826.4 484.5L827 484.8L827.6 484.4L828.1 483.8L828.7 484.1L829.3 484.8L829.9 485L830.5 484.7L831 484.2L831.6 483.9L832.2 483.7L832.8 483.5L833.4 483.6L833.9 483.9L834.5 484.1L835.1 484.1L835.7 483.5L836.2 482.9L836.8 482.6L837.4 483L838 483.7L838.6 484.2L839.1 484.2L839.7 484.1L840.3 483.9L840.9 483.4L841.5 483L842 482.9L842.6 482.7L843.2 481.9L843.8 481.4L844.4 482L844.9 483.2L845.5 483.6L846.1 483.2L846.7 482.8L847.2 482.9L847.8 483.1L848.4 483L849 483L849.6 483.4L850.1 484L850.7 484.5L851.3 484.7L851.9 484.4L852.5 483.8L853 483.3L853.6 483L854.2 482.9L854.8 483.1L855.3 483.1L855.9 482.8L856.5 482.5L857.1 482.5L857.7 482.4L858.2 482.1L858.8 482L859.4 482.6L860 483.5L860.6 483.8L861.1 483.4L861.7 482.5L862.3 481.6L862.9 480.8L863.5 480.6L864 480.9L864.6 481.2L865.2 481.4L865.8 481.7L866.3 481.6L866.9 481L867.5 480.5L868.1 480.4L868.7 480.4L869.2 480.4L869.8 481L870.4 482L871 482.7L871.6 483L872.1 483.3L872.7 483.3L873.3 483L873.9 482.8L874.4 482.8L875 482.7L875.6 482.2L876.2 481.4L876.8 480.6L877.3 480.2L877.9 480.3L878.5 480.8L879.1 481.2L879.7 481.5L880.2 481.8L880.8 482L881.4 482.1L882 482.1L882.6 482.2L883.1 482.1L883.7 481.7L884.3 481.3L884.9 481L885.4 480.6L886 480.2L886.6 480.2L887.2 480.3L887.8 479.8L888.3 478.9L888.9 478.8L889.5 479.6L890.1 481L890.7 482L891.2 482.3L891.8 482.1L892.4 481.5L893 481.1L893.5 481.1L894.1 481.3L894.7 481.3L895.3 480.8L895.9 480.2L896.4 479.9L897 479.9L897.6 480L898.2 480.3L898.8 480.7L899.3 480.9L899.9 481.1L900.5 481.4L901.1 481.5L901.7 481.5L902.2 481.8L902.8 482.3L903.4 482.5L904 482.1L904.5 481.2L905.1 480.4L905.7 479.9L906.3 479.6L906.9 479.6L907.4 479.6L908 479L908.6 477.9L909.2 477.4L909.8 478.3L910.3 479.7L910.9 480.6L911.5 480.7L912.1 480.5L912.7 480L913.2 479.2L913.8 478.6L914.4 479L915 479.8L915.5 480.2L916.1 479.9L916.7 479.2L917.3 478.7L917.9 478.6L918.4 478.6L919 478.5L919.6 478.3L920.2 478.2L920.8 478.2L921.3 478.3L921.9 478.9L922.5 479.7L923.1 480.3L923.6 480.5L924.2 480.6L924.8 480.8L925.4 480.7L926 480.3L926.5 479.6L927.1 479.2L927.7 479.2L928.3 479.5L928.9 479.8L929.4 479.8L930 479.5L930.6 479L931.2 478.8L931.8 479.1L932.3 479.5L932.9 479.8L933.5 480L934.1 480.4L934.6 480.9L935.2 481L935.8 481.1L936.4 481.1L937 480.8L937.5 480.2L938.1 479.6L938.7 479.1L939.3 478.3L939.9 477.5L940.4 476.9L941 477L941.6 477.6L942.2 478L942.7 477.7L943.3 477.1L943.9 477.4L944.5 478.5L945.1 479.3L945.6 479.6L946.2 479.7L946.8 480.1L947.4 480.3L948 480L948.5 479.7L949.1 479.2L949.7 478.2L950.3 477.1L950.9 476.5L951.4 476.8L952 477.2L952.6 477.3L953.2 477.4L953.7 477.8L954.3 478.4L954.9 478.5L955.5 478.1L956.1 478L956.6 478.4L957.2 479.1L957.8 479.6L958.4 479.7L959 479.6L959.5 479.4L960.1 478.8L960.7 478.1L961.3 477.5L961.8 477.2L962.4 477.2L963 477.1L963.6 476.6L964.2 476L964.7 475.9L965.3 476.3L965.9 476.9L966.5 477.2L967.1 477.5L967.6 478.2L968.2 479L968.8 479.6L969.4 479.9L970 479.9L970.5 479.5L971.1 479" stroke="#CB4662" stroke-width="4.1"/>
<path d="M531.8 549.6L532.4 549.5L533 549.2L533.5 548.7L534.1 547.6L534.7 545.6L535.3 541.6L535.9 534.7L536.4 524.4L537 511.9L537.6 512.7L538.2 524L538.7 532.7L539.3 538.3L539.9 541.7L540.5 543.6L541.1 544.5L541.6 545L542.2 545.3L542.8 545.4L543.4 545.5L544 546L544.5 547.4L545.1 548.8L545.7 550.2L546.3 551.5L546.8 552.9L547.4 554.1L548 555.3L548.6 556.5L549.2 557.6L549.7 558.9L550.3 560.2L550.9 561.5L551.5 562.8L552.1 563.9L552.6 564.7L553.2 565.3L553.8 566L554.4 566.9L555 567.8L555.5 569.1L556.1 570.6L556.7 571.7L557.3 572L557.8 572L558.4 572.1L559 572.6L559.6 573.3L560.2 574.1L560.7 575L561.3 576.3L561.9 577.4L562.5 577.7L563.1 577.7L563.6 578.2L564.2 579L564.8 579.8L565.4 580.1L565.9 580.1L566.5 580.5L567.1 581.1L567.7 581.4L568.3 581.6L568.8 582.2L569.4 583.1L570 583.5L570.6 583.1L571.2 582.6L571.7 582.7L572.3 583.5L572.9 584.5L573.5 585.4L574.1 585.9L574.6 586.2L575.2 586.2L575.8 586.2L576.4 586.4L576.9 586.9L577.5 587L578.1 586.8L578.7 587.3L579.3 588.7L579.8 590.3L580.4 591.3L581 591.5L581.6 591.2L582.2 590.7L582.7 590.3L583.3 589.9L583.9 589.9L584.5 590.1L585 590.3L585.6 590.9L586.2 591.7L586.8 592.3L587.4 592.6L587.9 592.8L588.5 592.5L589.1 591.7L589.7 590.9L590.3 591.1L590.8 591.7L591.4 591.9L592 592.1L592.6 592.7L593.2 593.4L593.7 593.3L594.3 592.5L594.9 591.3L595.5 590.2L596 589.6L596.6 589.7L597.2 590.8L597.8 592.5L598.4 594.1L598.9 595.4L599.5 596.6L600.1 597.6L600.7 598.2L601.3 597.9L601.8 596.6L602.4 594.1L603 591L603.6 587.9L604.1 585.3L604.7 583.7L605.3 583.5L605.9 584.5L606.5 585.9L607 587.2L607.6 589L608.2 591.9L608.8 595.3L609.4 598.2L609.9 600.3L610.5 602.1L611.1 603.6L611.7 604.2L612.3 603.9L612.8 602.8L613.4 601.1L614 598.6L614.6 595.2L615.1 591.6L615.7 588.7L616.3 586.7L616.9 585L617.5 583.8L618 584.1L618.6 586.1L619.2 588.7L619.8 591.6L620.4 594.7L620.9 597.6L621.5 599.5L622.1 600.2L622.7 599.7L623.3 598.1L623.8 596.7L624.4 596L625 595.5L625.6 594L626.1 591.8L626.7 590.3L627.3 589.9L627.9 590.2L628.5 590.5L629 591L629.6 592.2L630.2 594.1L630.8 596L631.4 596.8L631.9 596.7L632.5 596.4L633.1 596.3L633.7 596.1L634.2 595.5L634.8 594.6L635.4 593.4L636 592.1L636.6 591.1L637.1 590.8L637.7 590.9L638.3 591.1L638.9 591.2L639.5 591.8L640 592.8L640.6 593.3L641.2 593.4L641.8 592.8L642.4 592.2L642.9 591.8L643.5 592L644.1 592L644.7 591.6L645.2 590.9L645.8 590.3L646.4 589.5L647 588.8L647.6 588.9L648.1 589.1L648.7 588.8L649.3 588.3L649.9 588L650.5 588.1L651 588.3L651.6 588.7L652.2 589.7L652.8 591.3L653.3 592.9L653.9 593.6L654.5 593.1L655.1 592L655.7 591.2L656.2 590.9L656.8 590.5L657.4 589.7L658 589L658.6 588.7L659.1 588.8L659.7 588.7L660.3 588.3L660.9 588.3L661.5 589.1L662 590.2L662.6 590.9L663.2 591L663.8 590.9L664.3 591L664.9 591.5L665.5 592.2L666.1 591.9L666.7 590.4L667.2 588.5L667.8 586.6L668.4 585.1L669 584.2L669.6 584.1L670.1 584.5L670.7 584.6L671.3 585L671.9 585.8L672.4 586.8L673 587.8L673.6 588.6L674.2 589L674.8 589L675.3 588.4L675.9 587.3L676.5 586L677.1 585.4L677.7 585.4L678.2 585.4L678.8 584.9L679.4 584.3L680 583.9L680.6 584L681.1 584.9L681.7 586.3L682.3 587.6L682.9 588.2L683.4 588.3L684 588.2L684.6 588L685.2 587.4L685.8 586.5L686.3 586.1L686.9 586.5L687.5 586.9L688.1 587L688.7 586.5L689.2 585.6L689.8 584.4L690.4 583.7L691 584.2L691.5 585.6L692.1 587L692.7 587.8L693.3 588.1L693.9 587.9L694.4 587.7L695 587.4L695.6 586.6L696.2 585.4L696.8 584.7L697.3 584.7L697.9 584.9L698.5 584.8L699.1 584.6L699.7 584.3L700.2 583.7L700.8 582.8L701.4 582.4L702 582.9L702.5 583.8L703.1 585L703.7 586.1L704.3 586.3L704.9 585.8L705.4 584.7L706 583.4L706.6 582.6L707.2 582.4L707.8 582.8L708.3 582.8L708.9 582.4L709.5 582.4L710.1 582.6L710.6 582.7L711.2 582.4L711.8 582.6L712.4 583.4L713 584.3L713.5 584.5L714.1 584.5L714.7 584.5L715.3 584.7L715.9 584.8L716.4 584.4L717 584L717.6 583.3L718.2 582.7L718.8 582.5L719.3 583.1L719.9 584L720.5 584.4L721.1 583.9L721.6 583.2L722.2 583.3L722.8 583.9L723.4 584.2L724 583.8L724.5 583.1L725.1 582.9L725.7 583.2L726.3 583.3L726.9 583.4L727.4 583.7L728 584.4L728.6 584.7L729.2 584.4L729.7 583.8L730.3 583.4L730.9 583.2L731.5 582.7L732.1 581.7L732.6 580.9L733.2 580.9L733.8 581.2L734.4 581.4L735 581.5L735.5 581.5L736.1 581.3L736.7 581.2L737.3 581.7L737.9 582.5L738.4 583.1L739 583.4L739.6 583.2L740.2 582.7L740.7 582L741.3 581.3L741.9 580.9L742.5 581L743.1 581.4L743.6 581.5L744.2 581L744.8 580.4L745.4 580.5L746 581L746.5 581L747.1 580.7L747.7 580.7L748.3 581.4L748.8 581.9L749.4 581.6L750 581L750.6 581.1L751.2 582L751.7 582.7L752.3 582.3L752.9 581L753.5 579.6L754.1 578.8L754.6 578.8L755.2 579.4L755.8 579.8L756.4 579.7L757 579.9L757.5 580.4L758.1 580.8L758.7 580.9L759.3 580.9L759.8 580.8L760.4 580.7L761 580.7L761.6 580.5L762.2 580L762.7 579.9L763.3 580.2L763.9 580L764.5 579.1L765.1 577.9L765.6 576.9L766.2 576.5L766.8 576.7L767.4 577.3L768 577.9L768.5 578.2L769.1 578.5L769.7 578.7L770.3 579.1L770.8 579.4L771.4 579.6L772 579.7L772.6 579.8L773.2 579.9L773.7 579.9L774.3 579.5L774.9 579.2L775.5 578.8L776.1 578.3L776.6 577.7L777.2 577L777.8 576.6L778.4 576.5L778.9 576.7L779.5 576.6L780.1 576.2L780.7 576.4L781.3 577.4L781.8 578.7L782.4 579.6L783 580L783.6 579.9L784.2 579.6L784.7 579.4L785.3 579.8L785.9 580.1L786.5 579.9L787.1 579.1L787.6 578.1L788.2 577.4L788.8 576.7L789.4 576.4L789.9 576.1L790.5 576L791.1 576.5L791.7 577.6L792.3 578.8L792.8 579.6L793.4 580L794 580.3L794.6 580.4L795.2 580.1L795.7 579.5L796.3 578.7L796.9 578.1L797.5 577.7L798 577.2L798.6 576.6L799.2 576.3L799.8 576.2L800.4 576.2L800.9 576.7L801.5 577.5L802.1 577.8L802.7 577.8L803.3 577.7L803.8 577.6L804.4 577.9L805 578.4L805.6 578.7L806.2 578.5L806.7 578L807.3 577.3L807.9 576L808.5 574.8L809 574.4L809.6 574.6L810.2 574.7L810.8 574.4L811.4 574L811.9 573.9L812.5 574.5L813.1 575.5L813.7 576.2L814.3 576.6L814.8 577.3L815.4 577.9L816 578.1L816.6 577.9L817.1 577.4L817.7 576.5L818.3 575.6L818.9 575.2L819.5 575.3L820 575.6L820.6 575.8L821.2 575.7L821.8 575.5L822.4 575.5L822.9 576L823.5 576.6L824.1 576.7L824.7 576.6L825.3 576.4L825.8 576.2L826.4 576.3L827 576.2L827.6 575.8L828.1 575.1L828.7 574.5L829.3 574.4L829.9 574.9L830.5 575.6L831 575.7L831.6 575.5L832.2 575.7L832.8 576.2L833.4 575.9L833.9 574.7L834.5 574.1L835.1 574.8L835.7 575.8L836.2 576.1L836.8 575.8L837.4 575.4L838 575L838.6 574.5L839.1 574.3L839.7 574.7L840.3 574.7L840.9 574.6L841.5 574.8L842 575.4L842.6 575.8L843.2 576L843.8 576L844.4 575.9L844.9 575.5L845.5 575.2L846.1 575L846.7 574.4L847.2 573.9L847.8 573.9L848.4 574.4L849 574.8L849.6 574.5L850.1 574.1L850.7 573.6L851.3 573.2L851.9 573.2L852.5 573.4L853 573.6L853.6 573.4L854.2 573.1L854.8 572.9L855.3 572.9L855.9 573.2L856.5 573.9L857.1 574.3L857.7 574.2L858.2 574.1L858.8 574.4L859.4 574.7L860 574.9L860.6 575L861.1 574.8L861.7 574.8L862.3 574.7L862.9 574.5L863.5 574.2L864 573.6L864.6 573L865.2 572.8L865.8 572.8L866.3 573.1L866.9 573.3L867.5 573.7L868.1 574.2L868.7 574.2L869.2 573.7L869.8 573.2L870.4 572.8L871 572.7L871.6 573L872.1 573.4L872.7 573.9L873.3 574.1L873.9 574.1L874.4 574.1L875 573.8L875.6 573.3L876.2 572.6L876.8 572.5L877.3 573.1L877.9 573.9L878.5 574.6L879.1 574.4L879.7 573.8L880.2 573.7L880.8 574L881.4 573.9L882 573.5L882.6 573.3L883.1 573.3L883.7 573.4L884.3 573.1L884.9 572.6L885.4 572.4L886 572.5L886.6 572.8L887.2 572.9L887.8 573L888.3 573.5L888.9 574.3L889.5 574.5L890.1 574.3L890.7 574.2L891.2 574.3L891.8 573.9L892.4 572.9L893 572.5L893.5 572.9L894.1 573.1L894.7 572.9L895.3 572.3L895.9 572.1L896.4 572.2L897 572.4L897.6 572.4L898.2 572L898.8 571.3L899.3 570.6L899.9 570.7L900.5 571.6L901.1 572.7L901.7 573.5L902.2 573.3L902.8 572.5L903.4 571.5L904 571L904.5 570.8L905.1 570.4L905.7 570.4L906.3 571.1L906.9 571.9L907.4 572.2L908 571.7L908.6 571.5L909.2 571.8L909.8 572.2L910.3 572.4L910.9 572.3L911.5 572.6L912.1 573.1L912.7 573.3L913.2 572.6L913.8 571.1L914.4 570.2L915 570.4L915.5 571.2L916.1 571.6L916.7 571.8L917.3 571.9L917.9 571.8L918.4 571.4L919 571.1L919.6 571.4L920.2 571.8L920.8 571.5L921.3 571.1L921.9 571.3L922.5 571.8L923.1 572.4L923.6 572.8L924.2 573.2L924.8 573.1L925.4 572.4L926 571.8L926.5 571.5L927.1 571.3L927.7 570.7L928.3 569.8L928.9 569.1L929.4 569.3L930 570.2L930.6 571.3L931.2 571.9L931.8 571.6L932.3 571L932.9 570.7L933.5 571L934.1 571.2L934.6 570.6L935.2 569.6L935.8 569L936.4 568.9L937 569.2L937.5 569.6L938.1 569.7L938.7 569.7L939.3 569.8L939.9 570.4L940.4 571.2L941 571.9L941.6 572.2L942.2 572.1L942.7 571.9L943.3 571.6L943.9 571.6L944.5 572L945.1 572.5L945.6 572.4L946.2 571.4L946.8 569.7L947.4 568.2L948 567.5L948.5 567.5L949.1 568.4L949.7 569.4L950.3 569.9L950.9 570.1L951.4 570.7L952 571.7L952.6 572.3L953.2 572L953.7 571.3L954.3 570.9L954.9 570.7L955.5 570.1L956.1 569.4L956.6 569.1L957.2 569L957.8 569L958.4 569L959 569.4L959.5 569.6L960.1 569.6L960.7 569.4L961.3 569.1L961.8 568.7L962.4 568.6L963 569.1L963.6 569.6L964.2 569.9L964.7 570.1L965.3 570.3L965.9 570.4L966.5 570.2L967.1 570L967.6 569.9L968.2 569.8L968.8 569.7L969.4 569.6L970 569L970.5 568.4L971.1 568" stroke="#DC5B5C" stroke-width="4.1"/>
<path d="M531.8 641.3L532.4 641.2L533 641L533.5 640.5L534.1 639.5L534.7 637.7L535.3 633.7L535.9 626.1L536.4 615.2L537 602.5L537.6 602.5L538.2 612.6L538.7 620.5L539.3 625.6L539.9 628.6L540.5 630.3L541.1 631.2L541.6 631.6L542.2 631.8L542.8 631.9L543.4 632L544 632L544.5 632L545.1 632.5L545.7 634L546.3 635.4L546.8 636.7L547.4 638.1L548 639.5L548.6 640.8L549.2 642L549.7 643.3L550.3 644.7L550.9 645.9L551.5 647L552.1 648.3L552.6 649.7L553.2 651.1L553.8 651.8L554.4 651.9L555 651.4L555.5 651.2L556.1 651.7L556.7 653.1L557.3 655.2L557.8 657.1L558.4 657.9L559 657.9L559.6 657.9L560.2 658.1L560.7 659.2L561.3 661.3L561.9 663.3L562.5 664.3L563.1 664.8L563.6 665.8L564.2 666.6L564.8 666.4L565.4 665.5L565.9 665.5L566.5 667.4L567.1 670.4L567.7 671.7L568.3 670.7L568.8 670.2L569.4 671.5L570 673.2L570.6 673.9L571.2 673.7L571.7 673.7L572.3 673.8L572.9 674.1L573.5 674.4L574.1 674.6L574.6 675.1L575.2 675.1L575.8 674.6L576.4 674.2L576.9 674L577.5 674.1L578.1 674.4L578.7 675.4L579.3 676.7L579.8 677.7L580.4 678.7L581 679.5L581.6 679.4L582.2 678.3L582.7 677.8L583.3 678.4L583.9 679.4L584.5 679.9L585 680.1L585.6 680.4L586.2 681L586.8 681.6L587.4 681.9L587.9 682.4L588.5 683.4L589.1 684.5L589.7 684.3L590.3 683.6L590.8 683.4L591.4 683.5L592 683.5L592.6 683L593.2 682.3L593.7 681.5L594.3 680.9L594.9 680.9L595.5 680.8L596 680.3L596.6 680.5L597.2 682.4L597.8 684.5L598.4 684.9L598.9 684.6L599.5 685.5L600.1 687.3L600.7 688.3L601.3 687.9L601.8 686.3L602.4 684.2L603 682.1L603.6 679.9L604.1 678.3L604.7 678.1L605.3 679L605.9 679.7L606.5 679.8L607 680.3L607.6 681.6L608.2 684L608.8 686.9L609.4 689.6L609.9 691.6L610.5 693L611.1 694L611.7 694.2L612.3 693.9L612.8 692.9L613.4 691.2L614 688.2L614.6 684.7L615.1 682.3L615.7 681L616.3 679.9L616.9 678.4L617.5 677.3L618 677.4L618.6 679.2L619.2 682.2L619.8 685.9L620.4 688.6L620.9 689.8L621.5 690.2L622.1 690.4L622.7 691.1L623.3 691.4L623.8 690.8L624.4 689.6L625 688.5L625.6 687L626.1 684.9L626.7 682.8L627.3 682L627.9 682.8L628.5 684.4L629 686.3L629.6 687.5L630.2 687.8L630.8 687.5L631.4 687.2L631.9 687.7L632.5 688.5L633.1 688.5L633.7 687.5L634.2 686.2L634.8 685.4L635.4 685.2L636 684.7L636.6 683.2L637.1 682L637.7 682.2L638.3 682.9L638.9 683.1L639.5 683.1L640 684L640.6 685.2L641.2 685.9L641.8 685.9L642.4 685.4L642.9 684.6L643.5 683.9L644.1 683.7L644.7 684L645.2 683.9L645.8 683.1L646.4 682L647 681.7L647.6 681.4L648.1 680.3L648.7 679L649.3 679L649.9 680.3L650.5 681.6L651 682.2L651.6 682.6L652.2 683L652.8 683.6L653.3 684.6L653.9 685.3L654.5 685L655.1 684.1L655.7 683L656.2 682.1L656.8 681.4L657.4 681.1L658 681.4L658.6 682.1L659.1 682.5L659.7 682.4L660.3 681.8L660.9 681.3L661.5 681.5L662 682.7L662.6 683.7L663.2 683.6L663.8 682.9L664.3 683L664.9 683.4L665.5 683.6L666.1 683.4L666.7 683L667.2 682.1L667.8 680.8L668.4 679.9L669 679.9L669.6 680.3L670.1 680.3L670.7 680.1L671.3 680L671.9 680.2L672.4 680.4L673 680.4L673.6 680.1L674.2 679.3L674.8 678.8L675.3 679.6L675.9 680.8L676.5 681.4L677.1 681L677.7 680L678.2 678.7L678.8 677.5L679.4 677.6L680 679L680.6 680.4L681.1 680.7L681.7 680.2L682.3 680L682.9 681L683.4 682.5L684 683.2L684.6 682.8L685.2 681.7L685.8 680.9L686.3 680.6L686.9 680.3L687.5 679.9L688.1 679.2L688.7 678L689.2 676.4L689.8 675.4L690.4 675.6L691 676.4L691.5 677.8L692.1 679.7L692.7 680.9L693.3 680L693.9 678.1L694.4 678L695 679.5L695.6 680.5L696.2 680L696.8 678.7L697.3 677.9L697.9 677.7L698.5 677.8L699.1 678.4L699.7 679.1L700.2 679.7L700.8 679.6L701.4 679L702 678.5L702.5 678.9L703.1 680L703.7 680.4L704.3 679.7L704.9 678.8L705.4 678.1L706 677.7L706.6 677.3L707.2 677.7L707.8 678.1L708.3 678.2L708.9 677.5L709.5 676L710.1 674.8L710.6 675.1L711.2 676.2L711.8 676.5L712.4 676.1L713 676L713.5 676.7L714.1 677.5L714.7 677.9L715.3 677.9L715.9 677.9L716.4 677.7L717 677.4L717.6 677.1L718.2 677.4L718.8 677.8L719.3 677L719.9 675.7L720.5 675.1L721.1 674.9L721.6 674.2L722.2 673.6L722.8 674.1L723.4 675.2L724 676.1L724.5 676.1L725.1 675.6L725.7 674.5L726.3 673.8L726.9 674.2L727.4 675.3L728 676.4L728.6 676.5L729.2 675.5L729.7 674.5L730.3 674.1L730.9 674.2L731.5 674.1L732.1 674L732.6 674.3L733.2 674.7L733.8 674.8L734.4 674.8L735 675.2L735.5 676.1L736.1 677L736.7 676.9L737.3 676L737.9 675.1L738.4 674.6L739 674.3L739.6 674.2L740.2 674.4L740.7 674.3L741.3 673.7L741.9 673.1L742.5 672.6L743.1 672.6L743.6 673.3L744.2 674.1L744.8 674.5L745.4 674L746 673.6L746.5 674L747.1 675.1L747.7 675.8L748.3 675.7L748.8 675.1L749.4 674.9L750 675.4L750.6 675.5L751.2 675L751.7 674.5L752.3 674.1L752.9 673.5L753.5 672.6L754.1 672L754.6 671.6L755.2 671.5L755.8 672L756.4 672.7L757 673.1L757.5 673.4L758.1 674.2L758.7 674.4L759.3 673.4L759.8 672.5L760.4 672.9L761 674.2L761.6 675.3L762.2 675.2L762.7 674.3L763.3 673.7L763.9 673.8L764.5 674L765.1 673.2L765.6 671.7L766.2 670.8L766.8 670.8L767.4 671.5L768 672.3L768.5 673.1L769.1 673.9L769.7 673.5L770.3 672.3L770.8 671.6L771.4 672L772 672.8L772.6 673.1L773.2 672.8L773.7 671.9L774.3 671.1L774.9 671.5L775.5 672.3L776.1 671.4L776.6 669.4L777.2 668L777.8 668.3L778.4 669.3L778.9 669.6L779.5 669.6L780.1 670.1L780.7 671.7L781.3 673.4L781.8 674L782.4 673.9L783 673.6L783.6 673.1L784.2 672.2L784.7 671.9L785.3 672.6L785.9 672.6L786.5 671.1L787.1 669.1L787.6 668.3L788.2 668.5L788.8 668L789.4 667.5L789.9 668.2L790.5 669.8L791.1 671.2L791.7 671.4L792.3 671L792.8 670.5L793.4 669.8L794 669.4L794.6 669.4L795.2 669.6L795.7 669.9L796.3 669.9L796.9 669.7L797.5 670.2L798 671.1L798.6 671.7L799.2 671.6L799.8 670.8L800.4 669.5L800.9 668.2L801.5 667.4L802.1 667.3L802.7 668L803.3 669.1L803.8 670.5L804.4 671.6L805 672L805.6 672.1L806.2 672L806.7 671.9L807.3 671.6L807.9 671L808.5 670.3L809 669.8L809.6 669.7L810.2 669.8L810.8 669.4L811.4 668.3L811.9 667.3L812.5 667.5L813.1 668.7L813.7 670.2L814.3 671.7L814.8 672.7L815.4 672.3L816 670.7L816.6 669.1L817.1 668.9L817.7 669.4L818.3 669.5L818.9 668.9L819.5 667.7L820 666.4L820.6 665.9L821.2 666.6L821.8 667.5L822.4 667.6L822.9 667.5L823.5 668.5L824.1 670.1L824.7 671.3L825.3 671.3L825.8 670.2L826.4 668.6L827 667.4L827.6 666.8L828.1 667.1L828.7 668.3L829.3 669.5L829.9 669.9L830.5 669.3L831 668.7L831.6 667.7L832.2 666.4L832.8 665.9L833.4 666.1L833.9 666.3L834.5 665.8L835.1 665L835.7 665.5L836.2 666.8L836.8 668.2L837.4 669L838 668.8L838.6 667.8L839.1 666.4L839.7 666.1L840.3 666.7L840.9 666.8L841.5 666.4L842 666.5L842.6 667.1L843.2 667L843.8 665.9L844.4 665.4L844.9 665.7L845.5 666.1L846.1 665.7L846.7 664.8L847.2 664.7L847.8 665L848.4 665.6L849 666.8L849.6 668.1L850.1 668.7L850.7 668.8L851.3 668.5L851.9 668L852.5 667.7L853 668.2L853.6 669.2L854.2 669.3L854.8 668.6L855.3 668L855.9 667.8L856.5 667.7L857.1 668L857.7 668.3L858.2 668.1L858.8 667L859.4 666.1L860 666.5L860.6 667.8L861.1 668.6L861.7 668.1L862.3 667.1L862.9 666.5L863.5 666.6L864 666.6L864.6 666.5L865.2 666.3L865.8 666.3L866.3 666L866.9 665.4L867.5 664.6L868.1 664.1L868.7 664.3L869.2 664.9L869.8 665.9L870.4 666.7L871 666.3L871.6 665.3L872.1 665L872.7 666L873.3 667L873.9 666.9L874.4 665.9L875 665L875.6 664.9L876.2 665.3L876.8 665.6L877.3 665.1L877.9 664L878.5 663.4L879.1 663.5L879.7 664.1L880.2 664.5L880.8 664.4L881.4 664.4L882 664.9L882.6 665.7L883.1 666.3L883.7 666.2L884.3 665.3L884.9 664.3L885.4 663.8L886 663.7L886.6 663.4L887.2 662.8L887.8 663.4L888.3 664.6L888.9 664.8L889.5 663.9L890.1 663.5L890.7 664.5L891.2 666.3L891.8 667.5L892.4 667.3L893 666.1L893.5 664.6L894.1 663.4L894.7 662.4L895.3 661.7L895.9 661.4L896.4 661.1L897 661L897.6 661.6L898.2 662.8L898.8 664L899.3 664.8L899.9 665.3L900.5 665.4L901.1 664.9L901.7 664.3L902.2 663.8L902.8 664L903.4 664.4L904 664.4L904.5 664.2L905.1 664.1L905.7 663.9L906.3 663.5L906.9 663.1L907.4 662.7L908 662.8L908.6 663.4L909.2 664.5L909.8 665.1L910.3 664.8L910.9 664.1L911.5 663.5L912.1 663.1L912.7 663L913.2 663.1L913.8 663.5L914.4 663.8L915 663.5L915.5 663.2L916.1 663.9L916.7 664.8L917.3 664.8L917.9 663.5L918.4 662.5L919 662.5L919.6 662.6L920.2 662.4L920.8 662L921.3 662.1L921.9 662.5L922.5 663L923.1 663.6L923.6 664L924.2 664L924.8 664.3L925.4 664.6L926 663.7L926.5 661.7L927.1 660.2L927.7 660.6L928.3 661.6L928.9 661.8L929.4 661.8L930 662.7L930.6 663.7L931.2 663.6L931.8 662.6L932.3 662.3L932.9 663.5L933.5 664.6L934.1 664.4L934.6 663.3L935.2 662.5L935.8 661.7L936.4 660.2L937 659.2L937.5 660.3L938.1 662.5L938.7 663.4L939.3 662.7L939.9 661.6L940.4 661L941 661.1L941.6 661.6L942.2 662.1L942.7 662.4L943.3 662.6L943.9 662.6L944.5 662.2L945.1 661.6L945.6 661.3L946.2 661.6L946.8 661.8L947.4 661.6L948 661.2L948.5 661.1L949.1 661.4L949.7 662.3L950.3 663.2L950.9 663.1L951.4 662L952 661.2L952.6 661.5L953.2 662.3L953.7 662.4L954.3 661.5L954.9 661.1L955.5 661.4L956.1 661.8L956.6 661.7L957.2 661.6L957.8 662.5L958.4 663.5L959 663.4L959.5 662.8L960.1 662.8L960.7 663L961.3 662.4L961.8 661.1L962.4 660L963 659.4L963.6 659.4L964.2 659.3L964.7 659.1L965.3 659.2L965.9 660.1L966.5 660.8L967.1 660.2L967.6 659.3L968.2 659.3L968.8 659.7L969.4 660L970 660.4L970.5 661L971.1 661.1" stroke="#E67B62" stroke-width="4.1"/>
<path d="M531.8 733L532.4 732.9L533 732.7L533.5 732.2L534.1 731.3L534.7 729.7L535.3 726.6L535.9 721.6L536.4 713.9L537 704.4L537.6 705.5L538.2 714.9L538.7 722.1L539.3 726.8L539.9 729.6L540.5 731.2L541.1 732L541.6 732.4L542.2 732.6L542.8 732.7L543.4 732.8L544 732.8L544.5 732.8L545.1 733.2L545.7 734.1L546.3 735.1L546.8 736L547.4 736.9L548 737.6L548.6 738.3L549.2 739L549.7 739.8L550.3 740.8L550.9 742.1L551.5 743.2L552.1 743.8L552.6 744.2L553.2 745L553.8 746.2L554.4 746.5L555 746.5L555.5 747.8L556.1 749.9L556.7 751.8L557.3 752.4L557.8 752.1L558.4 751.4L559 751L559.6 751.8L560.2 753.1L560.7 754L561.3 754.9L561.9 755.9L562.5 756.4L563.1 756.1L563.6 755.5L564.2 755.4L564.8 756.2L565.4 757.7L565.9 759.5L566.5 760.3L567.1 759.7L567.7 758.7L568.3 759.1L568.8 760.8L569.4 762.8L570 764L570.6 763.7L571.2 762.6L571.7 761.9L572.3 761.7L572.9 761.7L573.5 761.9L574.1 762.4L574.6 762.5L575.2 762.5L575.8 763.5L576.4 764.9L576.9 766L577.5 766.6L578.1 767L578.7 767.1L579.3 767.1L579.8 768.1L580.4 769.6L581 770.8L581.6 770.7L582.2 769.5L582.7 768.5L583.3 767.8L583.9 767.7L584.5 768.2L585 769.3L585.6 770.2L586.2 769.8L586.8 769.2L587.4 769.6L587.9 770.5L588.5 771.3L589.1 772.1L589.7 773L590.3 773.9L590.8 774.7L591.4 774.9L592 774.4L592.6 773.8L593.2 773.2L593.7 772.8L594.3 772.2L594.9 770.8L595.5 769.8L596 770.3L596.6 772.3L597.2 774L597.8 774.7L598.4 775.1L598.9 775.6L599.5 776L600.1 776.7L600.7 777.9L601.3 778.8L601.8 778.2L602.4 776.1L603 773.2L603.6 770.6L604.1 769.3L604.7 769.1L605.3 769.4L605.9 769.8L606.5 771.3L607 773.6L607.6 775.7L608.2 777.5L608.8 779.2L609.4 781.3L609.9 783.6L610.5 785.1L611.1 785.2L611.7 784.9L612.3 784.9L612.8 784.1L613.4 781.1L614 777.3L614.6 774.5L615.1 773.1L615.7 772.1L616.3 770.9L616.9 770.1L617.5 769.3L618 768.9L618.6 770L619.2 772.4L619.8 774.7L620.4 777.2L620.9 780.6L621.5 783.3L622.1 783.4L622.7 781.2L623.3 779.2L623.8 778.5L624.4 778.6L625 778.3L625.6 777.2L626.1 776.1L626.7 775.5L627.3 775.1L627.9 774.3L628.5 773.3L629 773.2L629.6 774.3L630.2 776.5L630.8 779.1L631.4 781.3L631.9 782.5L632.5 782.7L633.1 782.2L633.7 781L634.2 779.7L634.8 778.8L635.4 777.9L636 776.2L636.6 774.3L637.1 773.7L637.7 775L638.3 777.1L638.9 779.2L639.5 780.4L640 779.9L640.6 778L641.2 776.5L641.8 776.2L642.4 776L642.9 775.9L643.5 776.3L644.1 776.9L644.7 776.8L645.2 776.3L645.8 777L646.4 777.9L647 777.4L647.6 775.6L648.1 774.4L648.7 774.8L649.3 775.6L649.9 776.2L650.5 776.8L651 777.9L651.6 779L652.2 779.2L652.8 778.6L653.3 778.4L653.9 779.4L654.5 780.5L655.1 780.7L655.7 780.3L656.2 780.1L656.8 779.8L657.4 778.5L658 776.7L658.6 775.8L659.1 775.7L659.7 775.2L660.3 774L660.9 773.2L661.5 773.5L662 774.8L662.6 776.5L663.2 777.5L663.8 777.4L664.3 776.6L664.9 776.6L665.5 777.5L666.1 777.9L666.7 776.8L667.2 774.7L667.8 772.8L668.4 771.8L669 771.7L669.6 771.7L670.1 771.5L670.7 771.4L671.3 772.1L671.9 773.5L672.4 775.2L673 776.3L673.6 776.8L674.2 776.5L674.8 775.9L675.3 775.3L675.9 774.7L676.5 774.2L677.1 773.2L677.7 771.7L678.2 770.2L678.8 770L679.4 770.8L680 771.8L680.6 773L681.1 773.9L681.7 774.8L682.3 775.5L682.9 776.5L683.4 776.8L684 775.9L684.6 775.5L685.2 775.8L685.8 775.9L686.3 774.9L686.9 773.6L687.5 773.1L688.1 773.1L688.7 773L689.2 772L689.8 770.8L690.4 770.7L691 771.8L691.5 773.1L692.1 773.6L692.7 773.7L693.3 774.4L693.9 775.3L694.4 775.3L695 774.7L695.6 774.1L696.2 773.5L696.8 772.7L697.3 772.1L697.9 772.3L698.5 772.2L699.1 770.9L699.7 769.6L700.2 769.7L700.8 770.6L701.4 771.2L702 770.8L702.5 770L703.1 769.4L703.7 769.3L704.3 769.8L704.9 770.3L705.4 770.7L706 771L706.6 771L707.2 771.2L707.8 771.7L708.3 772.8L708.9 773.3L709.5 772.3L710.1 771.3L710.6 771.3L711.2 772.3L711.8 772.6L712.4 772.2L713 772L713.5 771.9L714.1 771.5L714.7 771L715.3 770.4L715.9 770.1L716.4 770.5L717 771.7L717.6 772.6L718.2 772L718.8 770.7L719.3 769.8L719.9 769.5L720.5 769.7L721.1 770.2L721.6 770.9L722.2 771.2L722.8 771.2L723.4 771.4L724 771.7L724.5 771.9L725.1 771.7L725.7 771.4L726.3 771.2L726.9 771.2L727.4 771.1L728 771L728.6 770.8L729.2 770L729.7 769L730.3 768.7L730.9 769.2L731.5 769.7L732.1 769.9L732.6 769.7L733.2 769L733.8 768.4L734.4 768.5L735 769.6L735.5 771.1L736.1 772.3L736.7 772.4L737.3 771.7L737.9 770.5L738.4 769.4L739 767.9L739.6 766.4L740.2 766.3L740.7 767.5L741.3 768.9L741.9 769.5L742.5 770L743.1 770.8L743.6 771L744.2 770.6L744.8 770.4L745.4 771.1L746 771.7L746.5 771.2L747.1 769.7L747.7 767.9L748.3 767.3L748.8 767.7L749.4 767.9L750 767.2L750.6 766.1L751.2 765.9L751.7 765.9L752.3 765.5L752.9 765.6L753.5 766.8L754.1 768.3L754.6 768.8L755.2 768.4L755.8 768.1L756.4 767.9L757 767.9L757.5 767.6L758.1 767.3L758.7 767.4L759.3 767.8L759.8 768.3L760.4 768.4L761 768.1L761.6 767.1L762.2 765.9L762.7 765L763.3 764.8L763.9 765L764.5 764.9L765.1 764.4L765.6 764L766.2 764.2L766.8 765L767.4 765.7L768 766.4L768.5 766.5L769.1 765.8L769.7 765.3L770.3 765.5L770.8 766.4L771.4 766.5L772 765.7L772.6 765.3L773.2 765.9L773.7 767.4L774.3 768.2L774.9 767.9L775.5 767.1L776.1 766.3L776.6 765.8L777.2 766L777.8 766.5L778.4 766.6L778.9 766.5L779.5 766.7L780.1 767.7L780.7 768.2L781.3 768L781.8 767.4L782.4 767L783 766.6L783.6 765.5L784.2 764L784.7 762.8L785.3 762.9L785.9 764L786.5 765.2L787.1 766.3L787.6 767.1L788.2 767.6L788.8 767.7L789.4 767L789.9 765.6L790.5 764.4L791.1 764.1L791.7 764.2L792.3 763.6L792.8 762.7L793.4 762.5L794 763L794.6 763.2L795.2 763L795.7 762.5L796.3 762L796.9 762.1L797.5 763.1L798 764.7L798.6 765.8L799.2 765.8L799.8 765.5L800.4 764.9L800.9 764.1L801.5 763.8L802.1 763.4L802.7 762.3L803.3 760.5L803.8 759L804.4 758.6L805 759L805.6 759.9L806.2 761.3L806.7 763.2L807.3 764.7L807.9 764.9L808.5 764.4L809 764.1L809.6 764.1L810.2 763.5L810.8 762.5L811.4 762.3L811.9 762.6L812.5 762.2L813.1 760.9L813.7 760L814.3 760.4L814.8 761L815.4 761.1L816 761.2L816.6 762.3L817.1 764L817.7 765.2L818.3 765.1L818.9 764.3L819.5 763.6L820 763.5L820.6 763.3L821.2 762.3L821.8 761.1L822.4 760.5L822.9 760.9L823.5 761.2L824.1 761.2L824.7 761.7L825.3 762.7L825.8 763L826.4 762.5L827 762.4L827.6 762.8L828.1 762.8L828.7 761.9L829.3 761.3L829.9 761.7L830.5 763L831 763.5L831.6 762L832.2 759.8L832.8 758.9L833.4 759.9L833.9 761.7L834.5 763L835.1 763.1L835.7 762.3L836.2 761.2L836.8 760.7L837.4 760.8L838 761L838.6 761.1L839.1 761.5L839.7 762.2L840.3 762.3L840.9 761.5L841.5 760.8L842 760.7L842.6 760.7L843.2 760.2L843.8 759.4L844.4 758.8L844.9 758.6L845.5 759.1L846.1 759.9L846.7 760.5L847.2 760.9L847.8 761.1L848.4 760.6L849 759.6L849.6 758.9L850.1 758.8L850.7 759.1L851.3 759.3L851.9 759.9L852.5 760.1L853 759.8L853.6 759.9L854.2 760.6L854.8 761.3L855.3 761L855.9 760.1L856.5 759.6L857.1 760L857.7 760.6L858.2 761.1L858.8 761.7L859.4 761.9L860 761.6L860.6 760.7L861.1 760L861.7 759.4L862.3 758.7L862.9 758.3L863.5 757.9L864 757.8L864.6 757.9L865.2 758.1L865.8 758.6L866.3 759.8L866.9 761.7L867.5 762.9L868.1 762.3L868.7 760.6L869.2 759.6L869.8 759.9L870.4 761.1L871 762.1L871.6 762.4L872.1 761.9L872.7 760.7L873.3 758.9L873.9 757.5L874.4 757.3L875 757.8L875.6 758.1L876.2 757.9L876.8 757.9L877.3 758.6L877.9 758.8L878.5 757.8L879.1 756.8L879.7 757.3L880.2 758.6L880.8 759.5L881.4 759.6L882 759.3L882.6 759.2L883.1 759.3L883.7 759.3L884.3 759L884.9 758.7L885.4 758.7L886 758.7L886.6 758.2L887.2 757.2L887.8 756.8L888.3 757.5L888.9 758.5L889.5 758.5L890.1 757.7L890.7 757.6L891.2 758.3L891.8 759L892.4 759L893 758.8L893.5 758.6L894.1 757.9L894.7 756.9L895.3 756.5L895.9 756.9L896.4 757.4L897 757L897.6 756.8L898.2 757.3L898.8 757.8L899.3 757.6L899.9 756.9L900.5 756.9L901.1 757.4L901.7 757.6L902.2 757.2L902.8 756.9L903.4 757.2L904 757.8L904.5 757.8L905.1 756.6L905.7 755.3L906.3 755.1L906.9 755.4L907.4 755.5L908 755.5L908.6 755.9L909.2 756.4L909.8 756.3L910.3 756.6L910.9 758.3L911.5 760.3L912.1 760.8L912.7 759.5L913.2 757.7L913.8 756.9L914.4 757.2L915 757.8L915.5 758.4L916.1 758.6L916.7 757.8L917.3 755.7L917.9 754.2L918.4 754.4L919 755.2L919.6 755.1L920.2 755.1L920.8 756.3L921.3 758.2L921.9 759.2L922.5 759.1L923.1 758.4L923.6 756.6L924.2 755L924.8 755.1L925.4 756.6L926 757.1L926.5 755.7L927.1 753.9L927.7 753.1L928.3 753.5L928.9 754.6L929.4 756.1L930 757.4L930.6 758.2L931.2 758.1L931.8 757.8L932.3 757.5L932.9 757.5L933.5 757.6L934.1 757.2L934.6 756.4L935.2 756.1L935.8 756.2L936.4 755.5L937 754L937.5 753.1L938.1 753.3L938.7 753.5L939.3 753.8L939.9 754.6L940.4 755.4L941 755.6L941.6 755.7L942.2 755.9L942.7 756.2L943.3 756.4L943.9 756.5L944.5 756.1L945.1 755.3L945.6 754.6L946.2 754.4L946.8 754.7L947.4 755.1L948 755.6L948.5 756L949.1 756.4L949.7 757.1L950.3 757.7L950.9 757.8L951.4 757L952 756.1L952.6 756.1L953.2 756.7L953.7 757.4L954.3 757.2L954.9 756L955.5 754.5L956.1 753.4L956.6 753.2L957.2 753.6L957.8 753.7L958.4 753.2L959 752.6L959.5 752.9L960.1 753.3L960.7 753.4L961.3 753.9L961.8 755.1L962.4 755.9L963 755.7L963.6 754.9L964.2 754.7L964.7 755.3L965.3 756.5L965.9 757.3L966.5 756.9L967.1 755.9L967.6 755.5L968.2 755.5L968.8 755L969.4 754L970 752.9L970.5 752.3L971.1 752.6" stroke="#EC9670" stroke-width="4.1"/>
<path d="M539.4 189.2L540 190.9L540.6 192.5L541.1 194L541.7 195.5L542.3 197L542.9 198.3L543.5 199.7L544 201L544.6 202.2L545.2 203.4L545.8 204.5L546.4 205.6L546.9 206.6L547.5 207.6L548.1 208.6L548.7 209.5L549.2 210.4L549.8 211.3L550.4 212.1L551 212.9L551.6 213.6L552.1 214.3L552.7 215L553.3 215.7L553.9 216.3L554.5 216.9L555 217.5L555.6 218L556.2 218.5L556.8 219L557.3 219.5L557.9 220L558.5 220.4L559.1 220.8L559.7 221.2L560.2 221.6L560.8 221.9L561.4 222.3L562 222.6L562.6 222.9L563.1 223.2L563.7 223.4L564.3 223.7L564.9 223.9L565.5 224.2L566 224.4L566.6 224.6L567.2 224.8L567.8 224.9L568.3 225.1L568.9 225.3L569.5 225.4L570.1 225.5L570.7 225.7L571.2 225.8L571.8 225.9L572.4 226L573 226L573.6 226.1L574.1 226.2L574.7 226.3L575.3 226.3L575.9 226.4L576.4 226.4L577 226.4L577.6 226.5L578.2 226.5L578.8 226.5L579.3 226.5L579.9 226.5L580.5 226.5L581.1 226.5L581.7 226.5L582.2 226.5L582.8 226.5L583.4 226.5L584 226.4L584.6 226.4L585.1 226.4L585.7 226.3L586.3 226.3L586.9 226.3L587.4 226.2L588 226.2L588.6 226.1L589.2 226.1L589.8 226L590.3 226L590.9 225.9L591.5 225.8L592.1 225.8L592.7 225.7L593.2 225.7L593.8 225.6L594.4 225.5L595 225.4L595.5 225.4L596.1 225.3L596.7 225.2L597.3 225.1L599 224.9L600.8 224.7L602.5 224.4L604.2 224.2L606 223.9L607.7 223.6L609.4 223.4L611.2 223.1L612.9 222.8L614.6 222.6L616.4 222.3L618.1 222L619.9 221.8L621.6 221.5L623.3 221.3L625.1 221L626.8 220.7L628.5 220.5L630.3 220.2L632 220L633.7 219.8L635.5 219.5L637.2 219.3L639 219L640.7 218.8L642.4 218.6L644.2 218.4L645.9 218.2L647.6 217.9L649.4 217.7L651.1 217.5L652.8 217.3L654.6 217.1L656.3 216.9L658.1 216.7L659.8 216.5L661.5 216.3L663.3 216.1L665 216L666.7 215.8L668.5 215.6L670.2 215.4L671.9 215.2L673.7 215.1L675.4 214.9L677.2 214.7L678.9 214.6L680.6 214.4L682.4 214.3L684.1 214.1L685.8 213.9L687.6 213.8L689.3 213.6L691.1 213.5L692.8 213.3L694.5 213.2L696.3 213.1L698 212.9L699.7 212.8L701.5 212.6L703.2 212.5L704.9 212.4L706.7 212.2L708.4 212.1L710.2 212L711.9 211.8L713.6 211.7L715.4 211.6L717.1 211.5L718.8 211.3L720.6 211.2L722.3 211.1L724 211L725.8 210.9L727.5 210.7L729.3 210.6L731 210.5L732.7 210.4L734.5 210.3L736.2 210.2L737.9 210.1L739.7 210L741.4 209.9L743.1 209.8L744.9 209.7L746.6 209.6L748.4 209.5L750.1 209.4L751.8 209.3L753.6 209.2L755.3 209.1L757 209L758.8 208.9L760.5 208.8L762.2 208.7L764 208.6L765.7 208.5L767.5 208.4L769.2 208.3L770.9 208.2L772.7 208.1L774.4 208.1L776.1 208L777.9 207.9L779.6 207.8L781.3 207.7L783.1 207.6L784.8 207.6L786.6 207.5L788.3 207.4L790 207.3L791.8 207.2L793.5 207.2L795.2 207.1L797 207L798.7 206.9L800.4 206.9L802.2 206.8L803.9 206.7L805.7 206.6L807.4 206.6L809.1 206.5L810.9 206.4L812.6 206.4L814.3 206.3L816.1 206.2L817.8 206.1L819.5 206.1L821.3 206L823 205.9L824.8 205.9L826.5 205.8L828.2 205.8L830 205.7L831.7 205.6L833.4 205.6L835.2 205.5L836.9 205.4L838.6 205.4L840.4 205.3L842.1 205.3L843.9 205.2L845.6 205.2L847.3 205.1L849.1 205L850.8 205L852.5 204.9L854.3 204.9L856 204.8L857.7 204.8L859.5 204.7L861.2 204.7L863 204.6L864.7 204.6L866.4 204.5L868.2 204.5L869.9 204.4L871.6 204.4L873.4 204.3L875.1 204.3L876.8 204.2L878.6 204.2L880.3 204.1L882.1 204.1L883.8 204L885.5 204L887.3 203.9L889 203.9L890.7 203.8L892.5 203.8L894.2 203.8L895.9 203.7L897.7 203.7L899.4 203.6L901.2 203.6L902.9 203.5L904.6 203.5L906.4 203.5L908.1 203.4L909.8 203.4L911.6 203.3L913.3 203.3L915 203.3L916.8 203.2L918.5 203.2L920.3 203.2L922 203.1L923.7 203.1L925.5 203L927.2 203L928.9 203L930.7 202.9L932.4 202.9L934.1 202.9L935.9 202.8L937.6 202.8L939.4 202.8L941.1 202.7L942.8 202.7L944.6 202.7L946.3 202.6L948 202.6L949.8 202.6L951.5 202.5L953.2 202.5L955 202.5L956.7 202.5L958.5 202.4L960.2 202.4L961.9 202.4L963.7 202.3L965.4 202.3L967.1 202.3L968.9 202.2L970.6 202.2L970.9 202.2" stroke="#000" stroke-width="3.2" stroke-linecap="butt"/>
<path d="M539.4 275.3L540 277L540.6 278.7L541.1 280.3L541.7 281.8L542.3 283.3L542.9 284.7L543.5 286.1L544 287.4L544.6 288.7L545.2 290L545.8 291.2L546.4 292.3L546.9 293.5L547.5 294.5L548.1 295.6L548.7 296.6L549.2 297.6L549.8 298.5L550.4 299.4L551 300.2L551.6 301.1L552.1 301.9L552.7 302.7L553.3 303.4L553.9 304.1L554.5 304.8L555 305.5L555.6 306.1L556.2 306.7L556.8 307.3L557.3 307.9L557.9 308.4L558.5 308.9L559.1 309.4L559.7 309.9L560.2 310.4L560.8 310.8L561.4 311.2L562 311.6L562.6 312L563.1 312.4L563.7 312.7L564.3 313.1L564.9 313.4L565.5 313.7L566 314L566.6 314.3L567.2 314.5L567.8 314.8L568.3 315L568.9 315.3L569.5 315.5L570.1 315.7L570.7 315.9L571.2 316.1L571.8 316.2L572.4 316.4L573 316.6L573.6 316.7L574.1 316.8L574.7 317L575.3 317.1L575.9 317.2L576.4 317.3L577 317.4L577.6 317.5L578.2 317.6L578.8 317.7L579.3 317.7L579.9 317.8L580.5 317.9L581.1 317.9L581.7 318L582.2 318L582.8 318.1L583.4 318.1L584 318.1L584.6 318.1L585.1 318.2L585.7 318.2L586.3 318.2L586.9 318.2L587.4 318.2L588 318.2L588.6 318.2L589.2 318.2L589.8 318.2L590.3 318.2L590.9 318.2L591.5 318.1L592.1 318.1L592.7 318.1L593.2 318.1L593.8 318L594.4 318L595 318L595.5 317.9L596.1 317.9L596.7 317.9L597.3 317.8L599 317.7L600.8 317.6L602.5 317.4L604.2 317.2L606 317.1L607.7 316.9L609.4 316.7L611.2 316.5L612.9 316.3L614.6 316.1L616.4 315.9L618.1 315.7L619.9 315.5L621.6 315.3L623.3 315.1L625.1 314.9L626.8 314.7L628.5 314.5L630.3 314.3L632 314.1L633.7 313.9L635.5 313.7L637.2 313.5L639 313.3L640.7 313.1L642.4 313L644.2 312.8L645.9 312.6L647.6 312.4L649.4 312.2L651.1 312.1L652.8 311.9L654.6 311.7L656.3 311.5L658.1 311.4L659.8 311.2L661.5 311.1L663.3 310.9L665 310.7L666.7 310.6L668.5 310.4L670.2 310.3L671.9 310.1L673.7 310L675.4 309.9L677.2 309.7L678.9 309.6L680.6 309.4L682.4 309.3L684.1 309.2L685.8 309L687.6 308.9L689.3 308.8L691.1 308.6L692.8 308.5L694.5 308.4L696.3 308.3L698 308.1L699.7 308L701.5 307.9L703.2 307.8L704.9 307.7L706.7 307.5L708.4 307.4L710.2 307.3L711.9 307.2L713.6 307.1L715.4 307L717.1 306.9L718.8 306.8L720.6 306.6L722.3 306.5L724 306.4L725.8 306.3L727.5 306.2L729.3 306.1L731 306L732.7 305.9L734.5 305.8L736.2 305.7L737.9 305.6L739.7 305.5L741.4 305.4L743.1 305.3L744.9 305.2L746.6 305.1L748.4 305L750.1 304.9L751.8 304.8L753.6 304.7L755.3 304.6L757 304.6L758.8 304.5L760.5 304.4L762.2 304.3L764 304.2L765.7 304.1L767.5 304L769.2 303.9L770.9 303.8L772.7 303.7L774.4 303.7L776.1 303.6L777.9 303.5L779.6 303.4L781.3 303.3L783.1 303.2L784.8 303.2L786.6 303.1L788.3 303L790 302.9L791.8 302.8L793.5 302.7L795.2 302.7L797 302.6L798.7 302.5L800.4 302.4L802.2 302.3L803.9 302.3L805.7 302.2L807.4 302.1L809.1 302L810.9 302L812.6 301.9L814.3 301.8L816.1 301.7L817.8 301.7L819.5 301.6L821.3 301.5L823 301.4L824.8 301.4L826.5 301.3L828.2 301.2L830 301.2L831.7 301.1L833.4 301L835.2 300.9L836.9 300.9L838.6 300.8L840.4 300.7L842.1 300.7L843.9 300.6L845.6 300.5L847.3 300.5L849.1 300.4L850.8 300.3L852.5 300.3L854.3 300.2L856 300.1L857.7 300.1L859.5 300L861.2 299.9L863 299.9L864.7 299.8L866.4 299.7L868.2 299.7L869.9 299.6L871.6 299.6L873.4 299.5L875.1 299.4L876.8 299.4L878.6 299.3L880.3 299.2L882.1 299.2L883.8 299.1L885.5 299.1L887.3 299L889 298.9L890.7 298.9L892.5 298.8L894.2 298.8L895.9 298.7L897.7 298.7L899.4 298.6L901.2 298.5L902.9 298.5L904.6 298.4L906.4 298.4L908.1 298.3L909.8 298.3L911.6 298.2L913.3 298.2L915 298.1L916.8 298L918.5 298L920.3 297.9L922 297.9L923.7 297.8L925.5 297.8L927.2 297.7L928.9 297.7L930.7 297.6L932.4 297.6L934.1 297.5L935.9 297.5L937.6 297.4L939.4 297.4L941.1 297.3L942.8 297.3L944.6 297.2L946.3 297.2L948 297.1L949.8 297.1L951.5 297L953.2 297L955 296.9L956.7 296.9L958.5 296.8L960.2 296.8L961.9 296.8L963.7 296.7L965.4 296.7L967.1 296.6L968.9 296.6L970.6 296.5L970.9 296.5" stroke="#000" stroke-width="3.2" stroke-linecap="butt"/>
<path d="M540.3 364.6L540.9 366.2L541.4 367.8L542 369.3L542.6 370.8L543.2 372.2L543.7 373.6L544.3 375L544.9 376.3L545.5 377.6L546.1 378.8L546.6 380L547.2 381.1L547.8 382.3L548.4 383.3L549 384.4L549.5 385.4L550.1 386.4L550.7 387.3L551.3 388.2L551.8 389.1L552.4 390L553 390.8L553.6 391.6L554.2 392.4L554.7 393.1L555.3 393.9L555.9 394.6L556.5 395.2L557.1 395.9L557.6 396.5L558.2 397.1L558.8 397.7L559.4 398.3L560 398.8L560.5 399.3L561.1 399.8L561.7 400.3L562.3 400.8L562.8 401.2L563.4 401.7L564 402.1L564.6 402.5L565.2 402.9L565.7 403.3L566.3 403.6L566.9 404L567.5 404.3L568.1 404.6L568.6 404.9L569.2 405.2L569.8 405.5L570.4 405.7L570.9 406L571.5 406.2L572.1 406.5L572.7 406.7L573.3 406.9L573.8 407.1L574.4 407.3L575 407.5L575.6 407.7L576.2 407.8L576.7 408L577.3 408.1L577.9 408.3L578.5 408.4L579.1 408.5L579.6 408.7L580.2 408.8L580.8 408.9L581.4 409L581.9 409.1L582.5 409.2L583.1 409.2L583.7 409.3L584.3 409.4L584.8 409.5L585.4 409.5L586 409.6L586.6 409.6L587.2 409.7L587.7 409.7L588.3 409.7L588.9 409.8L589.5 409.8L590 409.8L590.6 409.8L591.2 409.9L591.8 409.9L592.4 409.9L592.9 409.9L593.5 409.9L594.1 409.9L594.7 409.9L595.3 409.9L595.8 409.9L596.4 409.9L597 409.9L597.6 409.8L598.2 409.8L599.9 409.8L601.6 409.7L603.4 409.6L605.1 409.4L606.8 409.3L608.6 409.2L610.3 409L612 408.9L613.8 408.7L615.5 408.5L617.3 408.3L619 408.2L620.7 408L622.5 407.8L624.2 407.6L625.9 407.4L627.7 407.2L629.4 407L631.1 406.8L632.9 406.6L634.6 406.4L636.4 406.2L638.1 406L639.8 405.8L641.6 405.6L643.3 405.4L645 405.2L646.8 405.1L648.5 404.9L650.2 404.7L652 404.5L653.7 404.3L655.5 404.1L657.2 404L658.9 403.8L660.7 403.6L662.4 403.4L664.1 403.3L665.9 403.1L667.6 402.9L669.3 402.8L671.1 402.6L672.8 402.4L674.6 402.3L676.3 402.1L678 402L679.8 401.8L681.5 401.7L683.2 401.5L685 401.4L686.7 401.2L688.4 401.1L690.2 400.9L691.9 400.8L693.7 400.6L695.4 400.5L697.1 400.4L698.9 400.2L700.6 400.1L702.3 400L704.1 399.8L705.8 399.7L707.5 399.6L709.3 399.4L711 399.3L712.8 399.2L714.5 399L716.2 398.9L718 398.8L719.7 398.7L721.4 398.6L723.2 398.4L724.9 398.3L726.6 398.2L728.4 398.1L730.1 398L731.9 397.9L733.6 397.7L735.3 397.6L737.1 397.5L738.8 397.4L740.5 397.3L742.3 397.2L744 397.1L745.7 397L747.5 396.8L749.2 396.7L751 396.6L752.7 396.5L754.4 396.4L756.2 396.3L757.9 396.2L759.6 396.1L761.4 396L763.1 395.9L764.8 395.8L766.6 395.7L768.3 395.6L770.1 395.5L771.8 395.4L773.5 395.3L775.3 395.2L777 395.1L778.7 395L780.5 394.9L782.2 394.8L783.9 394.7L785.7 394.6L787.4 394.5L789.2 394.4L790.9 394.3L792.6 394.2L794.4 394.1L796.1 394.1L797.8 394L799.6 393.9L801.3 393.8L803 393.7L804.8 393.6L806.5 393.5L808.3 393.4L810 393.3L811.7 393.2L813.5 393.1L815.2 393.1L816.9 393L818.7 392.9L820.4 392.8L822.1 392.7L823.9 392.6L825.6 392.5L827.4 392.5L829.1 392.4L830.8 392.3L832.6 392.2L834.3 392.1L836 392L837.8 391.9L839.5 391.9L841.2 391.8L843 391.7L844.7 391.6L846.5 391.5L848.2 391.5L849.9 391.4L851.7 391.3L853.4 391.2L855.1 391.1L856.9 391.1L858.6 391L860.3 390.9L862.1 390.8L863.8 390.7L865.6 390.7L867.3 390.6L869 390.5L870.8 390.4L872.5 390.4L874.2 390.3L876 390.2L877.7 390.1L879.4 390.1L881.2 390L882.9 389.9L884.7 389.8L886.4 389.8L888.1 389.7L889.9 389.6L891.6 389.5L893.3 389.5L895.1 389.4L896.8 389.3L898.5 389.3L900.3 389.2L902 389.1L903.8 389L905.5 389L907.2 388.9L909 388.8L910.7 388.8L912.4 388.7L914.2 388.6L915.9 388.6L917.7 388.5L919.4 388.4L921.1 388.4L922.9 388.3L924.6 388.2L926.3 388.2L928.1 388.1L929.8 388L931.5 388L933.3 387.9L935 387.8L936.8 387.8L938.5 387.7L940.2 387.6L942 387.6L943.7 387.5L945.4 387.4L947.2 387.4L948.9 387.3L950.6 387.2L952.4 387.2L954.1 387.1L955.9 387.1L957.6 387L959.3 386.9L961.1 386.9L962.8 386.8L964.5 386.8L966.3 386.7L968 386.6L969.7 386.6L970.9 386.5" stroke="#000" stroke-width="3.2" stroke-linecap="butt"/>
<path d="M544.9 462.2L545.5 463.5L546.1 464.8L546.6 466L547.2 467.2L547.8 468.4L548.4 469.6L549 470.7L549.5 471.7L550.1 472.8L550.7 473.8L551.3 474.8L551.8 475.8L552.4 476.7L553 477.6L553.6 478.5L554.2 479.3L554.7 480.1L555.3 480.9L555.9 481.7L556.5 482.5L557.1 483.2L557.6 483.9L558.2 484.6L558.8 485.3L559.4 485.9L560 486.5L560.5 487.1L561.1 487.7L561.7 488.3L562.3 488.8L562.8 489.4L563.4 489.9L564 490.4L564.6 490.9L565.2 491.3L565.7 491.8L566.3 492.2L566.9 492.6L567.5 493L568.1 493.4L568.6 493.8L569.2 494.2L569.8 494.5L570.4 494.9L570.9 495.2L571.5 495.5L572.1 495.8L572.7 496.1L573.3 496.4L573.8 496.7L574.4 496.9L575 497.2L575.6 497.4L576.2 497.7L576.7 497.9L577.3 498.1L577.9 498.3L578.5 498.5L579.1 498.7L579.6 498.9L580.2 499.1L580.8 499.2L581.4 499.4L581.9 499.5L582.5 499.7L583.1 499.8L583.7 499.9L584.3 500.1L584.8 500.2L585.4 500.3L586 500.4L586.6 500.5L587.2 500.6L587.7 500.7L588.3 500.8L588.9 500.9L589.5 500.9L590 501L590.6 501.1L591.2 501.1L591.8 501.2L592.4 501.2L592.9 501.3L593.5 501.3L594.1 501.4L594.7 501.4L595.3 501.4L595.8 501.5L596.4 501.5L597 501.5L597.6 501.5L598.2 501.5L598.7 501.6L599.3 501.6L599.9 501.6L600.5 501.6L601 501.6L601.6 501.6L602.2 501.6L602.8 501.6L604.5 501.5L606.3 501.5L608 501.4L609.7 501.3L611.5 501.2L613.2 501.1L614.9 501L616.7 500.9L618.4 500.7L620.1 500.6L621.9 500.4L623.6 500.3L625.4 500.1L627.1 499.9L628.8 499.7L630.6 499.6L632.3 499.4L634 499.2L635.8 499L637.5 498.8L639.2 498.6L641 498.4L642.7 498.2L644.5 498L646.2 497.9L647.9 497.7L649.7 497.5L651.4 497.3L653.1 497.1L654.9 496.9L656.6 496.7L658.3 496.5L660.1 496.3L661.8 496.2L663.6 496L665.3 495.8L667 495.6L668.8 495.4L670.5 495.3L672.2 495.1L674 494.9L675.7 494.7L677.4 494.6L679.2 494.4L680.9 494.2L682.7 494.1L684.4 493.9L686.1 493.7L687.9 493.6L689.6 493.4L691.3 493.3L693.1 493.1L694.8 493L696.5 492.8L698.3 492.7L700 492.5L701.8 492.4L703.5 492.2L705.2 492.1L707 491.9L708.7 491.8L710.4 491.6L712.2 491.5L713.9 491.4L715.6 491.2L717.4 491.1L719.1 491L720.9 490.8L722.6 490.7L724.3 490.6L726.1 490.4L727.8 490.3L729.5 490.2L731.3 490L733 489.9L734.7 489.8L736.5 489.7L738.2 489.5L740 489.4L741.7 489.3L743.4 489.2L745.2 489.1L746.9 488.9L748.6 488.8L750.4 488.7L752.1 488.6L753.8 488.5L755.6 488.3L757.3 488.2L759.1 488.1L760.8 488L762.5 487.9L764.3 487.8L766 487.7L767.7 487.6L769.5 487.5L771.2 487.3L773 487.2L774.7 487.1L776.4 487L778.2 486.9L779.9 486.8L781.6 486.7L783.4 486.6L785.1 486.5L786.8 486.4L788.6 486.3L790.3 486.2L792.1 486.1L793.8 486L795.5 485.9L797.3 485.8L799 485.7L800.7 485.6L802.5 485.5L804.2 485.4L805.9 485.3L807.7 485.2L809.4 485.1L811.2 485L812.9 484.9L814.6 484.8L816.4 484.7L818.1 484.6L819.8 484.5L821.6 484.5L823.3 484.4L825 484.3L826.8 484.2L828.5 484.1L830.3 484L832 483.9L833.7 483.8L835.5 483.7L837.2 483.6L838.9 483.6L840.7 483.5L842.4 483.4L844.1 483.3L845.9 483.2L847.6 483.1L849.4 483L851.1 482.9L852.8 482.9L854.6 482.8L856.3 482.7L858 482.6L859.8 482.5L861.5 482.4L863.2 482.4L865 482.3L866.7 482.2L868.5 482.1L870.2 482L871.9 482L873.7 481.9L875.4 481.8L877.1 481.7L878.9 481.6L880.6 481.6L882.3 481.5L884.1 481.4L885.8 481.3L887.6 481.2L889.3 481.2L891 481.1L892.8 481L894.5 480.9L896.2 480.9L898 480.8L899.7 480.7L901.4 480.6L903.2 480.6L904.9 480.5L906.7 480.4L908.4 480.3L910.1 480.3L911.9 480.2L913.6 480.1L915.3 480L917.1 480L918.8 479.9L920.5 479.8L922.3 479.8L924 479.7L925.8 479.6L927.5 479.6L929.2 479.5L931 479.4L932.7 479.3L934.4 479.3L936.2 479.2L937.9 479.1L939.6 479.1L941.4 479L943.1 478.9L944.9 478.9L946.6 478.8L948.3 478.7L950.1 478.7L951.8 478.6L953.5 478.5L955.3 478.5L957 478.4L958.7 478.3L960.5 478.3L962.2 478.2L964 478.2L965.7 478.1L967.4 478L969.2 478L970.9 477.9" stroke="#000" stroke-width="3.2" stroke-linecap="butt"/>
<path d="M547.2 553.6L547.8 554.8L548.4 556L549 557.2L549.5 558.3L550.1 559.4L550.7 560.5L551.3 561.6L551.8 562.6L552.4 563.6L553 564.5L553.6 565.5L554.2 566.4L554.7 567.3L555.3 568.2L555.9 569L556.5 569.8L557.1 570.6L557.6 571.4L558.2 572.2L558.8 572.9L559.4 573.6L560 574.3L560.5 575L561.1 575.6L561.7 576.3L562.3 576.9L562.8 577.5L563.4 578.1L564 578.6L564.6 579.2L565.2 579.7L565.7 580.2L566.3 580.7L566.9 581.2L567.5 581.7L568.1 582.2L568.6 582.6L569.2 583L569.8 583.5L570.4 583.9L570.9 584.3L571.5 584.6L572.1 585L572.7 585.4L573.3 585.7L573.8 586L574.4 586.4L575 586.7L575.6 587L576.2 587.3L576.7 587.6L577.3 587.8L577.9 588.1L578.5 588.4L579.1 588.6L579.6 588.8L580.2 589.1L580.8 589.3L581.4 589.5L581.9 589.7L582.5 589.9L583.1 590.1L583.7 590.3L584.3 590.4L584.8 590.6L585.4 590.8L586 590.9L586.6 591.1L587.2 591.2L587.7 591.3L588.3 591.5L588.9 591.6L589.5 591.7L590 591.8L590.6 591.9L591.2 592L591.8 592.1L592.4 592.2L592.9 592.3L593.5 592.4L594.1 592.5L594.7 592.6L595.3 592.6L595.8 592.7L596.4 592.7L597 592.8L597.6 592.9L598.2 592.9L598.7 593L599.3 593L599.9 593L600.5 593.1L601 593.1L601.6 593.1L602.2 593.2L602.8 593.2L603.4 593.2L603.9 593.2L604.5 593.2L605.1 593.2L606.8 593.3L608.6 593.3L610.3 593.2L612 593.2L613.8 593.2L615.5 593.1L617.3 593L619 592.9L620.7 592.8L622.5 592.7L624.2 592.5L625.9 592.4L627.7 592.3L629.4 592.1L631.1 592L632.9 591.8L634.6 591.6L636.4 591.5L638.1 591.3L639.8 591.1L641.6 590.9L643.3 590.8L645 590.6L646.8 590.4L648.5 590.2L650.2 590L652 589.8L653.7 589.6L655.5 589.4L657.2 589.3L658.9 589.1L660.7 588.9L662.4 588.7L664.1 588.5L665.9 588.3L667.6 588.1L669.3 587.9L671.1 587.8L672.8 587.6L674.6 587.4L676.3 587.2L678 587L679.8 586.9L681.5 586.7L683.2 586.5L685 586.3L686.7 586.2L688.4 586L690.2 585.8L691.9 585.6L693.7 585.5L695.4 585.3L697.1 585.1L698.9 585L700.6 584.8L702.3 584.7L704.1 584.5L705.8 584.3L707.5 584.2L709.3 584L711 583.9L712.8 583.7L714.5 583.6L716.2 583.4L718 583.3L719.7 583.1L721.4 583L723.2 582.8L724.9 582.7L726.6 582.5L728.4 582.4L730.1 582.3L731.9 582.1L733.6 582L735.3 581.9L737.1 581.7L738.8 581.6L740.5 581.4L742.3 581.3L744 581.2L745.7 581.1L747.5 580.9L749.2 580.8L751 580.7L752.7 580.5L754.4 580.4L756.2 580.3L757.9 580.2L759.6 580L761.4 579.9L763.1 579.8L764.8 579.7L766.6 579.6L768.3 579.4L770.1 579.3L771.8 579.2L773.5 579.1L775.3 579L777 578.8L778.7 578.7L780.5 578.6L782.2 578.5L783.9 578.4L785.7 578.3L787.4 578.2L789.2 578.1L790.9 577.9L792.6 577.8L794.4 577.7L796.1 577.6L797.8 577.5L799.6 577.4L801.3 577.3L803 577.2L804.8 577.1L806.5 577L808.3 576.9L810 576.8L811.7 576.7L813.5 576.6L815.2 576.5L816.9 576.4L818.7 576.3L820.4 576.2L822.1 576.1L823.9 576L825.6 575.9L827.4 575.8L829.1 575.7L830.8 575.6L832.6 575.5L834.3 575.4L836 575.3L837.8 575.2L839.5 575.1L841.2 575L843 574.9L844.7 574.8L846.5 574.8L848.2 574.7L849.9 574.6L851.7 574.5L853.4 574.4L855.1 574.3L856.9 574.2L858.6 574.1L860.3 574L862.1 574L863.8 573.9L865.6 573.8L867.3 573.7L869 573.6L870.8 573.5L872.5 573.4L874.2 573.4L876 573.3L877.7 573.2L879.4 573.1L881.2 573L882.9 572.9L884.7 572.9L886.4 572.8L888.1 572.7L889.9 572.6L891.6 572.5L893.3 572.5L895.1 572.4L896.8 572.3L898.5 572.2L900.3 572.1L902 572.1L903.8 572L905.5 571.9L907.2 571.8L909 571.8L910.7 571.7L912.4 571.6L914.2 571.5L915.9 571.5L917.7 571.4L919.4 571.3L921.1 571.2L922.9 571.2L924.6 571.1L926.3 571L928.1 571L929.8 570.9L931.5 570.8L933.3 570.7L935 570.7L936.8 570.6L938.5 570.5L940.2 570.5L942 570.4L943.7 570.3L945.4 570.3L947.2 570.2L948.9 570.1L950.6 570.1L952.4 570L954.1 569.9L955.9 569.9L957.6 569.8L959.3 569.7L961.1 569.7L962.8 569.6L964.5 569.5L966.3 569.5L968 569.4L969.7 569.3L970.9 569.3" stroke="#000" stroke-width="3.2" stroke-linecap="butt"/>
<path d="M548.4 640.2L549 641.5L549.5 642.7L550.1 643.9L550.7 645.1L551.3 646.2L551.8 647.3L552.4 648.4L553 649.5L553.6 650.5L554.2 651.5L554.7 652.5L555.3 653.5L555.9 654.4L556.5 655.3L557.1 656.2L557.6 657.1L558.2 657.9L558.8 658.8L559.4 659.6L560 660.4L560.5 661.1L561.1 661.9L561.7 662.6L562.3 663.3L562.8 664L563.4 664.7L564 665.3L564.6 666L565.2 666.6L565.7 667.2L566.3 667.8L566.9 668.4L567.5 668.9L568.1 669.5L568.6 670L569.2 670.5L569.8 671L570.4 671.5L570.9 672L571.5 672.5L572.1 672.9L572.7 673.3L573.3 673.8L573.8 674.2L574.4 674.6L575 675L575.6 675.3L576.2 675.7L576.7 676.1L577.3 676.4L577.9 676.8L578.5 677.1L579.1 677.4L579.6 677.7L580.2 678L580.8 678.3L581.4 678.6L581.9 678.9L582.5 679.1L583.1 679.4L583.7 679.6L584.3 679.9L584.8 680.1L585.4 680.3L586 680.5L586.6 680.7L587.2 680.9L587.7 681.1L588.3 681.3L588.9 681.5L589.5 681.7L590 681.9L590.6 682L591.2 682.2L591.8 682.3L592.4 682.5L592.9 682.6L593.5 682.8L594.1 682.9L594.7 683L595.3 683.1L595.8 683.2L596.4 683.4L597 683.5L597.6 683.6L598.2 683.7L598.7 683.8L599.3 683.8L599.9 683.9L600.5 684L601 684.1L601.6 684.2L602.2 684.2L602.8 684.3L603.4 684.3L603.9 684.4L604.5 684.5L605.1 684.5L605.7 684.6L606.3 684.6L608 684.7L609.7 684.8L611.5 684.9L613.2 684.9L614.9 685L616.7 685L618.4 684.9L620.1 684.9L621.9 684.9L623.6 684.8L625.4 684.8L627.1 684.7L628.8 684.6L630.6 684.5L632.3 684.4L634 684.3L635.8 684.2L637.5 684L639.2 683.9L641 683.8L642.7 683.6L644.5 683.5L646.2 683.3L647.9 683.2L649.7 683L651.4 682.8L653.1 682.7L654.9 682.5L656.6 682.3L658.3 682.2L660.1 682L661.8 681.8L663.6 681.7L665.3 681.5L667 681.3L668.8 681.1L670.5 681L672.2 680.8L674 680.6L675.7 680.5L677.4 680.3L679.2 680.1L680.9 679.9L682.7 679.8L684.4 679.6L686.1 679.4L687.9 679.3L689.6 679.1L691.3 678.9L693.1 678.8L694.8 678.6L696.5 678.4L698.3 678.3L700 678.1L701.8 677.9L703.5 677.8L705.2 677.6L707 677.5L708.7 677.3L710.4 677.1L712.2 677L713.9 676.8L715.6 676.7L717.4 676.5L719.1 676.4L720.9 676.2L722.6 676.1L724.3 675.9L726.1 675.8L727.8 675.6L729.5 675.5L731.3 675.3L733 675.2L734.7 675.1L736.5 674.9L738.2 674.8L740 674.6L741.7 674.5L743.4 674.3L745.2 674.2L746.9 674.1L748.6 673.9L750.4 673.8L752.1 673.7L753.8 673.5L755.6 673.4L757.3 673.3L759.1 673.1L760.8 673L762.5 672.9L764.3 672.7L766 672.6L767.7 672.5L769.5 672.3L771.2 672.2L773 672.1L774.7 672L776.4 671.8L778.2 671.7L779.9 671.6L781.6 671.5L783.4 671.3L785.1 671.2L786.8 671.1L788.6 671L790.3 670.8L792.1 670.7L793.8 670.6L795.5 670.5L797.3 670.4L799 670.2L800.7 670.1L802.5 670L804.2 669.9L805.9 669.8L807.7 669.6L809.4 669.5L811.2 669.4L812.9 669.3L814.6 669.2L816.4 669.1L818.1 668.9L819.8 668.8L821.6 668.7L823.3 668.6L825 668.5L826.8 668.4L828.5 668.3L830.3 668.2L832 668L833.7 667.9L835.5 667.8L837.2 667.7L838.9 667.6L840.7 667.5L842.4 667.4L844.1 667.3L845.9 667.2L847.6 667L849.4 666.9L851.1 666.8L852.8 666.7L854.6 666.6L856.3 666.5L858 666.4L859.8 666.3L861.5 666.2L863.2 666.1L865 666L866.7 665.9L868.5 665.8L870.2 665.7L871.9 665.6L873.7 665.5L875.4 665.3L877.1 665.2L878.9 665.1L880.6 665L882.3 664.9L884.1 664.8L885.8 664.7L887.6 664.6L889.3 664.5L891 664.4L892.8 664.3L894.5 664.2L896.2 664.1L898 664L899.7 663.9L901.4 663.8L903.2 663.7L904.9 663.6L906.7 663.5L908.4 663.4L910.1 663.3L911.9 663.2L913.6 663.1L915.3 663L917.1 662.9L918.8 662.8L920.5 662.7L922.3 662.6L924 662.6L925.8 662.5L927.5 662.4L929.2 662.3L931 662.2L932.7 662.1L934.4 662L936.2 661.9L937.9 661.8L939.6 661.7L941.4 661.6L943.1 661.5L944.9 661.4L946.6 661.3L948.3 661.2L950.1 661.1L951.8 661L953.5 661L955.3 660.9L957 660.8L958.7 660.7L960.5 660.6L962.2 660.5L964 660.4L965.7 660.3L967.4 660.2L969.2 660.1L970.9 660" stroke="#000" stroke-width="3.2" stroke-linecap="butt"/>
<path d="M546.6 735.7L547.2 736.6L547.8 737.5L548.4 738.4L549 739.2L549.5 740.1L550.1 740.9L550.7 741.7L551.3 742.5L551.8 743.3L552.4 744.1L553 744.9L553.6 745.6L554.2 746.3L554.7 747L555.3 747.7L555.9 748.4L556.5 749.1L557.1 749.8L557.6 750.4L558.2 751L558.8 751.7L559.4 752.3L560 752.9L560.5 753.5L561.1 754L561.7 754.6L562.3 755.2L562.8 755.7L563.4 756.2L564 756.7L564.6 757.2L565.2 757.7L565.7 758.2L566.3 758.7L566.9 759.2L567.5 759.6L568.1 760.1L568.6 760.5L569.2 761L569.8 761.4L570.4 761.8L570.9 762.2L571.5 762.6L572.1 763L572.7 763.4L573.3 763.7L573.8 764.1L574.4 764.4L575 764.8L575.6 765.1L576.2 765.5L576.7 765.8L577.3 766.1L577.9 766.4L578.5 766.7L579.1 767L579.6 767.3L580.2 767.6L580.8 767.9L581.4 768.1L581.9 768.4L582.5 768.7L583.1 768.9L583.7 769.2L584.3 769.4L584.8 769.6L585.4 769.9L586 770.1L586.6 770.3L587.2 770.5L587.7 770.7L588.3 771L588.9 771.1L589.5 771.3L590 771.5L590.6 771.7L591.2 771.9L591.8 772.1L592.4 772.2L592.9 772.4L593.5 772.6L594.1 772.7L594.7 772.9L595.3 773L595.8 773.2L596.4 773.3L597 773.5L597.6 773.6L598.2 773.7L598.7 773.8L599.3 774L599.9 774.1L600.5 774.2L601 774.3L601.6 774.4L602.2 774.5L602.8 774.6L603.4 774.7L603.9 774.8L604.5 774.9L606.3 775.2L608 775.4L609.7 775.6L611.5 775.8L613.2 776L614.9 776.1L616.7 776.2L618.4 776.3L620.1 776.4L621.9 776.5L623.6 776.6L625.4 776.6L627.1 776.6L628.8 776.7L630.6 776.7L632.3 776.7L634 776.6L635.8 776.6L637.5 776.6L639.2 776.5L641 776.5L642.7 776.4L644.5 776.3L646.2 776.3L647.9 776.2L649.7 776.1L651.4 776L653.1 775.9L654.9 775.8L656.6 775.7L658.3 775.6L660.1 775.4L661.8 775.3L663.6 775.2L665.3 775.1L667 774.9L668.8 774.8L670.5 774.7L672.2 774.5L674 774.4L675.7 774.2L677.4 774.1L679.2 773.9L680.9 773.8L682.7 773.6L684.4 773.5L686.1 773.3L687.9 773.2L689.6 773L691.3 772.9L693.1 772.7L694.8 772.6L696.5 772.4L698.3 772.2L700 772.1L701.8 771.9L703.5 771.8L705.2 771.6L707 771.5L708.7 771.3L710.4 771.1L712.2 771L713.9 770.8L715.6 770.7L717.4 770.5L719.1 770.4L720.9 770.2L722.6 770.1L724.3 769.9L726.1 769.7L727.8 769.6L729.5 769.4L731.3 769.3L733 769.1L734.7 769L736.5 768.8L738.2 768.7L740 768.5L741.7 768.4L743.4 768.2L745.2 768.1L746.9 767.9L748.6 767.8L750.4 767.6L752.1 767.5L753.8 767.4L755.6 767.2L757.3 767.1L759.1 766.9L760.8 766.8L762.5 766.7L764.3 766.5L766 766.4L767.7 766.2L769.5 766.1L771.2 766L773 765.8L774.7 765.7L776.4 765.6L778.2 765.4L779.9 765.3L781.6 765.2L783.4 765L785.1 764.9L786.8 764.8L788.6 764.6L790.3 764.5L792.1 764.4L793.8 764.3L795.5 764.1L797.3 764L799 763.9L800.7 763.8L802.5 763.6L804.2 763.5L805.9 763.4L807.7 763.3L809.4 763.2L811.2 763L812.9 762.9L814.6 762.8L816.4 762.7L818.1 762.6L819.8 762.5L821.6 762.3L823.3 762.2L825 762.1L826.8 762L828.5 761.9L830.3 761.8L832 761.7L833.7 761.5L835.5 761.4L837.2 761.3L838.9 761.2L840.7 761.1L842.4 761L844.1 760.9L845.9 760.8L847.6 760.7L849.4 760.6L851.1 760.5L852.8 760.3L854.6 760.2L856.3 760.1L858 760L859.8 759.9L861.5 759.8L863.2 759.7L865 759.6L866.7 759.5L868.5 759.4L870.2 759.3L871.9 759.2L873.7 759.1L875.4 759L877.1 758.9L878.9 758.8L880.6 758.7L882.3 758.6L884.1 758.5L885.8 758.4L887.6 758.3L889.3 758.2L891 758.1L892.8 758L894.5 757.9L896.2 757.9L898 757.8L899.7 757.7L901.4 757.6L903.2 757.5L904.9 757.4L906.7 757.3L908.4 757.2L910.1 757.1L911.9 757L913.6 756.9L915.3 756.8L917.1 756.7L918.8 756.7L920.5 756.6L922.3 756.5L924 756.4L925.8 756.3L927.5 756.2L929.2 756.1L931 756L932.7 755.9L934.4 755.9L936.2 755.8L937.9 755.7L939.6 755.6L941.4 755.5L943.1 755.4L944.9 755.3L946.6 755.2L948.3 755.2L950.1 755.1L951.8 755L953.5 754.9L955.3 754.8L957 754.7L958.7 754.6L960.5 754.6L962.2 754.5L964 754.4L965.7 754.3L967.4 754.2L969.2 754.1L970.9 754.1" stroke="#000" stroke-width="3.2" stroke-linecap="butt"/>
</g>
<rect x="531.8" y="76.0" width="439.1" height="765.0" fill="none" stroke="#000" stroke-width="2.1"/>
<path d="M536.8 841.0v7.6M623.6 841.0v7.6M710.4 841.0v7.6M797.3 841.0v7.6M884.1 841.0v7.6M970.9 841.0v7.6" stroke="#000" stroke-width="2.1" fill="none"/>
<text transform="translate(536.8 880.4) scale(0.994 1.11)" font-size="34" text-anchor="middle">0</text>
<text transform="translate(623.6 880.4) scale(0.994 1.11)" font-size="34" text-anchor="middle">15</text>
<text transform="translate(710.4 880.4) scale(0.994 1.11)" font-size="34" text-anchor="middle">30</text>
<text transform="translate(797.3 880.4) scale(0.994 1.11)" font-size="34" text-anchor="middle">45</text>
<text transform="translate(884.1 880.4) scale(0.994 1.11)" font-size="34" text-anchor="middle">60</text>
<text transform="translate(970.9 880.4) scale(0.994 1.11)" font-size="34" text-anchor="middle">75</text>
<text transform="translate(447.2 247.2) scale(0.975 1.034)" font-size="33.5" text-anchor="middle" fill="#245B87">85</text>
<text transform="translate(447.2 336.2) scale(0.975 1.034)" font-size="33.5" text-anchor="middle" fill="#1F6C89">56</text>
<text transform="translate(447.2 422.1) scale(0.975 1.034)" font-size="33.5" text-anchor="middle" fill="#2C7F8C">28</text>
<text transform="translate(447.2 510.2) scale(0.975 1.034)" font-size="33.5" text-anchor="middle" fill="#408E8D">14</text>
<text transform="translate(447.2 604.4) scale(0.975 1.034)" font-size="33.5" text-anchor="middle" fill="#519D8F">10</text>
<text transform="translate(447.2 688.5) scale(0.975 1.034)" font-size="33.5" text-anchor="middle" fill="#69AE90">7</text>
<text transform="translate(447.2 780.6) scale(0.975 1.034)" font-size="33.5" text-anchor="middle" fill="#87C095">3</text>
<text transform="translate(936.6 247.4) scale(0.975 1.034)" font-size="33.5" text-anchor="middle" fill="#7E2F73">85</text>
<text transform="translate(936.6 337.0) scale(0.975 1.034)" font-size="33.5" text-anchor="middle" fill="#9B3572">56</text>
<text transform="translate(936.6 425.1) scale(0.975 1.034)" font-size="33.5" text-anchor="middle" fill="#B43C6B">28</text>
<text transform="translate(936.6 515.3) scale(0.975 1.034)" font-size="33.5" text-anchor="middle" fill="#CB4662">14</text>
<text transform="translate(936.6 608.7) scale(0.975 1.034)" font-size="33.5" text-anchor="middle" fill="#DC5B5C">10</text>
<text transform="translate(936.6 699.9) scale(0.975 1.034)" font-size="33.5" text-anchor="middle" fill="#E67B62">7</text>
<text transform="translate(936.6 793.0) scale(0.975 1.034)" font-size="33.5" text-anchor="middle" fill="#EC9670">3</text>
<text transform="translate(461.0 112.8)" font-size="32.6" text-anchor="end">Fluence</text>
<text transform="translate(466.0 152.1)" font-size="32.6" text-anchor="end">(µJ/cm<tspan font-size="21.5" dy="-10">2</tspan><tspan dy="10">)</tspan></text>
<text transform="translate(950.2 114.3)" font-size="32.6" text-anchor="end">Fluence</text>
<text transform="translate(955.2 153.0)" font-size="32.6" text-anchor="end">(µJ/cm<tspan font-size="21.5" dy="-10">2</tspan><tspan dy="10">)</tspan></text>
<text transform="translate(223.7 56.8)" font-size="34.5"><tspan font-style="italic">ν</tspan> =</text>
<text transform="translate(281.7 56.8) scale(1.03 1.13)" font-size="34.5">-1</text>
<text transform="translate(714.0 58.0)" font-size="34.5"><tspan font-style="italic">ν</tspan> =</text>
<text transform="translate(772.0 58.0) scale(1.03 1.13)" font-size="34.5">-2</text>
<g clip-path="url(#cc)" fill="none" stroke-width="3.1" stroke-linejoin="round">
<path d="M1058.7 33.6L1060.2 69.6L1061.6 102.4L1063.1 132.5L1064.5 159.9L1065.9 184.8L1067.4 207.5L1068.8 228.1L1070.3 246.8L1071.7 263.7L1073.1 278.9L1074.6 292.6L1076 304.9L1077.5 315.9L1078.9 325.7L1080.4 334.4L1081.8 342L1083.2 348.7L1084.7 354.6L1086.1 359.6L1087.6 363.9L1089 367.5L1090.5 370.5L1091.9 372.9L1093.3 374.8L1094.8 376.2L1096.2 377.2L1097.7 377.7L1099.1 377.9L1100.6 377.8L1102 377.3L1103.4 376.6L1104.9 375.6L1106.3 374.4L1107.8 372.9L1109.2 371.3L1110.7 369.5L1112.1 367.6L1113.5 365.5L1115 363.3L1116.4 361L1117.9 358.6L1119.3 356.1L1120.8 353.5L1122.2 350.9L1123.6 348.2L1125.1 345.5L1126.5 342.7L1128 339.9L1129.4 337L1130.8 334.2L1132.3 331.3L1133.7 328.4L1135.2 325.6L1136.6 322.7L1138.1 319.8L1139.5 316.9L1140.9 314.1L1142.4 311.2L1143.8 308.4L1145.3 305.5L1146.7 302.7L1148.2 300L1149.6 297.2L1151 294.5L1152.5 291.8L1153.9 289.1L1155.4 286.4L1156.8 283.8L1158.3 281.2L1159.7 278.7L1161.1 276.1L1162.6 273.6L1164 271.2L1165.5 268.7L1166.9 266.3L1168.4 264L1169.8 261.6L1171.2 259.3L1172.7 257.1L1174.1 254.8L1175.6 252.6L1177 250.5L1178.5 248.3L1179.9 246.2L1181.3 244.1L1182.8 242.1L1184.2 240.1L1185.7 238.1L1187.1 236.2L1188.5 234.3L1190 232.4L1191.4 230.5L1192.9 228.7L1194.3 226.9L1195.8 225.2L1197.2 223.4L1198.6 221.7L1200.1 220L1201.5 218.4L1203 216.8L1204.4 215.2L1205.9 213.6L1207.3 212.1L1208.7 210.6L1210.2 209.1L1211.6 207.6L1213.1 206.2L1214.5 204.8L1216 203.4L1217.4 202L1218.8 200.7L1220.3 199.4L1221.7 198.1L1223.2 196.8L1224.6 195.6L1226.1 194.3L1227.5 193.1L1228.9 191.9L1230.4 190.8L1231.8 189.6L1233.3 188.5L1234.7 187.4L1236.2 186.3L1237.6 185.3L1239 184.2L1240.5 183.2L1241.9 182.2L1243.4 181.2L1244.8 180.2L1246.2 179.2L1247.7 178.3L1249.1 177.4L1250.6 176.5L1252 175.6L1253.5 174.7L1254.9 173.8L1256.3 173L1257.8 172.1L1259.2 171.3L1260.7 170.5L1262.1 169.7L1263.6 168.9L1265 168.2L1266.4 167.4L1267.9 166.7L1269.3 166L1270.8 165.3L1272.2 164.6L1273.7 163.9L1275.1 163.2L1276.5 162.5L1278 161.9L1279.4 161.2L1280.9 160.6L1282.3 160L1283.8 159.4L1285.2 158.8L1286.6 158.2L1288.1 157.6L1289.5 157.1L1291 156.5L1292.4 156L1293.9 155.4L1295.3 154.9L1296.7 154.4L1298.2 153.9L1299.6 153.4L1301.1 152.9L1302.5 152.4L1303.9 151.9L1305.4 151.4L1306.8 151L1308.3 150.5L1309.7 150.1L1311.2 149.6L1312.6 149.2L1314 148.8L1315.5 148.4L1316.9 148L1318.4 147.6L1319.8 147.2L1321.3 146.8L1322.7 146.4L1324.1 146L1325.6 145.7L1327 145.3L1328.5 144.9L1329.9 144.6L1331.4 144.2L1332.8 143.9L1334.2 143.6L1335.7 143.2L1337.1 142.9L1338.6 142.6L1340 142.3L1341.5 142L1342.9 141.7L1344.3 141.4L1345.8 141.1L1347.2 140.8L1348.7 140.5L1350.1 140.3L1351.6 140L1353 139.7L1354.4 139.5L1355.9 139.2L1357.3 139L1358.8 138.7L1360.2 138.5L1361.6 138.2L1363.1 138L1364.5 137.8L1366 137.5L1367.4 137.3L1368.9 137.1L1370.3 136.9L1371.7 136.6L1373.2 136.4L1374.6 136.2L1376.1 136L1377.5 135.8L1379 135.6L1380.4 135.4L1381.8 135.2L1383.3 135.1L1384.7 134.9L1386.2 134.7L1387.6 134.5L1389.1 134.3L1390.5 134.2L1391.9 134L1393.4 133.8L1394.8 133.7L1396.3 133.5L1397.7 133.3L1399.2 133.2L1400.6 133L1402 132.9L1403.5 132.7L1404.9 132.6L1406.4 132.4L1407.8 132.3L1409.3 132.2L1410.7 132L1412.1 131.9L1413.6 131.8L1415 131.6L1416.5 131.5L1417.9 131.4L1419.3 131.2L1420.8 131.1L1422.2 131L1423.7 130.9L1425.1 130.8L1426.6 130.6L1428 130.5L1429.4 130.4L1430.9 130.3L1432.3 130.2L1433.8 130.1L1435.2 130L1436.7 129.9L1438.1 129.8L1439.5 129.7L1441 129.6L1442.4 129.5L1443.9 129.4L1445.3 129.3L1446.8 129.2L1448.2 129.1L1449.6 129L1451.1 129L1452.5 128.9L1454 128.8L1455.4 128.7L1456.9 128.6L1458.3 128.5L1459.7 128.5L1461.2 128.4L1462.6 128.3L1464.1 128.2L1465.5 128.2L1467 128.1L1468.4 128L1469.8 127.9L1471.3 127.9L1472.7 127.8L1474.2 127.7L1475.6 127.7L1477 127.6L1478.5 127.5L1479.9 127.5L1481.4 127.4L1482.8 127.3" stroke="#87C095"/>
<path d="M1058.7 41.1L1060.2 82.3L1061.6 119.3L1063.1 152.5L1064.5 182.2L1065.9 208.8L1067.4 232.5L1068.8 253.6L1070.3 272.2L1071.7 288.8L1073.1 303.3L1074.6 316.1L1076 327.2L1077.5 336.9L1078.9 345.2L1080.4 352.3L1081.8 358.3L1083.2 363.3L1084.7 367.5L1086.1 370.8L1087.6 373.4L1089 375.3L1090.5 376.6L1091.9 377.4L1093.3 377.6L1094.8 377.5L1096.2 377L1097.7 376.1L1099.1 374.9L1100.6 373.4L1102 371.7L1103.4 369.7L1104.9 367.6L1106.3 365.3L1107.8 362.8L1109.2 360.2L1110.7 357.5L1112.1 354.7L1113.5 351.9L1115 348.9L1116.4 345.9L1117.9 342.8L1119.3 339.7L1120.8 336.6L1122.2 333.4L1123.6 330.3L1125.1 327.1L1126.5 323.9L1128 320.7L1129.4 317.6L1130.8 314.4L1132.3 311.3L1133.7 308.1L1135.2 305L1136.6 301.9L1138.1 298.9L1139.5 295.9L1140.9 292.9L1142.4 289.9L1143.8 287L1145.3 284.1L1146.7 281.2L1148.2 278.4L1149.6 275.6L1151 272.8L1152.5 270.1L1153.9 267.4L1155.4 264.7L1156.8 262.1L1158.3 259.6L1159.7 257L1161.1 254.5L1162.6 252.1L1164 249.7L1165.5 247.3L1166.9 244.9L1168.4 242.6L1169.8 240.4L1171.2 238.1L1172.7 235.9L1174.1 233.8L1175.6 231.7L1177 229.6L1178.5 227.5L1179.9 225.5L1181.3 223.5L1182.8 221.6L1184.2 219.7L1185.7 217.8L1187.1 215.9L1188.5 214.1L1190 212.3L1191.4 210.6L1192.9 208.9L1194.3 207.2L1195.8 205.5L1197.2 203.9L1198.6 202.3L1200.1 200.7L1201.5 199.1L1203 197.6L1204.4 196.1L1205.9 194.7L1207.3 193.2L1208.7 191.8L1210.2 190.4L1211.6 189.1L1213.1 187.7L1214.5 186.4L1216 185.1L1217.4 183.9L1218.8 182.6L1220.3 181.4L1221.7 180.2L1223.2 179L1224.6 177.9L1226.1 176.7L1227.5 175.6L1228.9 174.5L1230.4 173.5L1231.8 172.4L1233.3 171.4L1234.7 170.4L1236.2 169.4L1237.6 168.4L1239 167.5L1240.5 166.5L1241.9 165.6L1243.4 164.7L1244.8 163.8L1246.2 163L1247.7 162.1L1249.1 161.3L1250.6 160.4L1252 159.6L1253.5 158.9L1254.9 158.1L1256.3 157.3L1257.8 156.6L1259.2 155.9L1260.7 155.1L1262.1 154.4L1263.6 153.8L1265 153.1L1266.4 152.4L1267.9 151.8L1269.3 151.1L1270.8 150.5L1272.2 149.9L1273.7 149.3L1275.1 148.7L1276.5 148.1L1278 147.6L1279.4 147L1280.9 146.5L1282.3 146L1283.8 145.4L1285.2 144.9L1286.6 144.4L1288.1 143.9L1289.5 143.5L1291 143L1292.4 142.5L1293.9 142.1L1295.3 141.6L1296.7 141.2L1298.2 140.8L1299.6 140.4L1301.1 140L1302.5 139.6L1303.9 139.2L1305.4 138.8L1306.8 138.4L1308.3 138L1309.7 137.7L1311.2 137.3L1312.6 137L1314 136.7L1315.5 136.3L1316.9 136L1318.4 135.7L1319.8 135.4L1321.3 135.1L1322.7 134.8L1324.1 134.5L1325.6 134.2L1327 133.9L1328.5 133.7L1329.9 133.4L1331.4 133.1L1332.8 132.9L1334.2 132.6L1335.7 132.4L1337.1 132.2L1338.6 131.9L1340 131.7L1341.5 131.5L1342.9 131.3L1344.3 131L1345.8 130.8L1347.2 130.6L1348.7 130.4L1350.1 130.2L1351.6 130.1L1353 129.9L1354.4 129.7L1355.9 129.5L1357.3 129.3L1358.8 129.2L1360.2 129L1361.6 128.9L1363.1 128.7L1364.5 128.5L1366 128.4L1367.4 128.3L1368.9 128.1L1370.3 128L1371.7 127.8L1373.2 127.7L1374.6 127.6L1376.1 127.5L1377.5 127.3L1379 127.2L1380.4 127.1L1381.8 127L1383.3 126.9L1384.7 126.8L1386.2 126.7L1387.6 126.6L1389.1 126.5L1390.5 126.4L1391.9 126.3L1393.4 126.2L1394.8 126.1L1396.3 126L1397.7 125.9L1399.2 125.8L1400.6 125.8L1402 125.7L1403.5 125.6L1404.9 125.5L1406.4 125.5L1407.8 125.4L1409.3 125.3L1410.7 125.3L1412.1 125.2L1413.6 125.1L1415 125.1L1416.5 125L1417.9 125L1419.3 124.9L1420.8 124.9L1422.2 124.8L1423.7 124.8L1425.1 124.7L1426.6 124.7L1428 124.6L1429.4 124.6L1430.9 124.5L1432.3 124.5L1433.8 124.5L1435.2 124.4L1436.7 124.4L1438.1 124.3L1439.5 124.3L1441 124.3L1442.4 124.2L1443.9 124.2L1445.3 124.2L1446.8 124.2L1448.2 124.1L1449.6 124.1L1451.1 124.1L1452.5 124.1L1454 124L1455.4 124L1456.9 124L1458.3 124L1459.7 124L1461.2 123.9L1462.6 123.9L1464.1 123.9L1465.5 123.9L1467 123.9L1468.4 123.9L1469.8 123.9L1471.3 123.8L1472.7 123.8L1474.2 123.8L1475.6 123.8L1477 123.8L1478.5 123.8L1479.9 123.8L1481.4 123.8L1482.8 123.8" stroke="#69AE90"/>
<path d="M1057.3 16.2L1058.7 59.2L1060.2 98L1061.6 132.9L1063.1 164.4L1064.5 192.6L1065.9 217.8L1067.4 240.4L1068.8 260.5L1070.3 278.3L1071.7 294.1L1073.1 308.1L1074.6 320.3L1076 330.9L1077.5 340.1L1078.9 348.1L1080.4 354.8L1081.8 360.5L1083.2 365.2L1084.7 369L1086.1 372L1087.6 374.3L1089 376L1090.5 377.1L1091.9 377.6L1093.3 377.6L1094.8 377.2L1096.2 376.5L1097.7 375.3L1099.1 373.9L1100.6 372.2L1102 370.3L1103.4 368.1L1104.9 365.8L1106.3 363.3L1107.8 360.6L1109.2 357.8L1110.7 355L1112.1 352L1113.5 348.9L1115 345.8L1116.4 342.7L1117.9 339.5L1119.3 336.3L1120.8 333L1122.2 329.8L1123.6 326.5L1125.1 323.2L1126.5 320L1128 316.8L1129.4 313.6L1130.8 310.4L1132.3 307.2L1133.7 304.1L1135.2 301L1136.6 297.9L1138.1 294.9L1139.5 291.9L1140.9 289L1142.4 286.1L1143.8 283.2L1145.3 280.4L1146.7 277.6L1148.2 274.9L1149.6 272.2L1151 269.6L1152.5 267L1153.9 264.5L1155.4 262L1156.8 259.6L1158.3 257.2L1159.7 254.8L1161.1 252.5L1162.6 250.3L1164 248.1L1165.5 245.9L1166.9 243.8L1168.4 241.8L1169.8 239.7L1171.2 237.8L1172.7 235.8L1174.1 233.9L1175.6 232.1L1177 230.3L1178.5 228.5L1179.9 226.7L1181.3 225.1L1182.8 223.4L1184.2 221.8L1185.7 220.2L1187.1 218.7L1188.5 217.1L1190 215.7L1191.4 214.2L1192.9 212.8L1194.3 211.4L1195.8 210.1L1197.2 208.8L1198.6 207.5L1200.1 206.3L1201.5 205L1203 203.8L1204.4 202.7L1205.9 201.5L1207.3 200.4L1208.7 199.4L1210.2 198.3L1211.6 197.3L1213.1 196.3L1214.5 195.3L1216 194.3L1217.4 193.4L1218.8 192.5L1220.3 191.6L1221.7 190.7L1223.2 189.9L1224.6 189L1226.1 188.2L1227.5 187.4L1228.9 186.7L1230.4 185.9L1231.8 185.2L1233.3 184.5L1234.7 183.8L1236.2 183.1L1237.6 182.4L1239 181.8L1240.5 181.1L1241.9 180.5L1243.4 179.9L1244.8 179.3L1246.2 178.8L1247.7 178.2L1249.1 177.7L1250.6 177.1L1252 176.6L1253.5 176.1L1254.9 175.6L1256.3 175.2L1257.8 174.7L1259.2 174.2L1260.7 173.8L1262.1 173.4L1263.6 172.9L1265 172.5L1266.4 172.1L1267.9 171.7L1269.3 171.4L1270.8 171L1272.2 170.6L1273.7 170.3L1275.1 169.9L1276.5 169.6L1278 169.3L1279.4 169L1280.9 168.6L1282.3 168.3L1283.8 168L1285.2 167.8L1286.6 167.5L1288.1 167.2L1289.5 166.9L1291 166.7L1292.4 166.4L1293.9 166.2L1295.3 166L1296.7 165.7L1298.2 165.5L1299.6 165.3L1301.1 165.1L1302.5 164.9L1303.9 164.6L1305.4 164.4L1306.8 164.3L1308.3 164.1L1309.7 163.9L1311.2 163.7L1312.6 163.5L1314 163.4L1315.5 163.2L1316.9 163L1318.4 162.9L1319.8 162.7L1321.3 162.6L1322.7 162.4L1324.1 162.3L1325.6 162.2L1327 162L1328.5 161.9L1329.9 161.8L1331.4 161.7L1332.8 161.5L1334.2 161.4L1335.7 161.3L1337.1 161.2L1338.6 161.1L1340 161L1341.5 160.9L1342.9 160.8L1344.3 160.7L1345.8 160.6L1347.2 160.5L1348.7 160.4L1350.1 160.4L1351.6 160.3L1353 160.2L1354.4 160.1L1355.9 160L1357.3 160L1358.8 159.9L1360.2 159.8L1361.6 159.8L1363.1 159.7L1364.5 159.6L1366 159.6L1367.4 159.5L1368.9 159.4L1370.3 159.4L1371.7 159.3L1373.2 159.3L1374.6 159.2L1376.1 159.2L1377.5 159.1L1379 159.1L1380.4 159L1381.8 159L1383.3 159L1384.7 158.9L1386.2 158.9L1387.6 158.8L1389.1 158.8L1390.5 158.8L1391.9 158.7L1393.4 158.7L1394.8 158.7L1396.3 158.6L1397.7 158.6L1399.2 158.6L1400.6 158.5L1402 158.5L1403.5 158.5L1404.9 158.5L1406.4 158.4L1407.8 158.4L1409.3 158.4L1410.7 158.4L1412.1 158.3L1413.6 158.3L1415 158.3L1416.5 158.3L1417.9 158.3L1419.3 158.2L1420.8 158.2L1422.2 158.2L1423.7 158.2L1425.1 158.2L1426.6 158.2L1428 158.1L1429.4 158.1L1430.9 158.1L1432.3 158.1L1433.8 158.1L1435.2 158.1L1436.7 158.1L1438.1 158.1L1439.5 158L1441 158L1442.4 158L1443.9 158L1445.3 158L1446.8 158L1448.2 158L1449.6 158L1451.1 158L1452.5 158L1454 158L1455.4 158L1456.9 158L1458.3 157.9L1459.7 157.9L1461.2 157.9L1462.6 157.9L1464.1 157.9L1465.5 157.9L1467 157.9L1468.4 157.9L1469.8 157.9L1471.3 157.9L1472.7 157.9L1474.2 157.9L1475.6 157.9L1477 157.9L1478.5 157.9L1479.9 157.9L1481.4 157.9L1482.8 157.9" stroke="#519D8F"/>
<path d="M1057.3 56.4L1058.7 95.2L1060.2 130L1061.6 161.3L1063.1 189.3L1064.5 214.4L1065.9 236.8L1067.4 256.8L1068.8 274.5L1070.3 290.2L1071.7 304.1L1073.1 316.3L1074.6 327L1076 336.3L1077.5 344.4L1078.9 351.4L1080.4 357.3L1081.8 362.3L1083.2 366.4L1084.7 369.8L1086.1 372.5L1087.6 374.5L1089 376L1090.5 377L1091.9 377.6L1093.3 377.7L1094.8 377.5L1096.2 377L1097.7 376.1L1099.1 375L1100.6 373.7L1102 372.1L1103.4 370.4L1104.9 368.5L1106.3 366.5L1107.8 364.3L1109.2 362.1L1110.7 359.7L1112.1 357.3L1113.5 354.8L1115 352.3L1116.4 349.7L1117.9 347.1L1119.3 344.4L1120.8 341.7L1122.2 339L1123.6 336.3L1125.1 333.6L1126.5 330.9L1128 328.2L1129.4 325.5L1130.8 322.9L1132.3 320.2L1133.7 317.6L1135.2 315L1136.6 312.4L1138.1 309.8L1139.5 307.3L1140.9 304.7L1142.4 302.3L1143.8 299.8L1145.3 297.4L1146.7 295L1148.2 292.7L1149.6 290.3L1151 288.1L1152.5 285.8L1153.9 283.6L1155.4 281.4L1156.8 279.3L1158.3 277.1L1159.7 275.1L1161.1 273L1162.6 271L1164 269L1165.5 267.1L1166.9 265.2L1168.4 263.3L1169.8 261.5L1171.2 259.7L1172.7 257.9L1174.1 256.2L1175.6 254.5L1177 252.8L1178.5 251.1L1179.9 249.5L1181.3 247.9L1182.8 246.4L1184.2 244.8L1185.7 243.3L1187.1 241.9L1188.5 240.4L1190 239L1191.4 237.6L1192.9 236.2L1194.3 234.9L1195.8 233.6L1197.2 232.3L1198.6 231.1L1200.1 229.8L1201.5 228.6L1203 227.4L1204.4 226.3L1205.9 225.1L1207.3 224L1208.7 222.9L1210.2 221.8L1211.6 220.8L1213.1 219.7L1214.5 218.7L1216 217.7L1217.4 216.8L1218.8 215.8L1220.3 214.9L1221.7 214L1223.2 213.1L1224.6 212.2L1226.1 211.3L1227.5 210.5L1228.9 209.7L1230.4 208.9L1231.8 208.1L1233.3 207.3L1234.7 206.5L1236.2 205.8L1237.6 205L1239 204.3L1240.5 203.6L1241.9 202.9L1243.4 202.3L1244.8 201.6L1246.2 201L1247.7 200.3L1249.1 199.7L1250.6 199.1L1252 198.5L1253.5 197.9L1254.9 197.4L1256.3 196.8L1257.8 196.3L1259.2 195.7L1260.7 195.2L1262.1 194.7L1263.6 194.2L1265 193.7L1266.4 193.2L1267.9 192.8L1269.3 192.3L1270.8 191.8L1272.2 191.4L1273.7 191L1275.1 190.6L1276.5 190.1L1278 189.7L1279.4 189.3L1280.9 189L1282.3 188.6L1283.8 188.2L1285.2 187.8L1286.6 187.5L1288.1 187.1L1289.5 186.8L1291 186.5L1292.4 186.1L1293.9 185.8L1295.3 185.5L1296.7 185.2L1298.2 184.9L1299.6 184.6L1301.1 184.3L1302.5 184.1L1303.9 183.8L1305.4 183.5L1306.8 183.3L1308.3 183L1309.7 182.8L1311.2 182.5L1312.6 182.3L1314 182L1315.5 181.8L1316.9 181.6L1318.4 181.4L1319.8 181.2L1321.3 181L1322.7 180.8L1324.1 180.6L1325.6 180.4L1327 180.2L1328.5 180L1329.9 179.8L1331.4 179.6L1332.8 179.5L1334.2 179.3L1335.7 179.1L1337.1 179L1338.6 178.8L1340 178.7L1341.5 178.5L1342.9 178.4L1344.3 178.2L1345.8 178.1L1347.2 178L1348.7 177.8L1350.1 177.7L1351.6 177.6L1353 177.5L1354.4 177.3L1355.9 177.2L1357.3 177.1L1358.8 177L1360.2 176.9L1361.6 176.8L1363.1 176.7L1364.5 176.6L1366 176.5L1367.4 176.4L1368.9 176.3L1370.3 176.2L1371.7 176.1L1373.2 176.1L1374.6 176L1376.1 175.9L1377.5 175.8L1379 175.7L1380.4 175.7L1381.8 175.6L1383.3 175.5L1384.7 175.4L1386.2 175.4L1387.6 175.3L1389.1 175.3L1390.5 175.2L1391.9 175.1L1393.4 175.1L1394.8 175L1396.3 175L1397.7 174.9L1399.2 174.9L1400.6 174.8L1402 174.8L1403.5 174.7L1404.9 174.7L1406.4 174.6L1407.8 174.6L1409.3 174.5L1410.7 174.5L1412.1 174.5L1413.6 174.4L1415 174.4L1416.5 174.3L1417.9 174.3L1419.3 174.3L1420.8 174.2L1422.2 174.2L1423.7 174.2L1425.1 174.2L1426.6 174.1L1428 174.1L1429.4 174.1L1430.9 174L1432.3 174L1433.8 174L1435.2 174L1436.7 174L1438.1 173.9L1439.5 173.9L1441 173.9L1442.4 173.9L1443.9 173.9L1445.3 173.8L1446.8 173.8L1448.2 173.8L1449.6 173.8L1451.1 173.8L1452.5 173.8L1454 173.8L1455.4 173.7L1456.9 173.7L1458.3 173.7L1459.7 173.7L1461.2 173.7L1462.6 173.7L1464.1 173.7L1465.5 173.7L1467 173.7L1468.4 173.7L1469.8 173.6L1471.3 173.6L1472.7 173.6L1474.2 173.6L1475.6 173.6L1477 173.6L1478.5 173.6L1479.9 173.6L1481.4 173.6L1482.8 173.6" stroke="#408E8D"/>
<path d="M1051.5 33.7L1053 68.7L1054.4 100.7L1055.8 130L1057.3 156.9L1058.7 181.4L1060.2 203.7L1061.6 224.1L1063.1 242.6L1064.5 259.3L1065.9 274.5L1067.4 288.2L1068.8 300.6L1070.3 311.7L1071.7 321.6L1073.1 330.5L1074.6 338.3L1076 345.3L1077.5 351.3L1078.9 356.6L1080.4 361.2L1081.8 365.2L1083.2 368.5L1084.7 371.2L1086.1 373.4L1087.6 375.2L1089 376.5L1090.5 377.4L1091.9 378L1093.3 378.2L1094.8 378.1L1096.2 377.8L1097.7 377.2L1099.1 376.3L1100.6 375.3L1102 374L1103.4 372.6L1104.9 371.1L1106.3 369.4L1107.8 367.6L1109.2 365.6L1110.7 363.6L1112.1 361.5L1113.5 359.3L1115 357.1L1116.4 354.8L1117.9 352.5L1119.3 350.1L1120.8 347.7L1122.2 345.2L1123.6 342.7L1125.1 340.3L1126.5 337.8L1128 335.3L1129.4 332.8L1130.8 330.3L1132.3 327.8L1133.7 325.4L1135.2 322.9L1136.6 320.5L1138.1 318L1139.5 315.6L1140.9 313.2L1142.4 310.9L1143.8 308.6L1145.3 306.2L1146.7 304L1148.2 301.7L1149.6 299.5L1151 297.3L1152.5 295.1L1153.9 293L1155.4 290.9L1156.8 288.8L1158.3 286.8L1159.7 284.8L1161.1 282.8L1162.6 280.9L1164 279L1165.5 277.1L1166.9 275.2L1168.4 273.4L1169.8 271.7L1171.2 269.9L1172.7 268.2L1174.1 266.5L1175.6 264.9L1177 263.3L1178.5 261.7L1179.9 260.1L1181.3 258.6L1182.8 257.1L1184.2 255.7L1185.7 254.2L1187.1 252.8L1188.5 251.5L1190 250.1L1191.4 248.8L1192.9 247.5L1194.3 246.3L1195.8 245L1197.2 243.8L1198.6 242.6L1200.1 241.5L1201.5 240.4L1203 239.3L1204.4 238.2L1205.9 237.1L1207.3 236.1L1208.7 235.1L1210.2 234.1L1211.6 233.1L1213.1 232.2L1214.5 231.2L1216 230.3L1217.4 229.5L1218.8 228.6L1220.3 227.8L1221.7 226.9L1223.2 226.1L1224.6 225.3L1226.1 224.6L1227.5 223.8L1228.9 223.1L1230.4 222.4L1231.8 221.7L1233.3 221L1234.7 220.3L1236.2 219.7L1237.6 219.1L1239 218.4L1240.5 217.8L1241.9 217.3L1243.4 216.7L1244.8 216.1L1246.2 215.6L1247.7 215.1L1249.1 214.5L1250.6 214L1252 213.5L1253.5 213.1L1254.9 212.6L1256.3 212.1L1257.8 211.7L1259.2 211.3L1260.7 210.9L1262.1 210.4L1263.6 210.1L1265 209.7L1266.4 209.3L1267.9 208.9L1269.3 208.6L1270.8 208.2L1272.2 207.9L1273.7 207.6L1275.1 207.2L1276.5 206.9L1278 206.6L1279.4 206.3L1280.9 206L1282.3 205.8L1283.8 205.5L1285.2 205.2L1286.6 205L1288.1 204.8L1289.5 204.5L1291 204.3L1292.4 204.1L1293.9 203.8L1295.3 203.6L1296.7 203.4L1298.2 203.2L1299.6 203.1L1301.1 202.9L1302.5 202.7L1303.9 202.5L1305.4 202.4L1306.8 202.2L1308.3 202L1309.7 201.9L1311.2 201.8L1312.6 201.6L1314 201.5L1315.5 201.4L1316.9 201.2L1318.4 201.1L1319.8 201L1321.3 200.9L1322.7 200.8L1324.1 200.7L1325.6 200.6L1327 200.5L1328.5 200.4L1329.9 200.4L1331.4 200.3L1332.8 200.2L1334.2 200.1L1335.7 200.1L1337.1 200L1338.6 199.9L1340 199.9L1341.5 199.8L1342.9 199.8L1344.3 199.7L1345.8 199.7L1347.2 199.7L1348.7 199.6L1350.1 199.6L1351.6 199.6L1353 199.5L1354.4 199.5L1355.9 199.5L1357.3 199.5L1358.8 199.5L1360.2 199.4L1361.6 199.4L1363.1 199.4L1364.5 199.4L1366 199.4L1367.4 199.4L1368.9 199.4L1370.3 199.4L1371.7 199.4L1373.2 199.4L1374.6 199.4L1376.1 199.5L1377.5 199.5L1379 199.5L1380.4 199.5L1381.8 199.5L1383.3 199.5L1384.7 199.6L1386.2 199.6L1387.6 199.6L1389.1 199.7L1390.5 199.7L1391.9 199.7L1393.4 199.8L1394.8 199.8L1396.3 199.8L1397.7 199.9L1399.2 199.9L1400.6 199.9L1402 200L1403.5 200L1404.9 200.1L1406.4 200.1L1407.8 200.2L1409.3 200.2L1410.7 200.3L1412.1 200.3L1413.6 200.4L1415 200.4L1416.5 200.5L1417.9 200.5L1419.3 200.6L1420.8 200.7L1422.2 200.7L1423.7 200.8L1425.1 200.8L1426.6 200.9L1428 201L1429.4 201L1430.9 201.1L1432.3 201.2L1433.8 201.2L1435.2 201.3L1436.7 201.4L1438.1 201.4L1439.5 201.5L1441 201.6L1442.4 201.6L1443.9 201.7L1445.3 201.8L1446.8 201.9L1448.2 201.9L1449.6 202L1451.1 202.1L1452.5 202.2L1454 202.2L1455.4 202.3L1456.9 202.4L1458.3 202.5L1459.7 202.6L1461.2 202.6L1462.6 202.7L1464.1 202.8L1465.5 202.9L1467 203L1468.4 203.1L1469.8 203.1L1471.3 203.2L1472.7 203.3L1474.2 203.4L1475.6 203.5L1477 203.6L1478.5 203.7L1479.9 203.7L1481.4 203.8L1482.8 203.9" stroke="#2C7F8C"/>
<path d="M1048.6 37.9L1050.1 76.6L1051.5 111.5L1053 143L1054.4 171.4L1055.8 196.9L1057.3 219.8L1058.7 240.4L1060.2 258.8L1061.6 275.2L1063.1 289.9L1064.5 302.9L1065.9 314.5L1067.4 324.7L1068.8 333.6L1070.3 341.5L1071.7 348.3L1073.1 354.2L1074.6 359.3L1076 363.6L1077.5 367.2L1078.9 370.2L1080.4 372.7L1081.8 374.6L1083.2 376.1L1084.7 377.1L1086.1 377.8L1087.6 378.1L1089 378.1L1090.5 377.9L1091.9 377.4L1093.3 376.7L1094.8 375.7L1096.2 374.6L1097.7 373.4L1099.1 372L1100.6 370.5L1102 368.9L1103.4 367.2L1104.9 365.4L1106.3 363.5L1107.8 361.6L1109.2 359.6L1110.7 357.6L1112.1 355.5L1113.5 353.4L1115 351.3L1116.4 349.2L1117.9 347.1L1119.3 344.9L1120.8 342.8L1122.2 340.6L1123.6 338.4L1125.1 336.3L1126.5 334.2L1128 332L1129.4 329.9L1130.8 327.8L1132.3 325.8L1133.7 323.7L1135.2 321.7L1136.6 319.7L1138.1 317.7L1139.5 315.7L1140.9 313.7L1142.4 311.8L1143.8 309.9L1145.3 308L1146.7 306.2L1148.2 304.4L1149.6 302.6L1151 300.8L1152.5 299.1L1153.9 297.4L1155.4 295.7L1156.8 294L1158.3 292.4L1159.7 290.8L1161.1 289.2L1162.6 287.6L1164 286.1L1165.5 284.6L1166.9 283.1L1168.4 281.7L1169.8 280.3L1171.2 278.9L1172.7 277.5L1174.1 276.1L1175.6 274.8L1177 273.5L1178.5 272.3L1179.9 271L1181.3 269.8L1182.8 268.6L1184.2 267.4L1185.7 266.2L1187.1 265.1L1188.5 264L1190 262.9L1191.4 261.8L1192.9 260.8L1194.3 259.8L1195.8 258.8L1197.2 257.8L1198.6 256.8L1200.1 255.9L1201.5 255L1203 254L1204.4 253.2L1205.9 252.3L1207.3 251.4L1208.7 250.6L1210.2 249.8L1211.6 249L1213.1 248.2L1214.5 247.5L1216 246.7L1217.4 246L1218.8 245.3L1220.3 244.6L1221.7 243.9L1223.2 243.2L1224.6 242.6L1226.1 242L1227.5 241.3L1228.9 240.7L1230.4 240.2L1231.8 239.6L1233.3 239L1234.7 238.5L1236.2 237.9L1237.6 237.4L1239 236.9L1240.5 236.4L1241.9 235.9L1243.4 235.5L1244.8 235L1246.2 234.5L1247.7 234.1L1249.1 233.7L1250.6 233.3L1252 232.9L1253.5 232.5L1254.9 232.1L1256.3 231.7L1257.8 231.4L1259.2 231L1260.7 230.7L1262.1 230.4L1263.6 230.1L1265 229.8L1266.4 229.5L1267.9 229.2L1269.3 228.9L1270.8 228.6L1272.2 228.4L1273.7 228.1L1275.1 227.9L1276.5 227.6L1278 227.4L1279.4 227.2L1280.9 227L1282.3 226.8L1283.8 226.6L1285.2 226.4L1286.6 226.2L1288.1 226L1289.5 225.9L1291 225.7L1292.4 225.6L1293.9 225.4L1295.3 225.3L1296.7 225.1L1298.2 225L1299.6 224.9L1301.1 224.8L1302.5 224.7L1303.9 224.6L1305.4 224.5L1306.8 224.4L1308.3 224.3L1309.7 224.3L1311.2 224.2L1312.6 224.1L1314 224.1L1315.5 224L1316.9 223.9L1318.4 223.9L1319.8 223.9L1321.3 223.8L1322.7 223.8L1324.1 223.8L1325.6 223.8L1327 223.7L1328.5 223.7L1329.9 223.7L1331.4 223.7L1332.8 223.7L1334.2 223.7L1335.7 223.7L1337.1 223.7L1338.6 223.8L1340 223.8L1341.5 223.8L1342.9 223.8L1344.3 223.9L1345.8 223.9L1347.2 223.9L1348.7 224L1350.1 224L1351.6 224.1L1353 224.1L1354.4 224.2L1355.9 224.2L1357.3 224.3L1358.8 224.4L1360.2 224.4L1361.6 224.5L1363.1 224.6L1364.5 224.7L1366 224.7L1367.4 224.8L1368.9 224.9L1370.3 225L1371.7 225.1L1373.2 225.2L1374.6 225.3L1376.1 225.4L1377.5 225.5L1379 225.6L1380.4 225.7L1381.8 225.8L1383.3 225.9L1384.7 226L1386.2 226.1L1387.6 226.2L1389.1 226.3L1390.5 226.4L1391.9 226.6L1393.4 226.7L1394.8 226.8L1396.3 226.9L1397.7 227L1399.2 227.2L1400.6 227.3L1402 227.4L1403.5 227.6L1404.9 227.7L1406.4 227.8L1407.8 228L1409.3 228.1L1410.7 228.2L1412.1 228.4L1413.6 228.5L1415 228.7L1416.5 228.8L1417.9 228.9L1419.3 229.1L1420.8 229.2L1422.2 229.4L1423.7 229.5L1425.1 229.7L1426.6 229.8L1428 230L1429.4 230.1L1430.9 230.3L1432.3 230.4L1433.8 230.6L1435.2 230.8L1436.7 230.9L1438.1 231.1L1439.5 231.2L1441 231.4L1442.4 231.5L1443.9 231.7L1445.3 231.9L1446.8 232L1448.2 232.2L1449.6 232.3L1451.1 232.5L1452.5 232.7L1454 232.8L1455.4 233L1456.9 233.2L1458.3 233.3L1459.7 233.5L1461.2 233.7L1462.6 233.8L1464.1 234L1465.5 234.2L1467 234.3L1468.4 234.5L1469.8 234.7L1471.3 234.8L1472.7 235L1474.2 235.2L1475.6 235.4L1477 235.5L1478.5 235.7L1479.9 235.9L1481.4 236L1482.8 236.2" stroke="#1F6C89"/>
<path d="M1048.6 22.8L1050.1 63.1L1051.5 99.5L1053 132.4L1054.4 162.1L1055.8 188.8L1057.3 212.9L1058.7 234.5L1060.2 253.9L1061.6 271.2L1063.1 286.6L1064.5 300.3L1065.9 312.5L1067.4 323.2L1068.8 332.6L1070.3 340.9L1071.7 348L1073.1 354.2L1074.6 359.4L1076 363.9L1077.5 367.6L1078.9 370.6L1080.4 373.1L1081.8 374.9L1083.2 376.3L1084.7 377.2L1086.1 377.7L1087.6 377.9L1089 377.7L1090.5 377.2L1091.9 376.4L1093.3 375.4L1094.8 374.2L1096.2 372.9L1097.7 371.3L1099.1 369.6L1100.6 367.7L1102 365.8L1103.4 363.7L1104.9 361.6L1106.3 359.4L1107.8 357.1L1109.2 354.8L1110.7 352.4L1112.1 350L1113.5 347.6L1115 345.2L1116.4 342.7L1117.9 340.3L1119.3 337.8L1120.8 335.4L1122.2 332.9L1123.6 330.5L1125.1 328L1126.5 325.6L1128 323.2L1129.4 320.9L1130.8 318.5L1132.3 316.2L1133.7 313.9L1135.2 311.6L1136.6 309.4L1138.1 307.2L1139.5 305L1140.9 302.9L1142.4 300.8L1143.8 298.7L1145.3 296.7L1146.7 294.7L1148.2 292.7L1149.6 290.8L1151 288.9L1152.5 287.1L1153.9 285.2L1155.4 283.5L1156.8 281.7L1158.3 280L1159.7 278.3L1161.1 276.7L1162.6 275.1L1164 273.5L1165.5 271.9L1166.9 270.4L1168.4 268.9L1169.8 267.5L1171.2 266.1L1172.7 264.7L1174.1 263.3L1175.6 262L1177 260.7L1178.5 259.5L1179.9 258.2L1181.3 257L1182.8 255.9L1184.2 254.7L1185.7 253.6L1187.1 252.5L1188.5 251.4L1190 250.4L1191.4 249.4L1192.9 248.4L1194.3 247.4L1195.8 246.5L1197.2 245.6L1198.6 244.7L1200.1 243.8L1201.5 243L1203 242.1L1204.4 241.3L1205.9 240.6L1207.3 239.8L1208.7 239.1L1210.2 238.4L1211.6 237.7L1213.1 237L1214.5 236.3L1216 235.7L1217.4 235.1L1218.8 234.5L1220.3 233.9L1221.7 233.3L1223.2 232.8L1224.6 232.2L1226.1 231.7L1227.5 231.2L1228.9 230.7L1230.4 230.3L1231.8 229.8L1233.3 229.4L1234.7 229L1236.2 228.6L1237.6 228.2L1239 227.8L1240.5 227.4L1241.9 227.1L1243.4 226.7L1244.8 226.4L1246.2 226.1L1247.7 225.8L1249.1 225.5L1250.6 225.2L1252 225L1253.5 224.7L1254.9 224.5L1256.3 224.2L1257.8 224L1259.2 223.8L1260.7 223.6L1262.1 223.4L1263.6 223.2L1265 223.1L1266.4 222.9L1267.9 222.8L1269.3 222.6L1270.8 222.5L1272.2 222.4L1273.7 222.2L1275.1 222.1L1276.5 222L1278 221.9L1279.4 221.9L1280.9 221.8L1282.3 221.7L1283.8 221.7L1285.2 221.6L1286.6 221.6L1288.1 221.5L1289.5 221.5L1291 221.5L1292.4 221.5L1293.9 221.5L1295.3 221.5L1296.7 221.5L1298.2 221.5L1299.6 221.5L1301.1 221.5L1302.5 221.5L1303.9 221.6L1305.4 221.6L1306.8 221.6L1308.3 221.7L1309.7 221.8L1311.2 221.8L1312.6 221.9L1314 222L1315.5 222L1316.9 222.1L1318.4 222.2L1319.8 222.3L1321.3 222.4L1322.7 222.5L1324.1 222.6L1325.6 222.7L1327 222.8L1328.5 222.9L1329.9 223L1331.4 223.2L1332.8 223.3L1334.2 223.4L1335.7 223.5L1337.1 223.7L1338.6 223.8L1340 224L1341.5 224.1L1342.9 224.3L1344.3 224.4L1345.8 224.6L1347.2 224.7L1348.7 224.9L1350.1 225.1L1351.6 225.2L1353 225.4L1354.4 225.6L1355.9 225.8L1357.3 226L1358.8 226.1L1360.2 226.3L1361.6 226.5L1363.1 226.7L1364.5 226.9L1366 227.1L1367.4 227.3L1368.9 227.5L1370.3 227.7L1371.7 227.9L1373.2 228.1L1374.6 228.3L1376.1 228.6L1377.5 228.8L1379 229L1380.4 229.2L1381.8 229.4L1383.3 229.7L1384.7 229.9L1386.2 230.1L1387.6 230.3L1389.1 230.6L1390.5 230.8L1391.9 231L1393.4 231.3L1394.8 231.5L1396.3 231.7L1397.7 232L1399.2 232.2L1400.6 232.5L1402 232.7L1403.5 233L1404.9 233.2L1406.4 233.5L1407.8 233.7L1409.3 234L1410.7 234.2L1412.1 234.5L1413.6 234.7L1415 235L1416.5 235.2L1417.9 235.5L1419.3 235.8L1420.8 236L1422.2 236.3L1423.7 236.5L1425.1 236.8L1426.6 237.1L1428 237.3L1429.4 237.6L1430.9 237.9L1432.3 238.2L1433.8 238.4L1435.2 238.7L1436.7 239L1438.1 239.2L1439.5 239.5L1441 239.8L1442.4 240.1L1443.9 240.3L1445.3 240.6L1446.8 240.9L1448.2 241.2L1449.6 241.5L1451.1 241.7L1452.5 242L1454 242.3L1455.4 242.6L1456.9 242.9L1458.3 243.2L1459.7 243.4L1461.2 243.7L1462.6 244L1464.1 244.3L1465.5 244.6L1467 244.9L1468.4 245.2L1469.8 245.5L1471.3 245.7L1472.7 246L1474.2 246.3L1475.6 246.6L1477 246.9L1478.5 247.2L1479.9 247.5L1481.4 247.8L1482.8 248.1" stroke="#245B87"/>
</g>
<g clip-path="url(#cd)" fill="none" stroke-width="3.1" stroke-linejoin="round">
<path d="M1054.2 433L1055.6 451.5L1057 469.1L1058.5 486L1059.9 502L1061.4 517.3L1062.8 531.9L1064.2 545.8L1065.7 559.1L1067.1 571.7L1068.6 583.8L1070 595.2L1071.5 606.1L1072.9 616.5L1074.3 626.4L1075.8 635.8L1077.2 644.7L1078.7 653.2L1080.1 661.2L1081.5 668.9L1083 676.1L1084.4 683L1085.9 689.6L1087.3 695.7L1088.8 701.6L1090.2 707.2L1091.6 712.4L1093.1 717.4L1094.5 722.1L1096 726.5L1097.4 730.7L1098.9 734.6L1100.3 738.3L1101.7 741.8L1103.2 745.1L1104.6 748.2L1106.1 751.1L1107.5 753.8L1108.9 756.3L1110.4 758.6L1111.8 760.8L1113.3 762.9L1114.7 764.8L1116.2 766.6L1117.6 768.2L1119 769.7L1120.5 771.1L1121.9 772.3L1123.4 773.5L1124.8 774.5L1126.3 775.5L1127.7 776.3L1129.1 777.1L1130.6 777.7L1132 778.3L1133.5 778.8L1134.9 779.3L1136.3 779.6L1137.8 779.9L1139.2 780.1L1140.7 780.3L1142.1 780.4L1143.6 780.4L1145 780.4L1146.4 780.4L1147.9 780.2L1149.3 780.1L1150.8 779.9L1152.2 779.6L1153.7 779.4L1155.1 779L1156.5 778.7L1158 778.3L1159.4 777.9L1160.9 777.4L1162.3 776.9L1163.7 776.4L1165.2 775.9L1166.6 775.3L1168.1 774.7L1169.5 774.1L1171 773.5L1172.4 772.9L1173.8 772.2L1175.3 771.5L1176.7 770.8L1178.2 770.1L1179.6 769.4L1181 768.6L1182.5 767.9L1183.9 767.1L1185.4 766.4L1186.8 765.6L1188.3 764.8L1189.7 764L1191.1 763.2L1192.6 762.3L1194 761.5L1195.5 760.7L1196.9 759.9L1198.4 759L1199.8 758.2L1201.2 757.3L1202.7 756.5L1204.1 755.6L1205.6 754.7L1207 753.9L1208.4 753L1209.9 752.2L1211.3 751.3L1212.8 750.4L1214.2 749.5L1215.7 748.7L1217.1 747.8L1218.5 746.9L1220 746.1L1221.4 745.2L1222.9 744.3L1224.3 743.5L1225.8 742.6L1227.2 741.7L1228.6 740.8L1230.1 740L1231.5 739.1L1233 738.3L1234.4 737.4L1235.8 736.5L1237.3 735.7L1238.7 734.8L1240.2 734L1241.6 733.1L1243.1 732.3L1244.5 731.4L1245.9 730.6L1247.4 729.8L1248.8 728.9L1250.3 728.1L1251.7 727.3L1253.1 726.4L1254.6 725.6L1256 724.8L1257.5 724L1258.9 723.2L1260.4 722.4L1261.8 721.6L1263.2 720.8L1264.7 720L1266.1 719.2L1267.6 718.4L1269 717.6L1270.5 716.8L1271.9 716L1273.3 715.2L1274.8 714.5L1276.2 713.7L1277.7 712.9L1279.1 712.2L1280.5 711.4L1282 710.6L1283.4 709.9L1284.9 709.1L1286.3 708.4L1287.8 707.6L1289.2 706.9L1290.6 706.2L1292.1 705.4L1293.5 704.7L1295 704L1296.4 703.2L1297.8 702.5L1299.3 701.8L1300.7 701.1L1302.2 700.4L1303.6 699.7L1305.1 699L1306.5 698.3L1307.9 697.6L1309.4 696.9L1310.8 696.2L1312.3 695.5L1313.7 694.8L1315.2 694.1L1316.6 693.5L1318 692.8L1319.5 692.1L1320.9 691.5L1322.4 690.8L1323.8 690.1L1325.2 689.5L1326.7 688.8L1328.1 688.2L1329.6 687.5L1331 686.9L1332.5 686.2L1333.9 685.6L1335.3 684.9L1336.8 684.3L1338.2 683.7L1339.7 683L1341.1 682.4L1342.6 681.8L1344 681.2L1345.4 680.5L1346.9 679.9L1348.3 679.3L1349.8 678.7L1351.2 678.1L1352.6 677.5L1354.1 676.9L1355.5 676.3L1357 675.7L1358.4 675.1L1359.9 674.5L1361.3 673.9L1362.7 673.3L1364.2 672.7L1365.6 672.1L1367.1 671.6L1368.5 671L1370 670.4L1371.4 669.8L1372.8 669.3L1374.3 668.7L1375.7 668.1L1377.2 667.5L1378.6 667L1380 666.4L1381.5 665.9L1382.9 665.3L1384.4 664.7L1385.8 664.2L1387.3 663.6L1388.7 663.1L1390.1 662.5L1391.6 662L1393 661.4L1394.5 660.9L1395.9 660.4L1397.3 659.8L1398.8 659.3L1400.2 658.8L1401.7 658.2L1403.1 657.7L1404.6 657.2L1406 656.6L1407.4 656.1L1408.9 655.6L1410.3 655.1L1411.8 654.5L1413.2 654L1414.7 653.5L1416.1 653L1417.5 652.5L1419 652L1420.4 651.4L1421.9 650.9L1423.3 650.4L1424.7 649.9L1426.2 649.4L1427.6 648.9L1429.1 648.4L1430.5 647.9L1432 647.4L1433.4 646.9L1434.8 646.4L1436.3 645.9L1437.7 645.4L1439.2 644.9L1440.6 644.4L1442 643.9L1443.5 643.4L1444.9 643L1446.4 642.5L1447.8 642L1449.3 641.5L1450.7 641L1452.1 640.5L1453.6 640.1L1455 639.6L1456.5 639.1L1457.9 638.6L1459.4 638.2L1460.8 637.7L1462.2 637.2L1463.7 636.7L1465.1 636.3L1466.6 635.8L1468 635.3L1469.4 634.9L1470.9 634.4L1472.3 633.9L1473.8 633.5L1475.2 633L1476.7 632.5L1478.1 632.1L1479.5 631.6L1481 631.2L1482.4 630.7L1483.9 630.2" stroke="#EC9670"/>
<path d="M1058.5 423.9L1059.9 447.9L1061.4 470.4L1062.8 491.7L1064.2 511.7L1065.7 530.6L1067.1 548.3L1068.6 565L1070 580.6L1071.5 595.3L1072.9 609.2L1074.3 622.1L1075.8 634.3L1077.2 645.7L1078.7 656.4L1080.1 666.4L1081.5 675.8L1083 684.5L1084.4 692.7L1085.9 700.3L1087.3 707.4L1088.8 714L1090.2 720.2L1091.6 725.9L1093.1 731.2L1094.5 736.1L1096 740.7L1097.4 744.9L1098.9 748.8L1100.3 752.4L1101.7 755.6L1103.2 758.7L1104.6 761.4L1106.1 763.9L1107.5 766.2L1108.9 768.2L1110.4 770.1L1111.8 771.8L1113.3 773.2L1114.7 774.6L1116.2 775.7L1117.6 776.7L1119 777.6L1120.5 778.3L1121.9 778.9L1123.4 779.4L1124.8 779.8L1126.3 780.1L1127.7 780.3L1129.1 780.4L1130.6 780.4L1132 780.3L1133.5 780.2L1134.9 780L1136.3 779.7L1137.8 779.4L1139.2 779L1140.7 778.6L1142.1 778.1L1143.6 777.6L1145 777L1146.4 776.4L1147.9 775.7L1149.3 775.1L1150.8 774.4L1152.2 773.6L1153.7 772.9L1155.1 772.1L1156.5 771.3L1158 770.5L1159.4 769.6L1160.9 768.8L1162.3 767.9L1163.7 767L1165.2 766.2L1166.6 765.3L1168.1 764.3L1169.5 763.4L1171 762.5L1172.4 761.6L1173.8 760.6L1175.3 759.7L1176.7 758.7L1178.2 757.8L1179.6 756.8L1181 755.9L1182.5 754.9L1183.9 754L1185.4 753L1186.8 752L1188.3 751.1L1189.7 750.1L1191.1 749.2L1192.6 748.2L1194 747.3L1195.5 746.3L1196.9 745.4L1198.4 744.5L1199.8 743.5L1201.2 742.6L1202.7 741.7L1204.1 740.7L1205.6 739.8L1207 738.9L1208.4 738L1209.9 737.1L1211.3 736.2L1212.8 735.3L1214.2 734.4L1215.7 733.5L1217.1 732.6L1218.5 731.7L1220 730.8L1221.4 729.9L1222.9 729.1L1224.3 728.2L1225.8 727.3L1227.2 726.5L1228.6 725.6L1230.1 724.8L1231.5 723.9L1233 723.1L1234.4 722.3L1235.8 721.4L1237.3 720.6L1238.7 719.8L1240.2 719L1241.6 718.2L1243.1 717.3L1244.5 716.5L1245.9 715.7L1247.4 714.9L1248.8 714.2L1250.3 713.4L1251.7 712.6L1253.1 711.8L1254.6 711L1256 710.2L1257.5 709.5L1258.9 708.7L1260.4 707.9L1261.8 707.2L1263.2 706.4L1264.7 705.7L1266.1 704.9L1267.6 704.2L1269 703.4L1270.5 702.7L1271.9 702L1273.3 701.2L1274.8 700.5L1276.2 699.8L1277.7 699.1L1279.1 698.3L1280.5 697.6L1282 696.9L1283.4 696.2L1284.9 695.5L1286.3 694.8L1287.8 694.1L1289.2 693.4L1290.6 692.7L1292.1 692L1293.5 691.3L1295 690.6L1296.4 689.9L1297.8 689.2L1299.3 688.6L1300.7 687.9L1302.2 687.2L1303.6 686.5L1305.1 685.8L1306.5 685.2L1307.9 684.5L1309.4 683.8L1310.8 683.2L1312.3 682.5L1313.7 681.9L1315.2 681.2L1316.6 680.5L1318 679.9L1319.5 679.2L1320.9 678.6L1322.4 677.9L1323.8 677.3L1325.2 676.7L1326.7 676L1328.1 675.4L1329.6 674.7L1331 674.1L1332.5 673.5L1333.9 672.8L1335.3 672.2L1336.8 671.6L1338.2 670.9L1339.7 670.3L1341.1 669.7L1342.6 669.1L1344 668.5L1345.4 667.8L1346.9 667.2L1348.3 666.6L1349.8 666L1351.2 665.4L1352.6 664.8L1354.1 664.2L1355.5 663.6L1357 663L1358.4 662.3L1359.9 661.7L1361.3 661.1L1362.7 660.5L1364.2 660L1365.6 659.4L1367.1 658.8L1368.5 658.2L1370 657.6L1371.4 657L1372.8 656.4L1374.3 655.8L1375.7 655.2L1377.2 654.6L1378.6 654.1L1380 653.5L1381.5 652.9L1382.9 652.3L1384.4 651.7L1385.8 651.2L1387.3 650.6L1388.7 650L1390.1 649.4L1391.6 648.9L1393 648.3L1394.5 647.7L1395.9 647.2L1397.3 646.6L1398.8 646L1400.2 645.5L1401.7 644.9L1403.1 644.3L1404.6 643.8L1406 643.2L1407.4 642.7L1408.9 642.1L1410.3 641.6L1411.8 641L1413.2 640.5L1414.7 639.9L1416.1 639.4L1417.5 638.8L1419 638.3L1420.4 637.7L1421.9 637.2L1423.3 636.6L1424.7 636.1L1426.2 635.5L1427.6 635L1429.1 634.5L1430.5 633.9L1432 633.4L1433.4 632.9L1434.8 632.3L1436.3 631.8L1437.7 631.3L1439.2 630.7L1440.6 630.2L1442 629.7L1443.5 629.1L1444.9 628.6L1446.4 628.1L1447.8 627.6L1449.3 627L1450.7 626.5L1452.1 626L1453.6 625.5L1455 625L1456.5 624.4L1457.9 623.9L1459.4 623.4L1460.8 622.9L1462.2 622.4L1463.7 621.9L1465.1 621.4L1466.6 620.9L1468 620.4L1469.4 619.8L1470.9 619.3L1472.3 618.8L1473.8 618.3L1475.2 617.8L1476.7 617.3L1478.1 616.8L1479.5 616.3L1481 615.8L1482.4 615.3L1483.9 614.8" stroke="#E67B62"/>
<path d="M1055.6 427.8L1057 453.4L1058.5 477.5L1059.9 500L1061.4 521.1L1062.8 540.9L1064.2 559.4L1065.7 576.7L1067.1 592.9L1068.6 608L1070 622.1L1071.5 635.3L1072.9 647.6L1074.3 659L1075.8 669.6L1077.2 679.5L1078.7 688.8L1080.1 697.3L1081.5 705.2L1083 712.6L1084.4 719.3L1085.9 725.6L1087.3 731.4L1088.8 736.7L1090.2 741.6L1091.6 746.1L1093.1 750.2L1094.5 754L1096 757.4L1097.4 760.5L1098.9 763.3L1100.3 765.8L1101.7 768.1L1103.2 770.2L1104.6 772L1106.1 773.6L1107.5 775L1108.9 776.2L1110.4 777.2L1111.8 778.1L1113.3 778.8L1114.7 779.4L1116.2 779.8L1117.6 780.1L1119 780.3L1120.5 780.4L1121.9 780.5L1123.4 780.4L1124.8 780.2L1126.3 779.9L1127.7 779.6L1129.1 779.2L1130.6 778.7L1132 778.2L1133.5 777.7L1134.9 777L1136.3 776.4L1137.8 775.7L1139.2 774.9L1140.7 774.1L1142.1 773.3L1143.6 772.5L1145 771.6L1146.4 770.7L1147.9 769.8L1149.3 768.9L1150.8 767.9L1152.2 767L1153.7 766L1155.1 765L1156.5 764L1158 763L1159.4 761.9L1160.9 760.9L1162.3 759.9L1163.7 758.9L1165.2 757.8L1166.6 756.8L1168.1 755.7L1169.5 754.7L1171 753.6L1172.4 752.6L1173.8 751.6L1175.3 750.5L1176.7 749.5L1178.2 748.4L1179.6 747.4L1181 746.4L1182.5 745.4L1183.9 744.3L1185.4 743.3L1186.8 742.3L1188.3 741.3L1189.7 740.3L1191.1 739.3L1192.6 738.3L1194 737.3L1195.5 736.4L1196.9 735.4L1198.4 734.4L1199.8 733.5L1201.2 732.5L1202.7 731.6L1204.1 730.6L1205.6 729.7L1207 728.8L1208.4 727.8L1209.9 726.9L1211.3 726L1212.8 725.1L1214.2 724.2L1215.7 723.3L1217.1 722.5L1218.5 721.6L1220 720.7L1221.4 719.8L1222.9 719L1224.3 718.1L1225.8 717.3L1227.2 716.4L1228.6 715.6L1230.1 714.8L1231.5 714L1233 713.1L1234.4 712.3L1235.8 711.5L1237.3 710.7L1238.7 709.9L1240.2 709.2L1241.6 708.4L1243.1 707.6L1244.5 706.8L1245.9 706L1247.4 705.3L1248.8 704.5L1250.3 703.8L1251.7 703L1253.1 702.3L1254.6 701.5L1256 700.8L1257.5 700.1L1258.9 699.4L1260.4 698.6L1261.8 697.9L1263.2 697.2L1264.7 696.5L1266.1 695.8L1267.6 695.1L1269 694.4L1270.5 693.7L1271.9 693L1273.3 692.4L1274.8 691.7L1276.2 691L1277.7 690.3L1279.1 689.7L1280.5 689L1282 688.4L1283.4 687.7L1284.9 687L1286.3 686.4L1287.8 685.8L1289.2 685.1L1290.6 684.5L1292.1 683.8L1293.5 683.2L1295 682.6L1296.4 682L1297.8 681.3L1299.3 680.7L1300.7 680.1L1302.2 679.5L1303.6 678.9L1305.1 678.3L1306.5 677.7L1307.9 677.1L1309.4 676.5L1310.8 675.9L1312.3 675.3L1313.7 674.7L1315.2 674.2L1316.6 673.6L1318 673L1319.5 672.4L1320.9 671.9L1322.4 671.3L1323.8 670.7L1325.2 670.2L1326.7 669.6L1328.1 669L1329.6 668.5L1331 667.9L1332.5 667.4L1333.9 666.8L1335.3 666.3L1336.8 665.7L1338.2 665.2L1339.7 664.7L1341.1 664.1L1342.6 663.6L1344 663.1L1345.4 662.5L1346.9 662L1348.3 661.5L1349.8 661L1351.2 660.5L1352.6 659.9L1354.1 659.4L1355.5 658.9L1357 658.4L1358.4 657.9L1359.9 657.4L1361.3 656.9L1362.7 656.4L1364.2 655.9L1365.6 655.4L1367.1 654.9L1368.5 654.4L1370 653.9L1371.4 653.4L1372.8 652.9L1374.3 652.5L1375.7 652L1377.2 651.5L1378.6 651L1380 650.6L1381.5 650.1L1382.9 649.6L1384.4 649.1L1385.8 648.7L1387.3 648.2L1388.7 647.8L1390.1 647.3L1391.6 646.8L1393 646.4L1394.5 645.9L1395.9 645.5L1397.3 645L1398.8 644.6L1400.2 644.1L1401.7 643.7L1403.1 643.2L1404.6 642.8L1406 642.4L1407.4 641.9L1408.9 641.5L1410.3 641.1L1411.8 640.6L1413.2 640.2L1414.7 639.8L1416.1 639.3L1417.5 638.9L1419 638.5L1420.4 638.1L1421.9 637.7L1423.3 637.2L1424.7 636.8L1426.2 636.4L1427.6 636L1429.1 635.6L1430.5 635.2L1432 634.8L1433.4 634.4L1434.8 634L1436.3 633.6L1437.7 633.2L1439.2 632.8L1440.6 632.4L1442 632L1443.5 631.6L1444.9 631.2L1446.4 630.8L1447.8 630.4L1449.3 630L1450.7 629.6L1452.1 629.2L1453.6 628.9L1455 628.5L1456.5 628.1L1457.9 627.7L1459.4 627.4L1460.8 627L1462.2 626.6L1463.7 626.2L1465.1 625.9L1466.6 625.5L1468 625.1L1469.4 624.8L1470.9 624.4L1472.3 624L1473.8 623.7L1475.2 623.3L1476.7 623L1478.1 622.6L1479.5 622.3L1481 621.9L1482.4 621.6L1483.9 621.2" stroke="#DC5B5C"/>
<path d="M1054.2 439.4L1055.6 466.2L1057 491.2L1058.5 514.5L1059.9 536.2L1061.4 556.4L1062.8 575.3L1064.2 592.8L1065.7 609L1067.1 624.1L1068.6 638.1L1070 651.1L1071.5 663.1L1072.9 674.3L1074.3 684.6L1075.8 694.1L1077.2 702.8L1078.7 710.9L1080.1 718.3L1081.5 725.1L1083 731.4L1084.4 737.1L1085.9 742.3L1087.3 747L1088.8 751.4L1090.2 755.3L1091.6 758.8L1093.1 762L1094.5 764.8L1096 767.4L1097.4 769.6L1098.9 771.6L1100.3 773.4L1101.7 774.9L1103.2 776.2L1104.6 777.3L1106.1 778.2L1107.5 778.9L1108.9 779.5L1110.4 780L1111.8 780.3L1113.3 780.4L1114.7 780.5L1116.2 780.5L1117.6 780.3L1119 780.1L1120.5 779.7L1121.9 779.3L1123.4 778.9L1124.8 778.3L1126.3 777.7L1127.7 777.1L1129.1 776.4L1130.6 775.6L1132 774.8L1133.5 774L1134.9 773.2L1136.3 772.3L1137.8 771.4L1139.2 770.4L1140.7 769.5L1142.1 768.5L1143.6 767.5L1145 766.5L1146.4 765.5L1147.9 764.5L1149.3 763.4L1150.8 762.4L1152.2 761.3L1153.7 760.3L1155.1 759.2L1156.5 758.2L1158 757.1L1159.4 756L1160.9 755L1162.3 753.9L1163.7 752.9L1165.2 751.8L1166.6 750.8L1168.1 749.7L1169.5 748.7L1171 747.7L1172.4 746.6L1173.8 745.6L1175.3 744.6L1176.7 743.6L1178.2 742.6L1179.6 741.6L1181 740.6L1182.5 739.6L1183.9 738.6L1185.4 737.7L1186.8 736.7L1188.3 735.7L1189.7 734.8L1191.1 733.9L1192.6 732.9L1194 732L1195.5 731.1L1196.9 730.2L1198.4 729.3L1199.8 728.4L1201.2 727.5L1202.7 726.6L1204.1 725.7L1205.6 724.9L1207 724L1208.4 723.2L1209.9 722.3L1211.3 721.5L1212.8 720.7L1214.2 719.8L1215.7 719L1217.1 718.2L1218.5 717.4L1220 716.6L1221.4 715.8L1222.9 715L1224.3 714.3L1225.8 713.5L1227.2 712.7L1228.6 711.9L1230.1 711.2L1231.5 710.4L1233 709.7L1234.4 709L1235.8 708.2L1237.3 707.5L1238.7 706.8L1240.2 706L1241.6 705.3L1243.1 704.6L1244.5 703.9L1245.9 703.2L1247.4 702.5L1248.8 701.8L1250.3 701.1L1251.7 700.5L1253.1 699.8L1254.6 699.1L1256 698.4L1257.5 697.8L1258.9 697.1L1260.4 696.5L1261.8 695.8L1263.2 695.2L1264.7 694.5L1266.1 693.9L1267.6 693.2L1269 692.6L1270.5 692L1271.9 691.3L1273.3 690.7L1274.8 690.1L1276.2 689.5L1277.7 688.9L1279.1 688.2L1280.5 687.6L1282 687L1283.4 686.4L1284.9 685.8L1286.3 685.2L1287.8 684.6L1289.2 684.1L1290.6 683.5L1292.1 682.9L1293.5 682.3L1295 681.7L1296.4 681.1L1297.8 680.6L1299.3 680L1300.7 679.4L1302.2 678.9L1303.6 678.3L1305.1 677.8L1306.5 677.2L1307.9 676.6L1309.4 676.1L1310.8 675.5L1312.3 675L1313.7 674.4L1315.2 673.9L1316.6 673.4L1318 672.8L1319.5 672.3L1320.9 671.8L1322.4 671.2L1323.8 670.7L1325.2 670.2L1326.7 669.6L1328.1 669.1L1329.6 668.6L1331 668.1L1332.5 667.6L1333.9 667.1L1335.3 666.6L1336.8 666L1338.2 665.5L1339.7 665L1341.1 664.5L1342.6 664L1344 663.5L1345.4 663L1346.9 662.5L1348.3 662L1349.8 661.6L1351.2 661.1L1352.6 660.6L1354.1 660.1L1355.5 659.6L1357 659.1L1358.4 658.7L1359.9 658.2L1361.3 657.7L1362.7 657.2L1364.2 656.8L1365.6 656.3L1367.1 655.8L1368.5 655.4L1370 654.9L1371.4 654.4L1372.8 654L1374.3 653.5L1375.7 653L1377.2 652.6L1378.6 652.1L1380 651.7L1381.5 651.2L1382.9 650.8L1384.4 650.3L1385.8 649.9L1387.3 649.5L1388.7 649L1390.1 648.6L1391.6 648.1L1393 647.7L1394.5 647.3L1395.9 646.8L1397.3 646.4L1398.8 646L1400.2 645.5L1401.7 645.1L1403.1 644.7L1404.6 644.3L1406 643.8L1407.4 643.4L1408.9 643L1410.3 642.6L1411.8 642.2L1413.2 641.8L1414.7 641.3L1416.1 640.9L1417.5 640.5L1419 640.1L1420.4 639.7L1421.9 639.3L1423.3 638.9L1424.7 638.5L1426.2 638.1L1427.6 637.7L1429.1 637.3L1430.5 636.9L1432 636.5L1433.4 636.1L1434.8 635.7L1436.3 635.3L1437.7 635L1439.2 634.6L1440.6 634.2L1442 633.8L1443.5 633.4L1444.9 633L1446.4 632.7L1447.8 632.3L1449.3 631.9L1450.7 631.5L1452.1 631.2L1453.6 630.8L1455 630.4L1456.5 630L1457.9 629.7L1459.4 629.3L1460.8 628.9L1462.2 628.6L1463.7 628.2L1465.1 627.8L1466.6 627.5L1468 627.1L1469.4 626.8L1470.9 626.4L1472.3 626.1L1473.8 625.7L1475.2 625.4L1476.7 625L1478.1 624.7L1479.5 624.3L1481 624L1482.4 623.6L1483.9 623.3" stroke="#CB4662"/>
<path d="M1051.3 420.1L1052.7 451L1054.2 479.6L1055.6 506.1L1057 530.6L1058.5 553.2L1059.9 574.1L1061.4 593.4L1062.8 611.2L1064.2 627.6L1065.7 642.7L1067.1 656.6L1068.6 669.3L1070 681L1071.5 691.7L1072.9 701.5L1074.3 710.5L1075.8 718.6L1077.2 726.1L1078.7 732.8L1080.1 738.9L1081.5 744.4L1083 749.4L1084.4 753.9L1085.9 757.9L1087.3 761.5L1088.8 764.7L1090.2 767.5L1091.6 769.9L1093.1 772.1L1094.5 773.9L1096 775.5L1097.4 776.8L1098.9 777.9L1100.3 778.8L1101.7 779.5L1103.2 780L1104.6 780.4L1106.1 780.6L1107.5 780.7L1108.9 780.6L1110.4 780.4L1111.8 780.2L1113.3 779.8L1114.7 779.3L1116.2 778.8L1117.6 778.2L1119 777.5L1120.5 776.8L1121.9 776L1123.4 775.2L1124.8 774.3L1126.3 773.4L1127.7 772.5L1129.1 771.5L1130.6 770.5L1132 769.5L1133.5 768.5L1134.9 767.4L1136.3 766.4L1137.8 765.3L1139.2 764.2L1140.7 763.2L1142.1 762.1L1143.6 761L1145 759.9L1146.4 758.8L1147.9 757.7L1149.3 756.6L1150.8 755.5L1152.2 754.5L1153.7 753.4L1155.1 752.3L1156.5 751.2L1158 750.2L1159.4 749.1L1160.9 748.1L1162.3 747L1163.7 746L1165.2 745L1166.6 744L1168.1 743L1169.5 742L1171 741L1172.4 740L1173.8 739L1175.3 738.1L1176.7 737.1L1178.2 736.2L1179.6 735.3L1181 734.3L1182.5 733.4L1183.9 732.5L1185.4 731.6L1186.8 730.7L1188.3 729.9L1189.7 729L1191.1 728.1L1192.6 727.3L1194 726.4L1195.5 725.6L1196.9 724.8L1198.4 723.9L1199.8 723.1L1201.2 722.3L1202.7 721.5L1204.1 720.7L1205.6 719.9L1207 719.2L1208.4 718.4L1209.9 717.6L1211.3 716.9L1212.8 716.1L1214.2 715.4L1215.7 714.6L1217.1 713.9L1218.5 713.2L1220 712.5L1221.4 711.7L1222.9 711L1224.3 710.3L1225.8 709.6L1227.2 708.9L1228.6 708.2L1230.1 707.6L1231.5 706.9L1233 706.2L1234.4 705.5L1235.8 704.9L1237.3 704.2L1238.7 703.5L1240.2 702.9L1241.6 702.2L1243.1 701.6L1244.5 701L1245.9 700.3L1247.4 699.7L1248.8 699.1L1250.3 698.4L1251.7 697.8L1253.1 697.2L1254.6 696.6L1256 696L1257.5 695.4L1258.9 694.8L1260.4 694.2L1261.8 693.6L1263.2 693L1264.7 692.4L1266.1 691.8L1267.6 691.2L1269 690.6L1270.5 690L1271.9 689.5L1273.3 688.9L1274.8 688.3L1276.2 687.8L1277.7 687.2L1279.1 686.6L1280.5 686.1L1282 685.5L1283.4 685L1284.9 684.4L1286.3 683.9L1287.8 683.3L1289.2 682.8L1290.6 682.2L1292.1 681.7L1293.5 681.1L1295 680.6L1296.4 680.1L1297.8 679.5L1299.3 679L1300.7 678.5L1302.2 678L1303.6 677.4L1305.1 676.9L1306.5 676.4L1307.9 675.9L1309.4 675.4L1310.8 674.9L1312.3 674.4L1313.7 673.8L1315.2 673.3L1316.6 672.8L1318 672.3L1319.5 671.8L1320.9 671.3L1322.4 670.8L1323.8 670.4L1325.2 669.9L1326.7 669.4L1328.1 668.9L1329.6 668.4L1331 667.9L1332.5 667.4L1333.9 667L1335.3 666.5L1336.8 666L1338.2 665.5L1339.7 665L1341.1 664.6L1342.6 664.1L1344 663.6L1345.4 663.2L1346.9 662.7L1348.3 662.2L1349.8 661.8L1351.2 661.3L1352.6 660.9L1354.1 660.4L1355.5 660L1357 659.5L1358.4 659.1L1359.9 658.6L1361.3 658.2L1362.7 657.7L1364.2 657.3L1365.6 656.8L1367.1 656.4L1368.5 655.9L1370 655.5L1371.4 655.1L1372.8 654.6L1374.3 654.2L1375.7 653.8L1377.2 653.3L1378.6 652.9L1380 652.5L1381.5 652.1L1382.9 651.6L1384.4 651.2L1385.8 650.8L1387.3 650.4L1388.7 650L1390.1 649.5L1391.6 649.1L1393 648.7L1394.5 648.3L1395.9 647.9L1397.3 647.5L1398.8 647.1L1400.2 646.7L1401.7 646.3L1403.1 645.9L1404.6 645.5L1406 645.1L1407.4 644.7L1408.9 644.3L1410.3 643.9L1411.8 643.5L1413.2 643.1L1414.7 642.7L1416.1 642.3L1417.5 641.9L1419 641.5L1420.4 641.1L1421.9 640.8L1423.3 640.4L1424.7 640L1426.2 639.6L1427.6 639.2L1429.1 638.8L1430.5 638.5L1432 638.1L1433.4 637.7L1434.8 637.3L1436.3 637L1437.7 636.6L1439.2 636.2L1440.6 635.9L1442 635.5L1443.5 635.1L1444.9 634.8L1446.4 634.4L1447.8 634.1L1449.3 633.7L1450.7 633.3L1452.1 633L1453.6 632.6L1455 632.3L1456.5 631.9L1457.9 631.6L1459.4 631.2L1460.8 630.9L1462.2 630.5L1463.7 630.2L1465.1 629.8L1466.6 629.5L1468 629.1L1469.4 628.8L1470.9 628.5L1472.3 628.1L1473.8 627.8L1475.2 627.4L1476.7 627.1L1478.1 626.8L1479.5 626.4L1481 626.1L1482.4 625.8L1483.9 625.4" stroke="#B43C6B"/>
<path d="M1049.8 419.2L1051.3 453.1L1052.7 484.2L1054.2 512.7L1055.6 538.9L1057 563L1058.5 585L1059.9 605.1L1061.4 623.5L1062.8 640.3L1064.2 655.7L1065.7 669.6L1067.1 682.3L1068.6 693.9L1070 704.3L1071.5 713.8L1072.9 722.3L1074.3 730L1075.8 736.9L1077.2 743.1L1078.7 748.7L1080.1 753.6L1081.5 758L1083 761.8L1084.4 765.2L1085.9 768.2L1087.3 770.7L1088.8 772.9L1090.2 774.8L1091.6 776.3L1093.1 777.6L1094.5 778.6L1096 779.4L1097.4 780L1098.9 780.4L1100.3 780.6L1101.7 780.7L1103.2 780.6L1104.6 780.4L1106.1 780.1L1107.5 779.6L1108.9 779.1L1110.4 778.5L1111.8 777.8L1113.3 777.1L1114.7 776.3L1116.2 775.4L1117.6 774.5L1119 773.5L1120.5 772.6L1121.9 771.5L1123.4 770.5L1124.8 769.5L1126.3 768.4L1127.7 767.3L1129.1 766.2L1130.6 765.1L1132 764L1133.5 762.8L1134.9 761.7L1136.3 760.6L1137.8 759.5L1139.2 758.3L1140.7 757.2L1142.1 756.1L1143.6 755L1145 753.9L1146.4 752.8L1147.9 751.7L1149.3 750.7L1150.8 749.6L1152.2 748.5L1153.7 747.5L1155.1 746.4L1156.5 745.4L1158 744.4L1159.4 743.4L1160.9 742.4L1162.3 741.4L1163.7 740.5L1165.2 739.5L1166.6 738.6L1168.1 737.6L1169.5 736.7L1171 735.8L1172.4 734.9L1173.8 734L1175.3 733.1L1176.7 732.2L1178.2 731.4L1179.6 730.5L1181 729.7L1182.5 728.8L1183.9 728L1185.4 727.2L1186.8 726.4L1188.3 725.6L1189.7 724.8L1191.1 724L1192.6 723.2L1194 722.5L1195.5 721.7L1196.9 721L1198.4 720.2L1199.8 719.5L1201.2 718.8L1202.7 718L1204.1 717.3L1205.6 716.6L1207 715.9L1208.4 715.2L1209.9 714.6L1211.3 713.9L1212.8 713.2L1214.2 712.5L1215.7 711.9L1217.1 711.2L1218.5 710.6L1220 709.9L1221.4 709.3L1222.9 708.6L1224.3 708L1225.8 707.4L1227.2 706.8L1228.6 706.1L1230.1 705.5L1231.5 704.9L1233 704.3L1234.4 703.7L1235.8 703.1L1237.3 702.5L1238.7 702L1240.2 701.4L1241.6 700.8L1243.1 700.2L1244.5 699.7L1245.9 699.1L1247.4 698.5L1248.8 698L1250.3 697.4L1251.7 696.9L1253.1 696.3L1254.6 695.8L1256 695.2L1257.5 694.7L1258.9 694.2L1260.4 693.6L1261.8 693.1L1263.2 692.6L1264.7 692L1266.1 691.5L1267.6 691L1269 690.5L1270.5 690L1271.9 689.5L1273.3 689L1274.8 688.5L1276.2 688L1277.7 687.5L1279.1 687L1280.5 686.5L1282 686L1283.4 685.5L1284.9 685L1286.3 684.6L1287.8 684.1L1289.2 683.6L1290.6 683.1L1292.1 682.7L1293.5 682.2L1295 681.7L1296.4 681.3L1297.8 680.8L1299.3 680.3L1300.7 679.9L1302.2 679.4L1303.6 679L1305.1 678.5L1306.5 678.1L1307.9 677.6L1309.4 677.2L1310.8 676.7L1312.3 676.3L1313.7 675.9L1315.2 675.4L1316.6 675L1318 674.6L1319.5 674.1L1320.9 673.7L1322.4 673.3L1323.8 672.9L1325.2 672.5L1326.7 672L1328.1 671.6L1329.6 671.2L1331 670.8L1332.5 670.4L1333.9 670L1335.3 669.6L1336.8 669.2L1338.2 668.8L1339.7 668.4L1341.1 668L1342.6 667.6L1344 667.2L1345.4 666.8L1346.9 666.4L1348.3 666L1349.8 665.6L1351.2 665.2L1352.6 664.9L1354.1 664.5L1355.5 664.1L1357 663.7L1358.4 663.4L1359.9 663L1361.3 662.6L1362.7 662.2L1364.2 661.9L1365.6 661.5L1367.1 661.1L1368.5 660.8L1370 660.4L1371.4 660.1L1372.8 659.7L1374.3 659.3L1375.7 659L1377.2 658.6L1378.6 658.3L1380 657.9L1381.5 657.6L1382.9 657.2L1384.4 656.9L1385.8 656.5L1387.3 656.2L1388.7 655.9L1390.1 655.5L1391.6 655.2L1393 654.9L1394.5 654.5L1395.9 654.2L1397.3 653.9L1398.8 653.5L1400.2 653.2L1401.7 652.9L1403.1 652.6L1404.6 652.2L1406 651.9L1407.4 651.6L1408.9 651.3L1410.3 651L1411.8 650.6L1413.2 650.3L1414.7 650L1416.1 649.7L1417.5 649.4L1419 649.1L1420.4 648.8L1421.9 648.5L1423.3 648.2L1424.7 647.9L1426.2 647.6L1427.6 647.3L1429.1 647L1430.5 646.7L1432 646.4L1433.4 646.1L1434.8 645.8L1436.3 645.5L1437.7 645.2L1439.2 644.9L1440.6 644.7L1442 644.4L1443.5 644.1L1444.9 643.8L1446.4 643.5L1447.8 643.2L1449.3 643L1450.7 642.7L1452.1 642.4L1453.6 642.1L1455 641.9L1456.5 641.6L1457.9 641.3L1459.4 641L1460.8 640.8L1462.2 640.5L1463.7 640.2L1465.1 640L1466.6 639.7L1468 639.5L1469.4 639.2L1470.9 638.9L1472.3 638.7L1473.8 638.4L1475.2 638.2L1476.7 637.9L1478.1 637.7L1479.5 637.4L1481 637.2L1482.4 636.9L1483.9 636.7" stroke="#9B3572"/>
<path d="M1048.4 419.2L1049.8 456.4L1051.3 490.3L1052.7 521.2L1054.2 549.3L1055.6 574.9L1057 598.1L1058.5 619.1L1059.9 638.2L1061.4 655.4L1062.8 670.9L1064.2 684.9L1065.7 697.4L1067.1 708.7L1068.6 718.8L1070 727.8L1071.5 735.8L1072.9 742.9L1074.3 749.2L1075.8 754.7L1077.2 759.5L1078.7 763.6L1080.1 767.2L1081.5 770.3L1083 772.9L1084.4 775L1085.9 776.8L1087.3 778.2L1088.8 779.2L1090.2 780L1091.6 780.5L1093.1 780.8L1094.5 780.8L1096 780.7L1097.4 780.4L1098.9 779.9L1100.3 779.3L1101.7 778.5L1103.2 777.7L1104.6 776.7L1106.1 775.7L1107.5 774.6L1108.9 773.4L1110.4 772.2L1111.8 770.9L1113.3 769.6L1114.7 768.2L1116.2 766.8L1117.6 765.4L1119 764L1120.5 762.5L1121.9 761.1L1123.4 759.6L1124.8 758.1L1126.3 756.6L1127.7 755.2L1129.1 753.7L1130.6 752.2L1132 750.7L1133.5 749.3L1134.9 747.8L1136.3 746.4L1137.8 745L1139.2 743.6L1140.7 742.2L1142.1 740.8L1143.6 739.4L1145 738L1146.4 736.7L1147.9 735.4L1149.3 734L1150.8 732.7L1152.2 731.5L1153.7 730.2L1155.1 728.9L1156.5 727.7L1158 726.5L1159.4 725.3L1160.9 724.1L1162.3 722.9L1163.7 721.7L1165.2 720.6L1166.6 719.5L1168.1 718.3L1169.5 717.2L1171 716.2L1172.4 715.1L1173.8 714L1175.3 713L1176.7 711.9L1178.2 710.9L1179.6 709.9L1181 708.9L1182.5 707.9L1183.9 707L1185.4 706L1186.8 705L1188.3 704.1L1189.7 703.2L1191.1 702.3L1192.6 701.4L1194 700.5L1195.5 699.6L1196.9 698.7L1198.4 697.8L1199.8 697L1201.2 696.1L1202.7 695.3L1204.1 694.5L1205.6 693.7L1207 692.9L1208.4 692.1L1209.9 691.3L1211.3 690.5L1212.8 689.7L1214.2 688.9L1215.7 688.2L1217.1 687.4L1218.5 686.7L1220 686L1221.4 685.2L1222.9 684.5L1224.3 683.8L1225.8 683.1L1227.2 682.4L1228.6 681.7L1230.1 681L1231.5 680.3L1233 679.7L1234.4 679L1235.8 678.3L1237.3 677.7L1238.7 677L1240.2 676.4L1241.6 675.7L1243.1 675.1L1244.5 674.5L1245.9 673.9L1247.4 673.3L1248.8 672.7L1250.3 672.1L1251.7 671.5L1253.1 670.9L1254.6 670.3L1256 669.7L1257.5 669.1L1258.9 668.6L1260.4 668L1261.8 667.4L1263.2 666.9L1264.7 666.3L1266.1 665.8L1267.6 665.2L1269 664.7L1270.5 664.2L1271.9 663.6L1273.3 663.1L1274.8 662.6L1276.2 662.1L1277.7 661.6L1279.1 661.1L1280.5 660.6L1282 660.1L1283.4 659.6L1284.9 659.1L1286.3 658.6L1287.8 658.1L1289.2 657.7L1290.6 657.2L1292.1 656.7L1293.5 656.3L1295 655.8L1296.4 655.3L1297.8 654.9L1299.3 654.4L1300.7 654L1302.2 653.6L1303.6 653.1L1305.1 652.7L1306.5 652.3L1307.9 651.8L1309.4 651.4L1310.8 651L1312.3 650.6L1313.7 650.2L1315.2 649.8L1316.6 649.4L1318 649L1319.5 648.6L1320.9 648.2L1322.4 647.8L1323.8 647.4L1325.2 647L1326.7 646.6L1328.1 646.2L1329.6 645.9L1331 645.5L1332.5 645.1L1333.9 644.8L1335.3 644.4L1336.8 644L1338.2 643.7L1339.7 643.3L1341.1 643L1342.6 642.6L1344 642.3L1345.4 641.9L1346.9 641.6L1348.3 641.3L1349.8 640.9L1351.2 640.6L1352.6 640.3L1354.1 640L1355.5 639.6L1357 639.3L1358.4 639L1359.9 638.7L1361.3 638.4L1362.7 638.1L1364.2 637.7L1365.6 637.4L1367.1 637.1L1368.5 636.8L1370 636.5L1371.4 636.3L1372.8 636L1374.3 635.7L1375.7 635.4L1377.2 635.1L1378.6 634.8L1380 634.5L1381.5 634.3L1382.9 634L1384.4 633.7L1385.8 633.4L1387.3 633.2L1388.7 632.9L1390.1 632.6L1391.6 632.4L1393 632.1L1394.5 631.9L1395.9 631.6L1397.3 631.4L1398.8 631.1L1400.2 630.9L1401.7 630.6L1403.1 630.4L1404.6 630.1L1406 629.9L1407.4 629.6L1408.9 629.4L1410.3 629.2L1411.8 628.9L1413.2 628.7L1414.7 628.5L1416.1 628.2L1417.5 628L1419 627.8L1420.4 627.6L1421.9 627.4L1423.3 627.1L1424.7 626.9L1426.2 626.7L1427.6 626.5L1429.1 626.3L1430.5 626.1L1432 625.9L1433.4 625.7L1434.8 625.5L1436.3 625.2L1437.7 625L1439.2 624.8L1440.6 624.7L1442 624.5L1443.5 624.3L1444.9 624.1L1446.4 623.9L1447.8 623.7L1449.3 623.5L1450.7 623.3L1452.1 623.1L1453.6 622.9L1455 622.8L1456.5 622.6L1457.9 622.4L1459.4 622.2L1460.8 622.1L1462.2 621.9L1463.7 621.7L1465.1 621.5L1466.6 621.4L1468 621.2L1469.4 621L1470.9 620.9L1472.3 620.7L1473.8 620.5L1475.2 620.4L1476.7 620.2L1478.1 620.1L1479.5 619.9L1481 619.7L1482.4 619.6L1483.9 619.4" stroke="#7E2F73"/>
</g>
<rect x="1164.2" y="388.0" width="44.47" height="44.0" fill="#87C095" stroke="#000" stroke-width="1.9"/>
<rect x="1208.7" y="388.0" width="44.47" height="44.0" fill="#69AE90" stroke="#000" stroke-width="1.9"/>
<rect x="1253.1" y="388.0" width="44.47" height="44.0" fill="#519D8F" stroke="#000" stroke-width="1.9"/>
<rect x="1297.6" y="388.0" width="44.47" height="44.0" fill="#408E8D" stroke="#000" stroke-width="1.9"/>
<rect x="1342.1" y="388.0" width="44.47" height="44.0" fill="#2C7F8C" stroke="#000" stroke-width="1.9"/>
<rect x="1386.5" y="388.0" width="44.47" height="44.0" fill="#1F6C89" stroke="#000" stroke-width="1.9"/>
<rect x="1431.0" y="388.0" width="44.47" height="44.0" fill="#245B87" stroke="#000" stroke-width="1.9"/>
<text transform="translate(1186.4 422.6) scale(0.975 1.034)" font-size="33" text-anchor="middle" fill="#fff">3</text>
<text transform="translate(1230.9 422.6) scale(0.975 1.034)" font-size="33" text-anchor="middle" fill="#fff">7</text>
<text transform="translate(1275.4 422.6) scale(0.975 1.034)" font-size="33" text-anchor="middle" fill="#fff">10</text>
<text transform="translate(1319.8 422.6) scale(0.975 1.034)" font-size="33" text-anchor="middle" fill="#fff">14</text>
<text transform="translate(1364.3 422.6) scale(0.975 1.034)" font-size="33" text-anchor="middle" fill="#fff">28</text>
<text transform="translate(1408.8 422.6) scale(0.975 1.034)" font-size="33" text-anchor="middle" fill="#fff">56</text>
<text transform="translate(1453.3 422.6) scale(0.975 1.034)" font-size="33" text-anchor="middle" fill="#fff">85</text>
<rect x="1165.3" y="789.3" width="44.47" height="44.1" fill="#EC9670" stroke="#000" stroke-width="1.9"/>
<rect x="1209.8" y="789.3" width="44.47" height="44.1" fill="#E67B62" stroke="#000" stroke-width="1.9"/>
<rect x="1254.2" y="789.3" width="44.47" height="44.1" fill="#DC5B5C" stroke="#000" stroke-width="1.9"/>
<rect x="1298.7" y="789.3" width="44.47" height="44.1" fill="#CB4662" stroke="#000" stroke-width="1.9"/>
<rect x="1343.2" y="789.3" width="44.47" height="44.1" fill="#B43C6B" stroke="#000" stroke-width="1.9"/>
<rect x="1387.6" y="789.3" width="44.47" height="44.1" fill="#9B3572" stroke="#000" stroke-width="1.9"/>
<rect x="1432.1" y="789.3" width="44.47" height="44.1" fill="#7E2F73" stroke="#000" stroke-width="1.9"/>
<text transform="translate(1187.5 823.9) scale(0.975 1.034)" font-size="33" text-anchor="middle" fill="#fff">3</text>
<text transform="translate(1232.0 823.9) scale(0.975 1.034)" font-size="33" text-anchor="middle" fill="#fff">7</text>
<text transform="translate(1276.5 823.9) scale(0.975 1.034)" font-size="33" text-anchor="middle" fill="#fff">10</text>
<text transform="translate(1320.9 823.9) scale(0.975 1.034)" font-size="33" text-anchor="middle" fill="#fff">14</text>
<text transform="translate(1365.4 823.9) scale(0.975 1.034)" font-size="33" text-anchor="middle" fill="#fff">28</text>
<text transform="translate(1409.9 823.9) scale(0.975 1.034)" font-size="33" text-anchor="middle" fill="#fff">56</text>
<text transform="translate(1454.4 823.9) scale(0.975 1.034)" font-size="33" text-anchor="middle" fill="#fff">85</text>
<rect x="1044.3" y="76.0" width="438.0" height="362.9" fill="none" stroke="#000" stroke-width="2.1"/>
<path d="M1049.6 438.9v7.6M1136.1 438.9v7.6M1222.7 438.9v7.6M1309.2 438.9v7.6M1395.8 438.9v7.6M1482.3 438.9v7.6" stroke="#000" stroke-width="2.1" fill="none"/>
<rect x="1045.5" y="478.4" width="438.3" height="362.3" fill="none" stroke="#000" stroke-width="2.1"/>
<path d="M1050.7 840.7v7.6M1137.2 840.7v7.6M1223.7 840.7v7.6M1310.3 840.7v7.6M1396.8 840.7v7.6M1483.3 840.7v7.6" stroke="#000" stroke-width="2.1" fill="none"/>
<text transform="translate(1050.7 880.4) scale(0.994 1.11)" font-size="34" text-anchor="middle">0</text>
<text transform="translate(1137.2 880.4) scale(0.994 1.11)" font-size="34" text-anchor="middle">15</text>
<text transform="translate(1223.7 880.4) scale(0.994 1.11)" font-size="34" text-anchor="middle">30</text>
<text transform="translate(1310.3 880.4) scale(0.994 1.11)" font-size="34" text-anchor="middle">45</text>
<text transform="translate(1396.8 880.4) scale(0.994 1.11)" font-size="34" text-anchor="middle">60</text>
<text transform="translate(1483.3 880.4) scale(0.994 1.11)" font-size="34" text-anchor="middle">75</text>
<text transform="translate(1083.0 119.4)" font-size="34.5"><tspan font-style="italic">ν</tspan> =</text>
<text transform="translate(1141.0 119.4) scale(0.97 1.075)" font-size="34.5">-1</text>
<text transform="translate(1083.5 525.5)" font-size="34.5"><tspan font-style="italic">ν</tspan> =</text>
<text transform="translate(1141.5 525.5) scale(1.03 1.075)" font-size="34.5">-2</text>
<text transform="translate(1196.5 370.0)" font-size="32.6">Fluence (µJ/cm<tspan font-size="21.5" dy="-10">2</tspan><tspan dy="10">)</tspan></text>
<text transform="translate(1236.0 772.0)" font-size="32.6">Fl. (µJ/cm<tspan font-size="21.5" dy="-10">2</tspan><tspan dy="10">)</tspan></text>
<path d="M1087.8 598.3L1099.7 652.8" stroke="#000" stroke-width="4.2" fill="none"/>
<path d="M1102.6 666.0L1092.2 652.4L1106.4 649.3Z" fill="#000"/>
<path d="M1154.2 709.8L1199.2 676.3" stroke="#000" stroke-width="4.2" fill="none"/>
<path d="M1210.0 668.2L1201.9 683.3L1193.2 671.7Z" fill="#000"/>
<text transform="translate(1101.0 629.0)" font-size="33.5"><tspan font-style="italic">τ</tspan><tspan font-size="21" dy="7">d</tspan></text>
<text transform="translate(1154.0 676.5)" font-size="33.5"><tspan font-style="italic">τ</tspan><tspan font-size="23" font-style="italic" dy="7" dx="1.5">r</tspan></text>
<text transform="translate(260.7 919.7) scale(1.03 1.076)" font-size="35.5" text-anchor="middle">Δt (ps)</text>
<text transform="translate(751.0 920.7) scale(1.03 1.076)" font-size="35.5" text-anchor="middle">Δt (ps)</text>
<text transform="translate(1265.0 920.7) scale(1.03 1.076)" font-size="35.5" text-anchor="middle">Δt (ps)</text>
<text transform="translate(25.2 457.0) rotate(-90)" font-size="34" text-anchor="middle">Norm. Avg. Δ<tspan font-style="italic">R</tspan>/<tspan font-style="italic">R</tspan></text>
<text transform="translate(1029.6 257.0) rotate(-90) scale(0.982 1.0)" font-size="34" text-anchor="middle">Norm. Δ<tspan font-style="italic">R</tspan>/<tspan font-style="italic">R</tspan> Fit</text>
<text transform="translate(1029.6 658.5) rotate(-90) scale(0.982 1.0)" font-size="34" text-anchor="middle">Norm. Δ<tspan font-style="italic">R</tspan>/<tspan font-style="italic">R</tspan> Fit</text>
<g font-weight="bold" font-size="58.5">
<text transform="translate(5.4 41.5) scale(0.9 1)">a</text>
<text x="493.5" y="41.5">b</text>
<text x="994.5" y="42.5">c</text>
<text x="995" y="469">d</text>
</g>
</svg>
</body></html>
